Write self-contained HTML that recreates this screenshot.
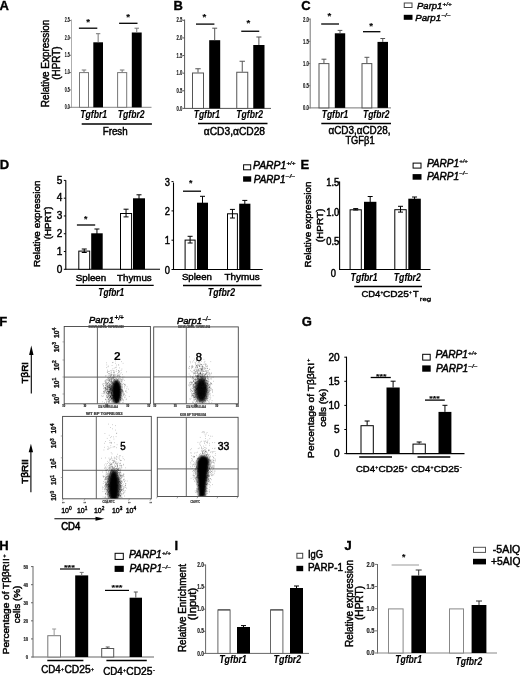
<!DOCTYPE html>
<html><head><meta charset="utf-8"><title>Figure</title>
<style>
html,body{margin:0;padding:0;background:#fff;}
body{width:520px;height:675px;overflow:hidden;}
svg{display:block;}
text{font-family:"Liberation Sans", Arial, sans-serif;}
</style></head>
<body>
<svg width="520" height="675" viewBox="0 0 520 675">
<rect width="520" height="675" fill="#fff"/>
<text x="-0.6" y="9.7" stroke="#000" stroke-width="0.35" font-weight="bold" font-size="13" >A</text>
<text transform="translate(48.6 63.4) rotate(-90)" stroke="#000" stroke-width="0.45" text-anchor="middle" font-size="10" textLength="87.5" lengthAdjust="spacingAndGlyphs" >Relative Expression</text>
<text transform="translate(60.0 63.1) rotate(-90)" stroke="#000" stroke-width="0.45" text-anchor="middle" font-size="10" textLength="33.2" lengthAdjust="spacingAndGlyphs" >(HPRT)</text>
<line x1="71.5" y1="19.5" x2="71.5" y2="107.8" stroke="#999" stroke-width="0.8"/>
<line x1="69" y1="107.3" x2="71" y2="107.3" stroke="#777" stroke-width="1"/>
<text x="69.7" y="109.0" stroke="#222" stroke-width="0.2" font-weight="bold" text-anchor="end" fill="#222" font-size="6.8" textLength="4.9" lengthAdjust="spacingAndGlyphs" >0.0</text>
<line x1="69" y1="89.94999999999999" x2="71" y2="89.94999999999999" stroke="#777" stroke-width="1"/>
<text x="69.7" y="91.64999999999999" stroke="#222" stroke-width="0.2" font-weight="bold" text-anchor="end" fill="#222" font-size="6.8" textLength="4.9" lengthAdjust="spacingAndGlyphs" >0.5</text>
<line x1="69" y1="72.6" x2="71" y2="72.6" stroke="#777" stroke-width="1"/>
<text x="69.7" y="74.3" stroke="#222" stroke-width="0.2" font-weight="bold" text-anchor="end" fill="#222" font-size="6.8" textLength="4.9" lengthAdjust="spacingAndGlyphs" >1.0</text>
<line x1="69" y1="55.24999999999999" x2="71" y2="55.24999999999999" stroke="#777" stroke-width="1"/>
<text x="69.7" y="56.949999999999996" stroke="#222" stroke-width="0.2" font-weight="bold" text-anchor="end" fill="#222" font-size="6.8" textLength="4.9" lengthAdjust="spacingAndGlyphs" >1.5</text>
<line x1="69" y1="37.89999999999999" x2="71" y2="37.89999999999999" stroke="#777" stroke-width="1"/>
<text x="69.7" y="39.599999999999994" stroke="#222" stroke-width="0.2" font-weight="bold" text-anchor="end" fill="#222" font-size="6.8" textLength="4.9" lengthAdjust="spacingAndGlyphs" >2.0</text>
<line x1="69" y1="20.549999999999997" x2="71" y2="20.549999999999997" stroke="#777" stroke-width="1"/>
<text x="69.7" y="22.249999999999996" stroke="#222" stroke-width="0.2" font-weight="bold" text-anchor="end" fill="#222" font-size="6.8" textLength="4.9" lengthAdjust="spacingAndGlyphs" >2.5</text>
<line x1="71" y1="107.3" x2="151.5" y2="107.3" stroke="#888" stroke-width="1"/>
<rect x="79.5" y="72.6" width="9" height="34.7" fill="#fff" stroke="#777" stroke-width="1"/>
<line x1="84.0" y1="70.0" x2="84.0" y2="72.1" stroke="#777" stroke-width="1"/>
<line x1="81.75" y1="70.0" x2="86.25" y2="70.0" stroke="#777" stroke-width="1"/>
<rect x="93.3" y="42.3" width="9.700000000000003" height="65.0" fill="#000"/>
<line x1="98.15" y1="33.7" x2="98.15" y2="42.3" stroke="#777" stroke-width="1"/>
<line x1="95.9675" y1="33.7" x2="100.33250000000001" y2="33.7" stroke="#777" stroke-width="1"/>
<rect x="117.6" y="72.6" width="9.100000000000009" height="34.7" fill="#fff" stroke="#777" stroke-width="1"/>
<line x1="122.15" y1="70.0" x2="122.15" y2="72.1" stroke="#777" stroke-width="1"/>
<line x1="119.8775" y1="70.0" x2="124.42250000000001" y2="70.0" stroke="#777" stroke-width="1"/>
<rect x="131.8" y="32.5" width="9.899999999999977" height="74.8" fill="#000"/>
<line x1="136.75" y1="28.2" x2="136.75" y2="32.5" stroke="#777" stroke-width="1"/>
<line x1="134.5225" y1="28.2" x2="138.9775" y2="28.2" stroke="#777" stroke-width="1"/>
<line x1="78.9" y1="28.2" x2="97.3" y2="28.2" stroke="#000" stroke-width="1.3"/>
<text x="88.2" y="24.6" stroke="#000" stroke-width="0.12" font-weight="bold" text-anchor="middle" font-size="9.600000000000001" >*</text>
<line x1="119.1" y1="23.3" x2="137.5" y2="23.3" stroke="#000" stroke-width="1.3"/>
<text x="128.1" y="19.9" stroke="#000" stroke-width="0.12" font-weight="bold" text-anchor="middle" font-size="9.600000000000001" >*</text>
<text x="80.2" y="117.7" stroke="#000" stroke-width="0.12" font-weight="bold" font-style="italic" font-size="10.2" textLength="27" lengthAdjust="spacingAndGlyphs" >Tgfbr1</text>
<text x="117.7" y="117.7" stroke="#000" stroke-width="0.12" font-weight="bold" font-style="italic" font-size="10.2" textLength="27" lengthAdjust="spacingAndGlyphs" >Tgfbr2</text>
<line x1="81.7" y1="124.0" x2="151.9" y2="124.0" stroke="#000" stroke-width="1.5"/>
<text x="102.7" y="135" stroke="#000" stroke-width="0.45" font-size="10" textLength="25" lengthAdjust="spacingAndGlyphs" >Fresh</text>
<text x="173.5" y="9.8" stroke="#000" stroke-width="0.35" font-weight="bold" font-size="13" >B</text>
<line x1="184.6" y1="19.5" x2="184.6" y2="108.9" stroke="#555" stroke-width="1"/>
<line x1="182.6" y1="108.4" x2="184.6" y2="108.4" stroke="#555" stroke-width="1"/>
<text x="182.3" y="110.5" stroke="#222" stroke-width="0.2" font-weight="bold" text-anchor="end" fill="#222" font-size="6.8" textLength="5.8" lengthAdjust="spacingAndGlyphs" >0.0</text>
<line x1="182.6" y1="90.78" x2="184.6" y2="90.78" stroke="#555" stroke-width="1"/>
<text x="182.3" y="92.88" stroke="#222" stroke-width="0.2" font-weight="bold" text-anchor="end" fill="#222" font-size="6.8" textLength="5.8" lengthAdjust="spacingAndGlyphs" >0.5</text>
<line x1="182.6" y1="73.16" x2="184.6" y2="73.16" stroke="#555" stroke-width="1"/>
<text x="182.3" y="75.25999999999999" stroke="#222" stroke-width="0.2" font-weight="bold" text-anchor="end" fill="#222" font-size="6.8" textLength="5.8" lengthAdjust="spacingAndGlyphs" >1.0</text>
<line x1="182.6" y1="55.540000000000006" x2="184.6" y2="55.540000000000006" stroke="#555" stroke-width="1"/>
<text x="182.3" y="57.64000000000001" stroke="#222" stroke-width="0.2" font-weight="bold" text-anchor="end" fill="#222" font-size="6.8" textLength="5.8" lengthAdjust="spacingAndGlyphs" >1.5</text>
<line x1="182.6" y1="37.92" x2="184.6" y2="37.92" stroke="#555" stroke-width="1"/>
<text x="182.3" y="40.02" stroke="#222" stroke-width="0.2" font-weight="bold" text-anchor="end" fill="#222" font-size="6.8" textLength="5.8" lengthAdjust="spacingAndGlyphs" >2.0</text>
<line x1="182.6" y1="20.299999999999997" x2="184.6" y2="20.299999999999997" stroke="#555" stroke-width="1"/>
<text x="182.3" y="22.4" stroke="#222" stroke-width="0.2" font-weight="bold" text-anchor="end" fill="#222" font-size="6.8" textLength="5.8" lengthAdjust="spacingAndGlyphs" >2.5</text>
<line x1="184.6" y1="108.4" x2="271" y2="108.4" stroke="#555" stroke-width="1"/>
<rect x="192.5" y="73.0" width="11" height="35.400000000000006" fill="#fff" stroke="#555" stroke-width="1"/>
<line x1="198.0" y1="68.75" x2="198.0" y2="72.5" stroke="#555" stroke-width="1"/>
<line x1="195.3" y1="68.75" x2="200.7" y2="68.75" stroke="#555" stroke-width="1"/>
<rect x="209.2" y="40.2" width="11.0" height="68.2" fill="#000"/>
<line x1="214.7" y1="28.2" x2="214.7" y2="40.2" stroke="#555" stroke-width="1"/>
<line x1="212.225" y1="28.2" x2="217.17499999999998" y2="28.2" stroke="#555" stroke-width="1"/>
<rect x="236.75" y="72.25" width="11.0" height="36.150000000000006" fill="#fff" stroke="#555" stroke-width="1"/>
<line x1="242.25" y1="61.25" x2="242.25" y2="71.75" stroke="#555" stroke-width="1"/>
<line x1="239.55" y1="61.25" x2="244.95" y2="61.25" stroke="#555" stroke-width="1"/>
<rect x="253.25" y="45" width="11.25" height="63.400000000000006" fill="#000"/>
<line x1="258.875" y1="37" x2="258.875" y2="45" stroke="#555" stroke-width="1"/>
<line x1="256.34375" y1="37" x2="261.40625" y2="37" stroke="#555" stroke-width="1"/>
<line x1="196" y1="24.1" x2="214.4" y2="24.1" stroke="#000" stroke-width="1.3"/>
<text x="204.4" y="19.8" stroke="#000" stroke-width="0.12" font-weight="bold" text-anchor="middle" font-size="9.600000000000001" >*</text>
<line x1="241.25" y1="31.25" x2="259.25" y2="31.25" stroke="#000" stroke-width="1.3"/>
<text x="248.25" y="26.3" stroke="#000" stroke-width="0.12" font-weight="bold" text-anchor="middle" font-size="9.600000000000001" >*</text>
<text x="193.75" y="117.5" stroke="#000" stroke-width="0.12" font-weight="bold" font-style="italic" font-size="10.2" textLength="26.3" lengthAdjust="spacingAndGlyphs" >Tgfbr1</text>
<text x="236.25" y="117.5" stroke="#000" stroke-width="0.12" font-weight="bold" font-style="italic" font-size="10.2" textLength="26.8" lengthAdjust="spacingAndGlyphs" >Tgfbr2</text>
<line x1="198" y1="123.5" x2="267.5" y2="123.5" stroke="#000" stroke-width="1.5"/>
<text x="203.75" y="134.5" stroke="#000" stroke-width="0.45" font-size="10" textLength="61.3" lengthAdjust="spacingAndGlyphs" >αCD3,αCD28</text>
<text x="301.3" y="9.7" stroke="#000" stroke-width="0.35" font-weight="bold" font-size="13" >C</text>
<line x1="310.2" y1="18.5" x2="310.2" y2="108.4" stroke="#777" stroke-width="1"/>
<line x1="308.2" y1="107.9" x2="310.2" y2="107.9" stroke="#777" stroke-width="1"/>
<text x="308.9" y="110.30000000000001" stroke="#222" stroke-width="0.2" font-weight="bold" text-anchor="end" fill="#222" font-size="6.6" textLength="5.8" lengthAdjust="spacingAndGlyphs" >0.0</text>
<line x1="308.2" y1="85.72500000000001" x2="310.2" y2="85.72500000000001" stroke="#777" stroke-width="1"/>
<text x="308.9" y="88.12500000000001" stroke="#222" stroke-width="0.2" font-weight="bold" text-anchor="end" fill="#222" font-size="6.6" textLength="5.8" lengthAdjust="spacingAndGlyphs" >0.5</text>
<line x1="308.2" y1="63.550000000000004" x2="310.2" y2="63.550000000000004" stroke="#777" stroke-width="1"/>
<text x="308.9" y="65.95" stroke="#222" stroke-width="0.2" font-weight="bold" text-anchor="end" fill="#222" font-size="6.6" textLength="5.8" lengthAdjust="spacingAndGlyphs" >1.0</text>
<line x1="308.2" y1="41.375" x2="310.2" y2="41.375" stroke="#777" stroke-width="1"/>
<text x="308.9" y="43.775" stroke="#222" stroke-width="0.2" font-weight="bold" text-anchor="end" fill="#222" font-size="6.6" textLength="5.8" lengthAdjust="spacingAndGlyphs" >1.5</text>
<line x1="308.2" y1="19.200000000000003" x2="310.2" y2="19.200000000000003" stroke="#777" stroke-width="1"/>
<text x="308.9" y="21.6" stroke="#222" stroke-width="0.2" font-weight="bold" text-anchor="end" fill="#222" font-size="6.6" textLength="5.8" lengthAdjust="spacingAndGlyphs" >2.0</text>
<line x1="310.2" y1="107.9" x2="391" y2="107.9" stroke="#777" stroke-width="1"/>
<rect x="319.0" y="63.6" width="9.899999999999977" height="44.300000000000004" fill="#fff" stroke="#555" stroke-width="1"/>
<line x1="323.95" y1="59.2" x2="323.95" y2="63.1" stroke="#555" stroke-width="1"/>
<line x1="321.4975" y1="59.2" x2="326.4025" y2="59.2" stroke="#555" stroke-width="1"/>
<rect x="334.8" y="33.3" width="10.399999999999977" height="74.60000000000001" fill="#000"/>
<line x1="340.0" y1="30.4" x2="340.0" y2="33.3" stroke="#555" stroke-width="1"/>
<line x1="337.66" y1="30.4" x2="342.34" y2="30.4" stroke="#555" stroke-width="1"/>
<rect x="362.0" y="63.6" width="9.800000000000011" height="44.300000000000004" fill="#fff" stroke="#555" stroke-width="1"/>
<line x1="366.9" y1="57.3" x2="366.9" y2="63.1" stroke="#555" stroke-width="1"/>
<line x1="364.46999999999997" y1="57.3" x2="369.33" y2="57.3" stroke="#555" stroke-width="1"/>
<rect x="377.5" y="41.9" width="10.5" height="66.0" fill="#000"/>
<line x1="382.75" y1="38.5" x2="382.75" y2="41.9" stroke="#555" stroke-width="1"/>
<line x1="380.3875" y1="38.5" x2="385.1125" y2="38.5" stroke="#555" stroke-width="1"/>
<line x1="321.2" y1="24" x2="339" y2="24" stroke="#000" stroke-width="1.3"/>
<text x="329.4" y="18.8" stroke="#000" stroke-width="0.12" font-weight="bold" text-anchor="middle" font-size="9.600000000000001" >*</text>
<line x1="363" y1="31.7" x2="380.4" y2="31.7" stroke="#000" stroke-width="1.3"/>
<text x="371.2" y="29.0" stroke="#000" stroke-width="0.12" font-weight="bold" text-anchor="middle" font-size="9.600000000000001" >*</text>
<text x="321.7" y="117.7" stroke="#000" stroke-width="0.12" font-weight="bold" font-style="italic" font-size="10.0" textLength="26.5" lengthAdjust="spacingAndGlyphs" >Tgfbr1</text>
<text x="363" y="117.7" stroke="#000" stroke-width="0.12" font-weight="bold" font-style="italic" font-size="10.0" textLength="26.4" lengthAdjust="spacingAndGlyphs" >Tgfbr2</text>
<line x1="321.3" y1="123.6" x2="391" y2="123.6" stroke="#000" stroke-width="1.5"/>
<text x="328.5" y="134" stroke="#000" stroke-width="0.45" font-size="10" textLength="62" lengthAdjust="spacingAndGlyphs" >αCD3,αCD28,</text>
<text x="345.4" y="143.9" stroke="#000" stroke-width="0.45" font-size="10" textLength="29.2" lengthAdjust="spacingAndGlyphs" >TGFβ1</text>
<rect x="404.25" y="3.0" width="7.75" height="4.5" fill="#fff" stroke="#444" stroke-width="1"/>
<rect x="403.75" y="14.8" width="8.75" height="5.0" fill="#000"/>
<text x="417" y="8.9" stroke="#000" stroke-width="0.45" font-style="italic" font-size="9.8" textLength="25.4" lengthAdjust="spacingAndGlyphs" >Parp1</text>
<text x="442.6" y="5.6" stroke="#000" stroke-width="0.2" font-weight="bold" font-style="italic" font-size="6.2" textLength="9" lengthAdjust="spacingAndGlyphs" >+/+</text>
<text x="415.3" y="20.6" stroke="#000" stroke-width="0.45" font-style="italic" font-size="9.8" textLength="25.8" lengthAdjust="spacingAndGlyphs" >Parp1</text>
<text x="441.5" y="17.3" stroke="#000" stroke-width="0.2" font-weight="bold" font-style="italic" font-size="6.2" textLength="9" lengthAdjust="spacingAndGlyphs" >–/–</text>
<text x="-0.2" y="168.8" stroke="#000" stroke-width="0.35" font-weight="bold" font-size="13" >D</text>
<text transform="translate(40.4 223.7) rotate(-90)" stroke="#000" stroke-width="0.45" text-anchor="middle" font-size="9.5" textLength="86.4" lengthAdjust="spacingAndGlyphs" >Relative expression</text>
<text transform="translate(50.6 222.9) rotate(-90)" stroke="#000" stroke-width="0.45" text-anchor="middle" font-size="9.5" textLength="32.6" lengthAdjust="spacingAndGlyphs" >(HPRT)</text>
<line x1="65.8" y1="180.3" x2="65.8" y2="269.8" stroke="#000" stroke-width="1.1"/>
<line x1="63.8" y1="269.3" x2="65.8" y2="269.3" stroke="#000" stroke-width="1"/>
<text x="62.3" y="272.6" stroke="#000" stroke-width="0.45" text-anchor="end" font-size="10.5" textLength="5.6" lengthAdjust="spacingAndGlyphs" >0</text>
<line x1="63.8" y1="251.52" x2="65.8" y2="251.52" stroke="#000" stroke-width="1"/>
<text x="62.3" y="254.82000000000002" stroke="#000" stroke-width="0.45" text-anchor="end" font-size="10.5" textLength="5.6" lengthAdjust="spacingAndGlyphs" >1</text>
<line x1="63.8" y1="233.74" x2="65.8" y2="233.74" stroke="#000" stroke-width="1"/>
<text x="62.3" y="237.04000000000002" stroke="#000" stroke-width="0.45" text-anchor="end" font-size="10.5" textLength="5.6" lengthAdjust="spacingAndGlyphs" >2</text>
<line x1="63.8" y1="215.96" x2="65.8" y2="215.96" stroke="#000" stroke-width="1"/>
<text x="62.3" y="219.26000000000002" stroke="#000" stroke-width="0.45" text-anchor="end" font-size="10.5" textLength="5.6" lengthAdjust="spacingAndGlyphs" >3</text>
<line x1="63.8" y1="198.18" x2="65.8" y2="198.18" stroke="#000" stroke-width="1"/>
<text x="62.3" y="201.48000000000002" stroke="#000" stroke-width="0.45" text-anchor="end" font-size="10.5" textLength="5.6" lengthAdjust="spacingAndGlyphs" >4</text>
<line x1="63.8" y1="180.4" x2="65.8" y2="180.4" stroke="#000" stroke-width="1"/>
<text x="62.3" y="183.70000000000002" stroke="#000" stroke-width="0.45" text-anchor="end" font-size="10.5" textLength="5.6" lengthAdjust="spacingAndGlyphs" >5</text>
<line x1="65.8" y1="269.3" x2="160" y2="269.3" stroke="#000" stroke-width="1.1"/>
<rect x="78.8" y="251.1" width="10.900000000000006" height="18.200000000000017" fill="#fff" stroke="#000" stroke-width="1"/>
<line x1="84.25" y1="249.0" x2="84.25" y2="252.5" stroke="#000" stroke-width="1"/>
<line x1="81.75" y1="249.0" x2="86.75" y2="249.0" stroke="#000" stroke-width="1"/>
<line x1="81.75" y1="252.5" x2="86.75" y2="252.5" stroke="#000" stroke-width="1"/>
<rect x="91.2" y="233.3" width="11.5" height="36.0" fill="#000"/>
<line x1="96.95" y1="229" x2="96.95" y2="237" stroke="#000" stroke-width="1"/>
<line x1="94.45" y1="229" x2="99.45" y2="229" stroke="#000" stroke-width="1"/>
<line x1="94.45" y1="237" x2="99.45" y2="237" stroke="#000" stroke-width="1"/>
<rect x="120.5" y="213.5" width="11.099999999999994" height="55.80000000000001" fill="#fff" stroke="#000" stroke-width="1"/>
<line x1="126.05" y1="209.2" x2="126.05" y2="216.9" stroke="#000" stroke-width="1"/>
<line x1="123.55" y1="209.2" x2="128.55" y2="209.2" stroke="#000" stroke-width="1"/>
<line x1="123.55" y1="216.9" x2="128.55" y2="216.9" stroke="#000" stroke-width="1"/>
<rect x="133" y="198.3" width="12" height="71.0" fill="#000"/>
<line x1="139.0" y1="194.8" x2="139.0" y2="200.6" stroke="#000" stroke-width="1"/>
<line x1="136.5" y1="194.8" x2="141.5" y2="194.8" stroke="#000" stroke-width="1"/>
<line x1="136.5" y1="200.6" x2="141.5" y2="200.6" stroke="#000" stroke-width="1"/>
<line x1="76.9" y1="225" x2="95.2" y2="225" stroke="#000" stroke-width="1.3"/>
<text x="85.6" y="221.5" stroke="#000" stroke-width="0.12" font-weight="bold" text-anchor="middle" font-size="8.8" >*</text>
<text x="75.8" y="280.5" stroke="#000" stroke-width="0.45" font-size="9.5" textLength="30.4" lengthAdjust="spacingAndGlyphs" >Spleen</text>
<text x="117.1" y="280.5" stroke="#000" stroke-width="0.45" font-size="9.5" textLength="34.6" lengthAdjust="spacingAndGlyphs" >Thymus</text>
<line x1="75.8" y1="285.4" x2="153.7" y2="285.4" stroke="#000" stroke-width="1.4"/>
<text x="98.3" y="296" stroke="#000" stroke-width="0.12" font-weight="bold" font-style="italic" font-size="10" textLength="25.9" lengthAdjust="spacingAndGlyphs" >Tgfbr1</text>
<line x1="173.5" y1="182.5" x2="173.5" y2="270.0" stroke="#000" stroke-width="1.1"/>
<line x1="171.5" y1="269.5" x2="173.5" y2="269.5" stroke="#000" stroke-width="1"/>
<text x="170" y="274.3" stroke="#000" stroke-width="0.45" text-anchor="end" font-size="10.5" textLength="5.2" lengthAdjust="spacingAndGlyphs" >0</text>
<line x1="171.5" y1="240.2" x2="173.5" y2="240.2" stroke="#000" stroke-width="1"/>
<text x="170" y="244.1" stroke="#000" stroke-width="0.45" text-anchor="end" font-size="10.5" textLength="5.2" lengthAdjust="spacingAndGlyphs" >1</text>
<line x1="171.5" y1="210.9" x2="173.5" y2="210.9" stroke="#000" stroke-width="1"/>
<text x="170" y="214.8" stroke="#000" stroke-width="0.45" text-anchor="end" font-size="10.5" textLength="5.2" lengthAdjust="spacingAndGlyphs" >2</text>
<line x1="171.5" y1="181.6" x2="173.5" y2="181.6" stroke="#000" stroke-width="1"/>
<text x="170" y="185.5" stroke="#000" stroke-width="0.45" text-anchor="end" font-size="10.5" textLength="5.2" lengthAdjust="spacingAndGlyphs" >3</text>
<line x1="173.5" y1="269.5" x2="262.7" y2="269.5" stroke="#000" stroke-width="1.1"/>
<rect x="185.1" y="240.1" width="10.0" height="29.400000000000006" fill="#fff" stroke="#000" stroke-width="1"/>
<line x1="190.1" y1="236.3" x2="190.1" y2="243" stroke="#000" stroke-width="1"/>
<line x1="187.6" y1="236.3" x2="192.6" y2="236.3" stroke="#000" stroke-width="1"/>
<line x1="187.6" y1="243" x2="192.6" y2="243" stroke="#000" stroke-width="1"/>
<rect x="197" y="202.7" width="11" height="66.80000000000001" fill="#000"/>
<line x1="202.5" y1="196.3" x2="202.5" y2="208" stroke="#000" stroke-width="1"/>
<line x1="200.0" y1="196.3" x2="205.0" y2="196.3" stroke="#000" stroke-width="1"/>
<line x1="200.0" y1="208" x2="205.0" y2="208" stroke="#000" stroke-width="1"/>
<rect x="227.5" y="213.8" width="9.900000000000006" height="55.69999999999999" fill="#fff" stroke="#000" stroke-width="1"/>
<line x1="232.45" y1="209.4" x2="232.45" y2="218" stroke="#000" stroke-width="1"/>
<line x1="229.95" y1="209.4" x2="234.95" y2="209.4" stroke="#000" stroke-width="1"/>
<line x1="229.95" y1="218" x2="234.95" y2="218" stroke="#000" stroke-width="1"/>
<rect x="239.2" y="203.7" width="11.200000000000017" height="65.80000000000001" fill="#000"/>
<line x1="244.8" y1="200.4" x2="244.8" y2="206" stroke="#000" stroke-width="1"/>
<line x1="242.3" y1="200.4" x2="247.3" y2="200.4" stroke="#000" stroke-width="1"/>
<line x1="242.3" y1="206" x2="247.3" y2="206" stroke="#000" stroke-width="1"/>
<line x1="183" y1="191.2" x2="201" y2="191.2" stroke="#000" stroke-width="1.3"/>
<text x="190.8" y="186.2" stroke="#000" stroke-width="0.12" font-weight="bold" text-anchor="middle" font-size="8.8" >*</text>
<text x="181.9" y="280.4" stroke="#000" stroke-width="0.45" font-size="9.5" textLength="30" lengthAdjust="spacingAndGlyphs" >Spleen</text>
<text x="224.6" y="280.4" stroke="#000" stroke-width="0.45" font-size="9.5" textLength="35.1" lengthAdjust="spacingAndGlyphs" >Thymus</text>
<line x1="183" y1="285.5" x2="261.5" y2="285.5" stroke="#000" stroke-width="1.4"/>
<text x="207.8" y="295.6" stroke="#000" stroke-width="0.12" font-weight="bold" font-style="italic" font-size="10" textLength="27.2" lengthAdjust="spacingAndGlyphs" >Tgfbr2</text>
<rect x="243.6" y="164.8" width="7.099999999999994" height="5.0" fill="#fff" stroke="#000" stroke-width="1"/>
<rect x="243.1" y="176.3" width="8.099999999999994" height="5.399999999999977" fill="#000"/>
<text x="253" y="169.2" stroke="#000" stroke-width="0.45" font-style="italic" font-size="10" textLength="33.2" lengthAdjust="spacingAndGlyphs" >PARP1</text>
<text x="286.4" y="165.0" stroke="#000" stroke-width="0.2" font-weight="bold" font-style="italic" font-size="6" textLength="9" lengthAdjust="spacingAndGlyphs" >+/+</text>
<text x="253.8" y="182.7" stroke="#000" stroke-width="0.45" font-style="italic" font-size="10" textLength="31.6" lengthAdjust="spacingAndGlyphs" >PARP1</text>
<text x="285.6" y="177.8" stroke="#000" stroke-width="0.2" font-weight="bold" font-style="italic" font-size="6" textLength="9.5" lengthAdjust="spacingAndGlyphs" >–/–</text>
<text x="300.6" y="168.8" stroke="#000" stroke-width="0.35" font-weight="bold" font-size="13" >E</text>
<text transform="translate(311.0 224.5) rotate(-90)" stroke="#000" stroke-width="0.45" text-anchor="middle" font-size="9.5" textLength="85.8" lengthAdjust="spacingAndGlyphs" >Relative expression</text>
<text transform="translate(322.8 225.4) rotate(-90)" stroke="#000" stroke-width="0.45" text-anchor="middle" font-size="9.5" textLength="33.5" lengthAdjust="spacingAndGlyphs" >(HPRT)</text>
<line x1="339.6" y1="181.5" x2="339.6" y2="270.0" stroke="#000" stroke-width="1.1"/>
<line x1="337.6" y1="182.2" x2="339.6" y2="182.2" stroke="#000" stroke-width="1"/>
<text x="339.2" y="185.79999999999998" stroke="#000" stroke-width="0.45" text-anchor="end" font-size="10" textLength="13" lengthAdjust="spacingAndGlyphs" >1.5</text>
<line x1="337.6" y1="212" x2="339.6" y2="212" stroke="#000" stroke-width="1"/>
<text x="339.2" y="215.6" stroke="#000" stroke-width="0.45" text-anchor="end" font-size="10" textLength="13" lengthAdjust="spacingAndGlyphs" >1.0</text>
<line x1="337.6" y1="241.7" x2="339.6" y2="241.7" stroke="#000" stroke-width="1"/>
<text x="339.2" y="245.29999999999998" stroke="#000" stroke-width="0.45" text-anchor="end" font-size="10" textLength="13" lengthAdjust="spacingAndGlyphs" >0.5</text>
<text x="336" y="276.6" stroke="#000" stroke-width="0.45" text-anchor="end" font-size="10" textLength="5.2" lengthAdjust="spacingAndGlyphs" >0</text>
<line x1="339.6" y1="269.5" x2="430.4" y2="269.5" stroke="#000" stroke-width="1.1"/>
<rect x="350.1" y="209.8" width="11.199999999999989" height="59.69999999999999" fill="#fff" stroke="#000" stroke-width="1"/>
<line x1="355.70000000000005" y1="208.6" x2="355.70000000000005" y2="210" stroke="#000" stroke-width="1"/>
<line x1="353.20000000000005" y1="208.6" x2="358.20000000000005" y2="208.6" stroke="#000" stroke-width="1"/>
<line x1="353.20000000000005" y1="210" x2="358.20000000000005" y2="210" stroke="#000" stroke-width="1"/>
<rect x="364" y="201.8" width="12.399999999999977" height="67.69999999999999" fill="#000"/>
<line x1="370.2" y1="196.5" x2="370.2" y2="205" stroke="#000" stroke-width="1"/>
<line x1="367.7" y1="196.5" x2="372.7" y2="196.5" stroke="#000" stroke-width="1"/>
<line x1="367.7" y1="205" x2="372.7" y2="205" stroke="#000" stroke-width="1"/>
<rect x="394.8" y="209.7" width="11.399999999999977" height="59.80000000000001" fill="#fff" stroke="#000" stroke-width="1"/>
<line x1="400.5" y1="206.3" x2="400.5" y2="212.1" stroke="#000" stroke-width="1"/>
<line x1="398.0" y1="206.3" x2="403.0" y2="206.3" stroke="#000" stroke-width="1"/>
<line x1="398.0" y1="212.1" x2="403.0" y2="212.1" stroke="#000" stroke-width="1"/>
<rect x="408.3" y="198.7" width="12.5" height="70.80000000000001" fill="#000"/>
<line x1="414.55" y1="197" x2="414.55" y2="200" stroke="#000" stroke-width="1"/>
<line x1="412.05" y1="197" x2="417.05" y2="197" stroke="#000" stroke-width="1"/>
<line x1="412.05" y1="200" x2="417.05" y2="200" stroke="#000" stroke-width="1"/>
<text x="350.6" y="280.6" stroke="#000" stroke-width="0.12" font-weight="bold" font-style="italic" font-size="10" textLength="26.9" lengthAdjust="spacingAndGlyphs" >Tgfbr1</text>
<text x="393.8" y="280.6" stroke="#000" stroke-width="0.12" font-weight="bold" font-style="italic" font-size="10" textLength="27" lengthAdjust="spacingAndGlyphs" >Tgfbr2</text>
<line x1="354.2" y1="286.5" x2="422" y2="286.5" stroke="#000" stroke-width="1.4"/>
<text x="361.4" y="297.3" stroke="#000" stroke-width="0.45" font-size="9.5" textLength="18.9" lengthAdjust="spacingAndGlyphs" >CD4</text>
<text x="380.6" y="294.3" stroke="#000" stroke-width="0.3" font-size="5.5" textLength="2.8" lengthAdjust="spacingAndGlyphs" >+</text>
<text x="383.0" y="297.3" stroke="#000" stroke-width="0.45" font-size="9.5" textLength="25.8" lengthAdjust="spacingAndGlyphs" >CD25</text>
<text x="408.9" y="294.3" stroke="#000" stroke-width="0.3" font-size="5.5" textLength="2.8" lengthAdjust="spacingAndGlyphs" >+</text>
<text x="413.0" y="297.3" stroke="#000" stroke-width="0.45" font-size="9.5" textLength="5.6" lengthAdjust="spacingAndGlyphs" >T</text>
<text x="419.8" y="300.6" stroke="#000" stroke-width="0.3" font-size="6.2" textLength="11.5" lengthAdjust="spacingAndGlyphs" >reg</text>
<rect x="413.1" y="163.1" width="7.899999999999977" height="5.0" fill="#fff" stroke="#000" stroke-width="1"/>
<rect x="412.6" y="174.1" width="8.899999999999977" height="5.599999999999994" fill="#000"/>
<text x="426.9" y="167" stroke="#000" stroke-width="0.45" font-style="italic" font-size="10" textLength="32.3" lengthAdjust="spacingAndGlyphs" >PARP1</text>
<text x="459.3" y="163.0" stroke="#000" stroke-width="0.2" font-weight="bold" font-style="italic" font-size="6" textLength="8.5" lengthAdjust="spacingAndGlyphs" >+/+</text>
<text x="426.9" y="179.6" stroke="#000" stroke-width="0.45" font-style="italic" font-size="10" textLength="32.3" lengthAdjust="spacingAndGlyphs" >PARP1</text>
<text x="459.3" y="175.4" stroke="#000" stroke-width="0.2" font-weight="bold" font-style="italic" font-size="6" textLength="8.5" lengthAdjust="spacingAndGlyphs" >–/–</text>
<text x="-0.8" y="325.8" stroke="#000" stroke-width="0.35" font-weight="bold" font-size="13" >F</text>
<rect x="64.2" y="326.5" width="86.2" height="77.30000000000001" fill="none" stroke="#444" stroke-width="0.9"/>
<line x1="97.4" y1="326.5" x2="97.4" y2="403.8" stroke="#555" stroke-width="0.9"/>
<line x1="64.2" y1="377.1" x2="150.4" y2="377.1" stroke="#555" stroke-width="0.9"/>
<rect x="153.7" y="326.9" width="84.60000000000002" height="76.90000000000003" fill="none" stroke="#444" stroke-width="0.9"/>
<line x1="186.3" y1="326.9" x2="186.3" y2="403.8" stroke="#555" stroke-width="0.9"/>
<line x1="153.7" y1="376.9" x2="238.3" y2="376.9" stroke="#555" stroke-width="0.9"/>
<rect x="62.6" y="416.4" width="88.70000000000002" height="82.40000000000003" fill="none" stroke="#444" stroke-width="0.9"/>
<line x1="96.3" y1="416.4" x2="96.3" y2="498.8" stroke="#555" stroke-width="0.9"/>
<line x1="62.6" y1="470.3" x2="151.3" y2="470.3" stroke="#555" stroke-width="0.9"/>
<rect x="157.3" y="417.3" width="80.79999999999998" height="79.19999999999999" fill="none" stroke="#444" stroke-width="0.9"/>
<line x1="186.3" y1="417.3" x2="186.3" y2="496.5" stroke="#555" stroke-width="0.9"/>
<line x1="157.3" y1="468.9" x2="238.1" y2="468.9" stroke="#555" stroke-width="0.9"/>
<defs><filter id="bl" x="-50%" y="-50%" width="200%" height="200%"><feGaussianBlur stdDeviation="1.1"/></filter><filter id="bl2" x="-50%" y="-50%" width="200%" height="200%"><feGaussianBlur stdDeviation="1.6"/></filter><clipPath id="c1"><rect x="64.6" y="326.9" width="85.4" height="76.5"/></clipPath><clipPath id="c2"><rect x="154.1" y="327.3" width="83.8" height="76.1"/></clipPath><clipPath id="c3"><rect x="63" y="416.8" width="87.9" height="81.6"/></clipPath><clipPath id="c4"><rect x="157.7" y="417.7" width="80" height="78.4"/></clipPath></defs>
<g clip-path="url(#c1)">
<path d="M116.6 390.0h.5M121.4 390.5h.5M110.9 390.9h.5M109.3 373.8h.5M114.3 391.3h.5M113.0 377.0h.5M119.3 389.7h.5M115.6 379.6h.5M124.4 384.5h.5M118.3 388.4h.5M113.1 391.7h.5M120.5 397.6h.5M114.8 386.1h.5M122.2 387.9h.5M110.1 388.3h.5M118.3 389.8h.5M116.8 379.0h.5M125.5 391.4h.5M114.3 388.5h.5M110.3 390.3h.5M112.5 390.8h.5M119.1 371.9h.5M108.1 391.1h.5M110.7 388.6h.5M109.3 384.7h.5M113.7 384.1h.5M111.5 378.3h.5M112.3 388.2h.5M117.3 383.6h.5M112.9 401.4h.5M113.8 395.4h.5M112.6 393.3h.5M118.8 394.6h.5M119.2 379.4h.5M110.5 396.9h.5M115.4 392.2h.5M110.7 388.6h.5M112.2 381.6h.5M116.8 393.0h.5M118.6 386.1h.5M105.1 389.8h.5M115.4 401.3h.5M115.0 390.4h.5M117.6 381.1h.5M109.1 389.9h.5M114.9 392.1h.5M116.7 400.1h.5M122.4 374.6h.5M114.0 391.8h.5M112.5 389.5h.5M110.1 387.1h.5M115.7 388.1h.5M117.9 383.4h.5M110.6 390.0h.5M116.7 381.1h.5M122.2 399.2h.5M122.0 390.4h.5M114.3 392.5h.5M114.8 391.8h.5M117.0 375.7h.5M107.3 388.7h.5M111.6 391.8h.5M109.9 391.0h.5M114.6 394.4h.5M114.3 396.8h.5M117.0 391.5h.5M118.9 382.1h.5M113.4 401.4h.5M119.7 386.7h.5M113.1 385.7h.5M109.3 381.3h.5M110.7 384.5h.5M114.2 393.3h.5M110.2 389.6h.5M107.3 389.7h.5M108.2 399.4h.5M111.9 383.1h.5M106.8 379.7h.5M110.5 376.8h.5M113.6 378.2h.5M110.2 398.8h.5M113.4 397.0h.5M114.8 389.3h.5M114.9 383.5h.5M114.7 395.2h.5M112.7 388.0h.5M112.4 378.6h.5M113.2 388.7h.5M109.7 390.8h.5M107.5 394.7h.5M114.0 384.4h.5M120.6 394.6h.5M103.6 388.7h.5M113.5 400.8h.5M117.2 384.1h.5M118.6 389.5h.5M110.6 393.1h.5M113.5 375.6h.5M117.0 397.6h.5M117.7 388.9h.5M118.8 392.6h.5M115.0 388.6h.5M114.3 381.8h.5M116.7 382.2h.5M113.0 394.2h.5M116.1 382.7h.5M113.6 390.6h.5M116.2 390.5h.5M111.4 393.8h.5M116.2 388.8h.5M110.5 386.9h.5M118.4 388.1h.5M114.7 398.1h.5M117.5 400.3h.5M118.1 372.8h.5M116.9 375.6h.5M120.8 370.4h.5M112.9 379.7h.5M114.7 392.5h.5M115.1 375.7h.5M114.9 389.5h.5M113.5 380.8h.5M119.4 388.2h.5M112.8 390.7h.5M118.0 395.6h.5M117.7 384.3h.5M116.9 384.5h.5M111.0 383.6h.5M114.7 395.9h.5M117.2 400.5h.5M116.2 387.8h.5M113.9 375.5h.5M111.9 394.7h.5M109.9 396.7h.5M105.5 386.0h.5M113.1 374.9h.5M112.5 395.4h.5M113.0 399.9h.5M112.9 396.5h.5M113.9 375.2h.5M110.1 396.9h.5M123.4 391.3h.5M116.6 386.3h.5M119.2 389.8h.5M110.3 391.6h.5M122.3 390.9h.5M112.1 391.6h.5M105.4 385.6h.5M113.1 398.8h.5M112.3 400.1h.5M119.5 387.0h.5M116.8 384.5h.5M112.6 390.3h.5M117.9 400.2h.5M118.8 395.6h.5M119.9 389.3h.5M111.1 388.1h.5M117.5 389.8h.5M117.8 389.2h.5M111.1 390.7h.5M117.0 393.0h.5M112.2 398.2h.5M106.9 387.6h.5M114.2 383.9h.5M110.8 372.6h.5M117.8 389.5h.5M115.0 397.1h.5M108.9 387.7h.5M113.3 382.6h.5M113.5 397.3h.5M112.3 396.4h.5M120.5 397.4h.5M104.1 402.5h.5M114.2 392.3h.5M116.2 391.1h.5M124.6 384.2h.5M112.7 388.2h.5M109.7 386.3h.5M117.5 393.1h.5M110.2 396.5h.5M115.9 384.2h.5M106.0 383.8h.5M123.4 383.5h.5M115.8 401.0h.5M110.8 390.4h.5M120.0 393.7h.5M115.4 394.6h.5M114.0 385.0h.5M111.5 386.8h.5M111.3 388.7h.5M119.5 385.8h.5M119.0 388.5h.5M111.1 375.2h.5M111.4 388.4h.5M108.3 389.7h.5M108.2 391.9h.5M116.5 387.1h.5M118.2 401.6h.5M113.5 397.7h.5M120.1 397.9h.5M116.1 381.6h.5M109.5 386.2h.5M111.0 385.9h.5M128.2 389.2h.5M119.3 396.1h.5M117.9 394.3h.5M108.4 391.4h.5M114.3 389.1h.5M111.0 392.2h.5M120.3 376.5h.5M116.2 383.6h.5M123.5 402.2h.5M117.7 400.7h.5M119.3 392.4h.5M111.9 390.5h.5M107.7 378.5h.5M113.7 388.2h.5M110.7 378.3h.5M107.0 394.9h.5M118.7 387.6h.5M118.1 380.1h.5M115.1 403.2h.5M110.6 390.8h.5M113.7 383.4h.5M122.7 391.0h.5M121.9 379.5h.5M116.5 392.5h.5M108.7 386.2h.5M111.5 377.9h.5M122.1 377.1h.5M115.7 388.2h.5M115.6 400.2h.5M117.6 382.0h.5M118.7 385.9h.5M119.9 389.1h.5M113.4 381.5h.5M122.8 379.6h.5M118.5 387.9h.5M112.1 400.9h.5M115.9 388.8h.5M117.8 389.2h.5M119.9 373.9h.5M122.1 391.4h.5M109.3 397.6h.5M113.1 380.7h.5M111.0 392.8h.5M114.7 390.4h.5M118.6 385.8h.5M109.0 375.4h.5M115.3 395.7h.5M114.4 390.6h.5M113.5 375.6h.5M114.1 379.4h.5M113.8 386.6h.5M110.1 381.2h.5M117.1 391.1h.5M116.5 382.0h.5M116.1 385.7h.5M112.8 386.5h.5M116.5 402.3h.5M105.3 387.9h.5M117.1 388.1h.5M112.6 386.8h.5M119.1 402.9h.5M113.3 379.0h.5M108.7 394.2h.5M115.1 381.4h.5M117.3 382.2h.5M120.0 392.9h.5M114.7 400.6h.5M118.8 387.5h.5M114.7 371.2h.5M112.2 395.7h.5M110.9 396.9h.5M110.5 387.6h.5M120.3 400.0h.5M108.7 378.2h.5M116.9 379.7h.5M110.1 391.2h.5M118.5 399.8h.5M112.7 398.8h.5M111.9 398.7h.5M116.9 386.9h.5M114.9 395.8h.5M121.7 391.7h.5M113.5 383.5h.5M109.8 396.2h.5M115.3 391.5h.5M113.9 386.6h.5M108.9 384.5h.5M120.0 399.0h.5M120.4 392.6h.5M117.0 394.3h.5M114.8 398.4h.5M113.7 383.9h.5M116.6 395.1h.5M117.7 395.1h.5M121.7 398.6h.5M115.2 389.3h.5M111.1 392.9h.5M115.5 386.7h.5M109.2 393.3h.5M106.5 395.9h.5M105.3 388.6h.5M107.3 388.3h.5M111.0 388.1h.5M109.0 391.7h.5M109.0 393.0h.5M113.8 401.8h.5M109.6 379.9h.5M111.4 390.5h.5M111.4 403.2h.5M109.2 387.2h.5M103.2 391.7h.5M110.5 388.4h.5M105.4 387.5h.5M108.4 396.0h.5M104.2 392.6h.5M107.7 399.7h.5M113.5 397.6h.5M111.9 374.4h.5M107.2 383.7h.5M111.9 397.0h.5M105.4 389.2h.5M108.4 391.0h.5M109.6 391.8h.5M114.2 381.6h.5M106.7 403.1h.5M111.1 387.0h.5M109.1 390.1h.5M111.1 398.3h.5M105.3 399.5h.5M110.9 389.4h.5M104.8 392.6h.5M101.1 395.8h.5M109.7 387.4h.5M114.2 384.1h.5M107.4 384.4h.5M111.3 394.3h.5M111.2 397.0h.5M108.4 377.9h.5M108.8 392.9h.5M109.0 391.0h.5M104.6 388.8h.5M107.6 391.4h.5M112.1 385.4h.5M117.2 394.3h.5M108.8 389.1h.5M107.8 393.3h.5M103.4 395.9h.5M109.1 381.1h.5M103.8 390.1h.5M107.1 383.6h.5M112.7 388.0h.5M111.7 395.5h.5M109.8 385.6h.5M115.4 401.2h.5M106.3 393.0h.5M108.7 393.7h.5M107.5 389.8h.5M108.3 379.1h.5M110.0 396.5h.5M107.3 396.8h.5M110.1 385.6h.5M112.9 392.7h.5M107.7 387.2h.5M109.7 389.2h.5M107.2 386.3h.5M111.1 398.6h.5M105.3 389.8h.5M105.2 382.8h.5M106.9 386.9h.5M111.3 395.3h.5M105.3 387.8h.5M108.8 392.2h.5M110.2 397.0h.5M110.4 389.1h.5M110.8 395.8h.5M111.7 382.7h.5M109.4 385.7h.5M110.5 392.2h.5M110.5 388.9h.5M108.7 400.7h.5M105.4 390.6h.5M114.5 398.1h.5M110.1 393.1h.5M109.5 391.5h.5M115.1 402.7h.5M107.3 397.5h.5M106.4 380.8h.5M107.8 385.5h.5M109.5 391.1h.5M109.6 392.1h.5M109.9 397.1h.5M106.0 391.8h.5M115.3 388.2h.5M103.1 388.1h.5M116.5 387.0h.5M111.6 386.9h.5M105.4 380.1h.5M116.5 367.2h.5M116.3 376.4h.5M113.4 374.2h.5M112.5 377.0h.5M121.7 369.0h.5M118.4 372.3h.5M111.9 377.8h.5M110.3 375.6h.5M113.1 372.2h.5M122.8 363.3h.5M112.4 362.6h.5M119.5 376.0h.5M107.8 375.0h.5M111.9 370.2h.5M119.4 371.7h.5M118.0 364.8h.5M108.9 377.3h.5" stroke="#000" stroke-width="0.8" stroke-opacity="0.45" fill="none"/>
<path d="M111.1 387.7h.5M112.3 385.8h.5M118.4 389.8h.5M114.1 374.3h.5M112.7 368.6h.5M111.5 381.7h.5M114.7 385.0h.5M108.1 401.5h.5M109.7 396.5h.5M118.3 389.4h.5M109.7 391.1h.5M111.5 378.8h.5M118.4 400.7h.5M113.8 386.4h.5M113.2 389.9h.5M120.0 387.1h.5M105.8 375.7h.5M112.3 382.9h.5M117.6 396.0h.5M111.3 392.2h.5M106.0 389.0h.5M118.7 375.2h.5M121.8 400.6h.5M112.7 399.3h.5M114.5 400.7h.5M115.2 385.2h.5M116.8 381.0h.5M118.6 375.0h.5M114.5 385.4h.5M115.0 392.5h.5M115.3 388.7h.5M119.6 378.3h.5M119.4 397.1h.5M119.2 394.2h.5M119.1 389.9h.5M115.4 387.9h.5M117.5 376.0h.5M111.1 381.5h.5M114.8 397.5h.5M115.6 389.3h.5M106.1 384.1h.5M110.9 380.0h.5M118.9 390.3h.5M120.2 384.2h.5M118.7 386.1h.5M110.2 390.7h.5M122.2 390.0h.5M119.4 398.2h.5M115.4 388.3h.5M122.6 384.6h.5M119.2 389.4h.5M114.1 376.5h.5M113.8 403.0h.5M124.5 393.9h.5M110.1 379.4h.5M117.7 392.2h.5M110.9 398.2h.5M116.6 391.8h.5M123.8 394.3h.5M108.7 373.5h.5M112.1 386.8h.5M114.9 380.1h.5M120.1 399.5h.5M113.6 386.7h.5M119.8 391.8h.5M119.9 386.8h.5M106.5 393.9h.5M110.0 387.5h.5M120.1 379.4h.5M112.7 389.6h.5M119.3 389.6h.5M112.8 397.3h.5M117.9 383.6h.5M115.4 389.1h.5M110.2 395.5h.5M111.8 380.8h.5M111.7 395.0h.5M115.1 392.1h.5M118.6 378.7h.5M102.2 401.8h.5M108.3 387.6h.5M106.5 382.6h.5M114.9 380.5h.5M111.8 384.8h.5M114.4 392.1h.5M115.2 392.0h.5M105.7 387.5h.5M110.7 386.8h.5M115.9 392.0h.5M116.3 393.9h.5M117.2 395.4h.5M116.3 398.6h.5M108.3 393.2h.5M123.2 392.3h.5M115.7 393.4h.5M120.1 395.0h.5M117.9 376.1h.5M111.2 384.9h.5M115.1 384.9h.5M123.0 395.8h.5M115.0 385.4h.5M121.4 391.7h.5M118.8 388.3h.5M108.2 384.4h.5M114.1 398.7h.5M118.3 384.0h.5M112.3 397.8h.5M114.6 403.0h.5M108.6 376.0h.5M113.7 395.3h.5M115.1 399.6h.5M110.4 376.4h.5M124.7 396.1h.5M112.9 395.7h.5M117.2 388.4h.5M113.7 383.7h.5M120.3 392.2h.5M106.0 390.7h.5M114.9 387.3h.5M118.4 401.2h.5M115.6 387.5h.5M117.6 388.0h.5M115.8 392.3h.5M106.2 402.7h.5M108.0 401.9h.5M105.6 382.2h.5M122.5 392.7h.5M117.2 379.6h.5M115.7 393.0h.5M117.1 393.3h.5M122.7 378.5h.5M111.9 389.2h.5M119.7 389.7h.5M115.1 385.9h.5M113.3 377.7h.5M117.8 396.8h.5M111.5 380.1h.5M112.4 398.0h.5M116.7 389.3h.5M115.7 390.1h.5M124.8 397.4h.5M114.7 382.1h.5M115.8 387.6h.5M114.1 381.8h.5M125.8 399.6h.5M120.1 378.8h.5M118.6 392.4h.5M118.4 397.7h.5M114.3 384.0h.5M121.0 380.6h.5M113.2 400.1h.5M112.7 389.7h.5M120.3 386.4h.5M113.7 396.9h.5M114.9 396.3h.5M118.1 370.8h.5M111.0 393.2h.5M114.5 398.7h.5M113.6 399.0h.5M113.4 398.7h.5M124.5 386.4h.5M117.2 386.8h.5M105.0 388.1h.5M108.6 392.3h.5M108.9 395.5h.5M110.7 391.1h.5M119.3 387.5h.5M126.4 391.0h.5M111.4 398.5h.5M108.1 380.5h.5M123.8 394.1h.5M110.8 383.7h.5M114.0 380.6h.5M105.4 399.7h.5M112.3 382.2h.5M126.7 392.6h.5M112.7 388.2h.5M111.1 389.6h.5M115.5 393.0h.5M115.4 401.4h.5M120.5 383.9h.5M120.1 389.7h.5M115.2 392.7h.5M118.0 393.0h.5M115.6 389.5h.5M111.4 385.8h.5M113.5 381.4h.5M109.9 374.5h.5M115.2 389.5h.5M116.2 385.3h.5M120.4 400.0h.5M116.2 378.4h.5M119.3 389.8h.5M114.1 393.4h.5M108.5 382.7h.5M121.0 395.6h.5M120.6 395.4h.5M114.6 377.0h.5M121.8 382.1h.5M103.9 392.9h.5M113.0 400.1h.5M117.2 392.0h.5M118.7 391.5h.5M121.6 384.0h.5M116.7 400.8h.5M117.1 401.9h.5M108.6 380.0h.5M116.0 390.7h.5M119.1 391.6h.5M118.1 384.9h.5M116.5 403.2h.5M114.2 390.2h.5M121.3 381.6h.5M117.0 393.5h.5M109.4 378.9h.5M117.1 391.5h.5M109.1 380.2h.5M117.9 394.5h.5M117.1 387.3h.5M120.9 398.1h.5M103.6 383.9h.5M114.4 379.8h.5M114.7 388.6h.5M109.5 397.7h.5M116.2 383.6h.5M118.4 383.9h.5M112.5 395.2h.5M110.8 388.8h.5M118.6 382.0h.5M102.4 384.4h.5M112.1 377.4h.5M106.4 392.2h.5M110.4 389.5h.5M112.5 395.5h.5M114.4 389.7h.5M118.6 386.4h.5M123.4 394.3h.5M123.0 400.0h.5M111.1 393.5h.5M108.5 393.9h.5M107.3 393.6h.5M114.7 393.2h.5M113.2 388.3h.5M114.7 395.8h.5M122.0 380.7h.5M121.0 389.4h.5M124.3 384.9h.5M114.6 395.6h.5M112.9 397.0h.5M118.7 386.9h.5M114.4 372.8h.5M115.7 389.7h.5M111.9 401.4h.5M120.2 391.9h.5M111.2 382.5h.5M115.8 383.6h.5M111.3 397.5h.5M111.4 381.1h.5M114.4 385.2h.5M108.6 395.1h.5M113.4 397.5h.5M110.9 379.2h.5M114.9 382.9h.5M118.8 386.1h.5M112.8 387.2h.5M113.3 384.4h.5M117.8 395.0h.5M120.9 372.7h.5M120.0 392.9h.5M116.0 402.2h.5M118.2 378.8h.5M111.7 395.5h.5M106.7 397.4h.5M125.5 384.7h.5M123.1 400.1h.5M120.5 397.0h.5M112.1 398.3h.5M112.9 401.7h.5M111.7 386.8h.5M117.1 376.7h.5M119.5 381.9h.5M108.8 387.4h.5M118.7 370.5h.5M123.7 376.9h.5M119.8 386.1h.5M125.5 390.9h.5M120.7 399.6h.5M117.8 381.7h.5M109.6 392.6h.5M116.9 379.9h.5M113.8 403.3h.5M120.7 390.1h.5M116.2 392.0h.5M124.5 387.9h.5M110.6 397.9h.5M115.1 381.3h.5M109.0 386.3h.5M118.9 385.6h.5M115.8 399.5h.5M115.0 385.7h.5M110.8 400.3h.5M110.4 393.1h.5M112.3 390.6h.5M109.2 392.0h.5M114.0 394.7h.5M109.1 384.3h.5M108.8 393.6h.5M113.2 397.9h.5M106.0 385.8h.5M105.9 382.0h.5M108.5 396.7h.5M109.5 383.3h.5M110.2 382.0h.5M109.8 386.3h.5M106.8 389.8h.5M111.5 385.5h.5M106.1 392.7h.5M112.4 383.7h.5M109.5 389.7h.5M105.4 383.0h.5M108.1 392.1h.5M107.8 393.7h.5M111.0 394.7h.5M111.1 388.6h.5M105.9 385.8h.5M106.5 386.4h.5M108.4 395.2h.5M112.7 388.9h.5M115.8 382.2h.5M111.3 390.9h.5M109.7 388.9h.5M112.4 399.2h.5M110.4 396.2h.5M110.0 396.3h.5M105.1 391.3h.5M110.6 389.2h.5M110.3 384.5h.5M109.3 387.8h.5M110.9 394.9h.5M108.7 400.0h.5M111.0 386.2h.5M107.1 386.0h.5M108.7 381.1h.5M104.4 381.1h.5M113.7 391.6h.5M106.1 383.8h.5M112.4 384.0h.5M115.3 386.2h.5M112.1 392.0h.5M116.3 401.3h.5M107.7 385.3h.5M109.8 389.9h.5M115.8 399.4h.5M113.9 384.6h.5M106.3 401.9h.5M106.5 389.5h.5M113.1 395.6h.5M109.8 384.1h.5M109.5 398.1h.5M111.7 388.2h.5M110.0 388.1h.5M113.5 382.8h.5M108.8 398.9h.5M109.6 392.2h.5M108.3 392.9h.5M113.1 384.5h.5M110.9 389.8h.5M108.7 402.6h.5M116.6 388.2h.5M110.7 381.7h.5M105.1 388.7h.5M107.7 366.8h.5M111.5 392.5h.5M113.4 402.3h.5M108.9 391.6h.5M109.2 388.9h.5M105.0 388.3h.5M106.7 379.4h.5M110.7 389.3h.5M109.6 395.1h.5M107.2 389.2h.5M101.8 393.6h.5M108.8 385.6h.5M111.8 389.4h.5M109.1 398.6h.5M103.2 385.5h.5M111.6 379.3h.5M112.6 382.6h.5M107.0 386.9h.5M109.3 395.0h.5M107.7 391.2h.5M108.1 396.0h.5M112.5 394.6h.5M109.4 399.8h.5M106.8 389.6h.5M102.8 383.6h.5M114.5 394.0h.5M108.9 394.1h.5M104.1 387.4h.5M107.9 387.5h.5M108.6 373.6h.5M107.3 370.1h.5M118.6 365.1h.5M114.6 368.1h.5M112.7 379.0h.5M126.1 371.8h.5M118.1 376.0h.5M119.3 367.9h.5M116.2 365.1h.5M115.1 360.9h.5M118.0 370.8h.5M111.0 372.2h.5M113.2 370.7h.5M106.9 372.4h.5M106.5 362.8h.5M106.6 364.9h.5M121.1 361.6h.5" stroke="#000" stroke-width="0.8" stroke-opacity="0.45" fill="none"/>
<path d="M110.6 386.1h.5M116.8 394.2h.5M113.1 378.6h.5M116.4 379.2h.5M115.7 389.6h.5M111.5 399.0h.5M115.5 390.9h.5M115.7 397.3h.5M117.9 390.6h.5M112.1 402.2h.5M114.3 385.1h.5M106.0 395.5h.5M113.5 387.2h.5M114.6 393.0h.5M118.2 399.9h.5M117.9 390.0h.5M111.1 387.4h.5M117.5 391.7h.5M114.8 381.2h.5M116.1 398.3h.5M116.9 380.4h.5M118.8 382.8h.5M113.9 389.4h.5M111.6 389.6h.5M115.3 398.2h.5M113.8 386.8h.5M108.5 402.0h.5M115.5 389.8h.5M109.6 380.6h.5M112.9 386.3h.5M118.3 400.0h.5M114.6 398.2h.5M122.2 386.1h.5M107.4 380.3h.5M105.5 376.0h.5M108.2 382.7h.5M117.1 389.5h.5M111.6 391.7h.5M108.5 389.9h.5M120.5 387.5h.5M112.8 362.4h.5M115.9 399.6h.5M116.2 394.7h.5M114.6 379.2h.5M103.2 393.2h.5M114.4 387.7h.5M113.4 385.3h.5M115.7 395.7h.5M117.8 402.9h.5M115.5 394.3h.5M114.2 386.7h.5M119.3 382.7h.5M116.1 384.9h.5M114.3 387.8h.5M111.0 400.9h.5M109.0 385.0h.5M112.9 382.7h.5M115.0 387.5h.5M115.5 395.0h.5M118.4 397.3h.5M125.6 395.4h.5M109.9 388.5h.5M113.0 399.2h.5M108.6 379.0h.5M111.6 375.3h.5M109.6 391.8h.5M118.0 401.5h.5M107.5 391.4h.5M110.4 392.9h.5M113.8 383.0h.5M115.2 377.0h.5M111.6 402.7h.5M118.0 388.7h.5M111.0 398.1h.5M114.9 374.6h.5M116.9 380.4h.5M110.7 393.7h.5M115.4 391.4h.5M110.8 397.0h.5M110.3 394.5h.5M121.6 381.7h.5M115.1 386.7h.5M121.1 389.7h.5M110.4 389.5h.5M110.8 383.8h.5M115.5 378.4h.5M115.9 390.8h.5M112.7 387.7h.5M113.2 388.8h.5M117.0 392.4h.5M108.2 391.8h.5M119.5 376.8h.5M112.3 379.0h.5M109.4 387.9h.5M111.6 398.5h.5M113.8 393.4h.5M116.6 389.5h.5M113.7 370.8h.5M102.5 396.4h.5M116.6 399.6h.5M124.2 397.7h.5M122.0 389.7h.5M108.3 398.9h.5M117.5 398.8h.5M111.0 399.3h.5M111.0 392.2h.5M120.8 386.3h.5M115.7 381.7h.5M111.7 395.7h.5M111.1 394.2h.5M113.6 383.7h.5M126.8 386.8h.5M113.5 388.0h.5M118.3 394.8h.5M113.6 395.8h.5M113.6 384.9h.5M111.1 374.7h.5M108.3 392.9h.5M112.4 385.4h.5M121.8 384.2h.5M114.8 386.3h.5M110.1 396.0h.5M112.1 403.2h.5M112.8 384.3h.5M113.9 396.4h.5M108.3 386.9h.5M108.1 388.3h.5M106.1 384.5h.5M115.4 395.4h.5M114.4 377.6h.5M109.6 390.9h.5M112.3 390.8h.5M111.3 386.1h.5M110.8 381.7h.5M114.3 391.3h.5M111.1 389.3h.5M116.2 402.3h.5M126.6 388.7h.5M112.9 400.3h.5M116.7 401.2h.5M116.4 396.6h.5M118.6 393.9h.5M109.9 388.9h.5M110.3 395.7h.5M115.8 396.3h.5M121.7 389.6h.5M117.4 390.3h.5M115.5 391.3h.5M108.8 400.1h.5M109.2 389.2h.5M118.5 393.5h.5M115.5 385.8h.5M119.3 391.8h.5M110.7 373.4h.5M118.2 393.9h.5M119.6 381.2h.5M108.0 382.2h.5M115.3 398.9h.5M114.5 387.9h.5M111.4 393.9h.5M123.4 393.2h.5M115.4 390.5h.5M111.9 393.2h.5M110.3 375.1h.5M113.7 392.5h.5M114.1 395.0h.5M111.6 387.0h.5M110.1 399.7h.5M119.3 384.1h.5M104.9 384.1h.5M109.9 400.0h.5M107.8 389.1h.5M116.0 388.1h.5M111.9 390.0h.5M116.8 396.7h.5M116.2 396.7h.5M113.4 396.3h.5M120.0 388.5h.5M113.8 388.9h.5M112.9 383.6h.5M104.7 383.4h.5M109.0 395.5h.5M126.5 399.0h.5M110.3 384.8h.5M114.4 389.0h.5M110.9 376.1h.5M117.5 390.3h.5M116.2 387.1h.5M106.6 389.3h.5M119.3 395.4h.5M114.5 401.8h.5M113.5 385.5h.5M114.8 398.4h.5M123.3 395.2h.5M121.2 379.8h.5M112.1 386.9h.5M120.7 400.3h.5M113.4 392.7h.5M116.2 395.7h.5M113.1 384.3h.5M124.5 380.4h.5M118.8 384.0h.5M116.7 384.6h.5M114.6 389.6h.5M112.7 384.9h.5M122.2 399.0h.5M117.9 400.5h.5M115.0 385.5h.5M118.8 389.5h.5M103.3 391.6h.5M108.7 392.2h.5M119.3 376.2h.5M114.2 379.5h.5M109.3 383.5h.5M106.7 385.8h.5M119.4 384.2h.5M116.6 392.9h.5M118.1 384.5h.5M105.4 385.1h.5M115.9 398.4h.5M122.5 402.5h.5M107.4 371.3h.5M120.8 389.6h.5M109.1 387.6h.5M109.9 382.4h.5M118.9 387.2h.5M107.3 386.6h.5M117.3 390.9h.5M121.9 387.0h.5M116.0 381.2h.5M116.2 394.0h.5M121.3 379.3h.5M112.8 387.0h.5M116.5 382.3h.5M111.0 382.7h.5M114.3 386.6h.5M122.1 396.8h.5M118.7 393.6h.5M112.3 384.1h.5M113.5 396.3h.5M128.9 396.5h.5M109.6 402.0h.5M113.1 391.0h.5M115.2 367.4h.5M122.5 391.0h.5M115.2 398.2h.5M109.9 390.1h.5M115.3 384.2h.5M121.0 393.3h.5M111.2 393.6h.5M113.1 387.5h.5M118.2 380.1h.5M120.3 385.5h.5M111.3 370.8h.5M111.0 392.6h.5M114.9 384.4h.5M120.4 388.2h.5M125.2 385.6h.5M116.1 395.6h.5M114.9 388.9h.5M114.0 386.3h.5M115.9 392.5h.5M110.3 400.0h.5M107.2 377.5h.5M105.4 390.8h.5M108.9 380.2h.5M111.6 381.5h.5M111.6 385.9h.5M120.9 391.1h.5M111.0 390.7h.5M116.5 393.0h.5M104.3 390.8h.5M114.1 395.9h.5M112.0 382.9h.5M107.3 384.0h.5M114.4 382.6h.5M118.9 384.6h.5M119.9 383.4h.5M115.7 392.5h.5M117.3 397.6h.5M105.3 380.9h.5M109.9 378.7h.5M110.3 380.0h.5M116.3 382.7h.5M120.4 383.7h.5M111.4 393.1h.5M112.3 385.1h.5M113.2 372.6h.5M114.4 395.0h.5M115.5 381.8h.5M119.9 380.8h.5M118.5 397.2h.5M112.8 398.4h.5M109.3 387.4h.5M118.3 393.0h.5M104.5 387.8h.5M116.4 402.6h.5M114.9 388.0h.5M113.9 388.7h.5M114.7 385.2h.5M116.1 390.6h.5M109.4 400.9h.5M106.2 399.8h.5M107.4 388.6h.5M109.2 377.5h.5M111.6 383.7h.5M111.3 380.1h.5M107.2 383.4h.5M108.0 386.5h.5M107.5 397.4h.5M107.0 391.3h.5M110.9 396.0h.5M117.6 392.1h.5M106.9 382.2h.5M107.9 396.5h.5M109.3 379.7h.5M112.8 400.2h.5M110.4 403.0h.5M104.9 394.0h.5M107.5 393.5h.5M109.8 385.7h.5M114.5 387.8h.5M109.4 401.2h.5M107.5 401.2h.5M104.3 391.4h.5M115.1 381.3h.5M112.6 382.9h.5M115.5 393.4h.5M102.9 385.9h.5M109.3 402.1h.5M106.8 391.2h.5M107.2 390.3h.5M107.8 397.9h.5M113.0 388.1h.5M117.0 398.5h.5M113.4 395.5h.5M111.6 399.1h.5M105.6 399.0h.5M111.0 401.6h.5M106.6 389.0h.5M113.8 380.7h.5M107.9 383.1h.5M110.0 384.7h.5M107.2 396.1h.5M108.5 386.2h.5M105.3 381.3h.5M106.2 392.8h.5M110.6 377.7h.5M110.8 392.1h.5M112.5 397.9h.5M107.1 397.8h.5M107.3 386.1h.5M107.3 393.3h.5M109.7 400.9h.5M108.4 399.3h.5M106.7 379.8h.5M109.3 387.4h.5M106.3 388.8h.5M109.9 388.9h.5M113.4 395.5h.5M108.0 387.8h.5M107.8 398.0h.5M108.4 385.4h.5M103.8 391.6h.5M109.1 389.7h.5M112.4 390.9h.5M110.2 396.8h.5M113.9 389.0h.5M111.1 393.8h.5M108.8 393.7h.5M113.0 397.3h.5M112.4 389.8h.5M106.3 401.1h.5M105.9 396.3h.5M108.3 394.6h.5M111.9 387.9h.5M106.3 397.3h.5M107.0 387.4h.5M110.4 388.0h.5M106.2 387.8h.5M116.9 394.8h.5M107.4 391.9h.5M107.8 392.2h.5M113.1 392.9h.5M110.0 392.8h.5M103.4 386.3h.5M109.8 397.1h.5M110.8 394.1h.5M109.2 385.7h.5M103.8 393.7h.5M109.3 397.5h.5M110.9 398.9h.5M110.6 397.6h.5M113.5 376.5h.5M111.1 380.0h.5M108.5 391.5h.5M113.0 377.6h.5M111.1 398.7h.5M110.5 386.7h.5M112.9 391.5h.5M109.3 371.4h.5M110.2 370.7h.5M111.0 374.3h.5M111.8 365.5h.5M113.8 379.7h.5M108.0 371.5h.5M118.9 374.8h.5M107.3 372.3h.5M106.1 367.6h.5M117.2 373.7h.5M108.2 366.1h.5M114.5 372.4h.5M115.1 363.3h.5M116.2 369.7h.5M116.3 371.4h.5M116.8 374.3h.5" stroke="#000" stroke-width="0.8" stroke-opacity="0.45" fill="none"/>
<ellipse cx="116.6" cy="392" rx="4.8" ry="12" fill="#000" filter="url(#bl)"/>
</g>
<g clip-path="url(#c2)">
<path d="M201.3 390.4h.5M205.5 391.9h.5M204.8 386.6h.5M196.5 375.6h.5M197.4 378.6h.5M195.7 385.8h.5M205.5 398.8h.5M199.5 400.6h.5M200.9 395.9h.5M196.4 382.8h.5M201.3 373.9h.5M202.3 389.4h.5M194.0 370.2h.5M207.0 381.9h.5M198.2 375.7h.5M195.7 390.3h.5M194.5 385.1h.5M199.4 393.2h.5M199.4 385.3h.5M195.5 380.4h.5M202.8 399.4h.5M198.2 399.8h.5M200.2 379.7h.5M193.5 360.7h.5M201.2 380.6h.5M196.5 396.6h.5M204.7 380.2h.5M199.5 387.3h.5M190.9 388.0h.5M198.5 396.0h.5M198.9 385.5h.5M200.6 390.7h.5M206.4 364.3h.5M201.8 386.0h.5M203.9 381.7h.5M202.4 390.0h.5M208.0 381.5h.5M199.4 397.6h.5M205.3 385.1h.5M202.1 400.2h.5M197.1 388.8h.5M197.9 397.0h.5M199.5 390.6h.5M197.2 379.2h.5M199.2 383.9h.5M196.9 382.0h.5M193.4 387.1h.5M203.4 393.5h.5M205.6 374.3h.5M209.3 375.7h.5M189.5 368.6h.5M203.4 391.0h.5M199.9 382.3h.5M192.4 376.9h.5M196.7 398.5h.5M200.4 394.6h.5M204.2 371.5h.5M207.2 383.2h.5M199.6 388.9h.5M197.3 388.5h.5M205.8 373.5h.5M197.7 389.8h.5M195.4 392.6h.5M200.9 393.6h.5M201.3 389.5h.5M197.5 391.5h.5M200.5 398.4h.5M209.6 373.5h.5M203.8 384.4h.5M205.3 394.3h.5M203.9 402.2h.5M197.1 384.5h.5M199.5 396.0h.5M212.4 391.9h.5M195.9 373.4h.5M202.0 398.4h.5M202.7 388.6h.5M208.1 392.7h.5M199.6 381.6h.5M210.0 383.0h.5M200.6 392.4h.5M205.1 379.1h.5M201.5 390.4h.5M197.2 385.3h.5M205.6 378.7h.5M206.5 391.6h.5M200.1 393.4h.5M190.7 390.7h.5M197.2 401.3h.5M201.5 400.3h.5M201.0 369.4h.5M197.4 372.7h.5M207.8 384.6h.5M193.5 378.2h.5M198.5 403.1h.5M197.6 369.7h.5M200.1 401.9h.5M195.6 381.6h.5M197.2 386.8h.5M196.8 366.9h.5M208.0 383.9h.5M203.1 383.5h.5M205.3 384.4h.5M205.3 386.2h.5M195.5 379.3h.5M192.0 393.5h.5M204.6 387.0h.5M200.3 378.6h.5M202.6 389.1h.5M199.9 376.5h.5M202.4 383.9h.5M201.1 385.7h.5M205.8 389.4h.5M201.4 385.6h.5M206.3 372.3h.5M201.0 374.5h.5M205.0 386.1h.5M197.5 390.0h.5M198.5 387.0h.5M208.3 392.5h.5M189.9 384.5h.5M198.3 384.1h.5M200.0 386.9h.5M199.1 379.5h.5M202.4 393.6h.5M203.0 397.3h.5M204.4 396.1h.5M196.6 392.4h.5M200.8 392.6h.5M203.4 383.9h.5M204.8 384.8h.5M201.9 365.3h.5M193.2 396.0h.5M194.9 386.5h.5M205.6 401.1h.5M203.9 394.4h.5M201.2 379.0h.5M201.3 385.3h.5M201.1 387.5h.5M198.9 374.8h.5M193.8 384.7h.5M200.5 395.4h.5M201.2 393.2h.5M199.5 365.9h.5M201.0 394.4h.5M204.2 392.3h.5M193.4 385.0h.5M201.1 388.5h.5M198.9 361.5h.5M196.4 389.5h.5M199.3 386.0h.5M197.3 393.0h.5M203.0 397.6h.5M197.9 373.4h.5M196.3 403.2h.5M210.6 397.7h.5M188.3 385.1h.5M197.6 375.1h.5M205.1 387.4h.5M204.9 389.0h.5M201.7 399.3h.5M197.2 378.4h.5M201.5 391.3h.5M195.4 398.4h.5M192.9 396.9h.5M189.4 383.0h.5M195.7 379.6h.5M192.2 367.2h.5M195.4 384.1h.5M194.8 396.9h.5M201.6 392.6h.5M205.1 387.4h.5M197.6 383.3h.5M197.1 394.5h.5M199.7 382.0h.5M190.7 384.7h.5M205.7 371.3h.5M203.1 389.7h.5M204.4 390.3h.5M199.8 382.6h.5M206.2 387.7h.5M196.7 394.4h.5M193.9 370.5h.5M198.1 401.2h.5M196.7 373.0h.5M207.3 398.2h.5M199.1 391.3h.5M209.3 393.1h.5M199.8 380.8h.5M202.2 370.7h.5M198.2 376.0h.5M198.1 380.8h.5M198.4 376.0h.5M199.5 383.1h.5M194.1 397.6h.5M190.4 399.2h.5M196.6 395.1h.5M202.0 384.3h.5M203.9 362.3h.5M195.4 397.7h.5M197.9 386.9h.5M204.8 380.4h.5M198.9 379.0h.5M203.1 374.1h.5M201.3 377.2h.5M206.6 377.6h.5M201.9 388.0h.5M200.7 372.9h.5M193.0 370.7h.5M202.9 401.7h.5M201.6 390.8h.5M202.0 391.1h.5M198.5 385.7h.5M203.3 394.6h.5M204.8 389.1h.5M196.4 384.7h.5M207.0 398.1h.5M199.4 381.5h.5M203.1 394.3h.5M212.8 395.7h.5M203.8 381.1h.5M195.4 396.5h.5M196.5 400.7h.5M202.4 397.7h.5M207.1 386.2h.5M199.3 397.1h.5M200.7 368.5h.5M203.7 383.8h.5M204.6 391.2h.5M198.2 373.4h.5M194.4 383.0h.5M202.8 403.3h.5M204.2 378.6h.5M202.4 372.8h.5M200.7 382.0h.5M202.8 371.3h.5M199.7 398.9h.5M201.3 398.3h.5M205.5 378.8h.5M202.4 384.8h.5M199.8 383.8h.5M191.1 382.0h.5M202.7 396.9h.5M195.2 372.9h.5M198.9 390.1h.5M196.0 388.4h.5M197.3 402.1h.5M200.6 386.3h.5M203.9 388.9h.5M197.5 387.5h.5M203.7 376.5h.5M198.0 369.9h.5M201.2 396.4h.5M198.3 391.0h.5M200.0 374.1h.5M198.0 395.2h.5M195.6 390.3h.5M199.4 387.4h.5M192.7 377.3h.5M196.6 390.3h.5M206.2 373.4h.5M203.4 387.2h.5M200.0 390.9h.5M210.6 378.4h.5M192.9 379.2h.5M205.9 395.9h.5M207.6 381.0h.5M199.8 373.1h.5M196.3 392.9h.5M191.0 390.2h.5M202.7 373.9h.5M201.1 381.3h.5M196.1 370.4h.5M199.8 368.7h.5M195.5 386.4h.5M202.7 383.7h.5M198.9 399.2h.5M195.1 387.8h.5M195.5 383.5h.5M194.5 387.1h.5M192.9 381.3h.5M201.5 380.0h.5M191.4 396.4h.5M203.0 383.3h.5M207.2 396.5h.5M196.7 397.4h.5M209.0 386.2h.5M211.4 383.5h.5M199.4 383.6h.5M202.1 388.4h.5M196.4 360.8h.5M198.9 366.2h.5M192.8 395.2h.5M198.8 381.3h.5M203.1 400.8h.5M197.0 381.4h.5M198.1 376.3h.5M209.4 384.4h.5M198.7 380.8h.5M206.7 368.3h.5M201.3 383.1h.5M199.3 400.5h.5M197.8 387.9h.5M199.1 371.3h.5M195.3 395.6h.5M195.4 383.7h.5M193.9 373.5h.5M194.7 397.4h.5M201.9 384.6h.5M205.4 376.8h.5M197.6 381.5h.5M201.6 391.2h.5M206.6 403.0h.5M198.2 371.7h.5M211.7 384.4h.5M195.1 394.7h.5M197.0 373.5h.5M204.2 375.7h.5M199.2 397.8h.5M193.6 380.1h.5M197.6 376.1h.5M202.3 374.3h.5M197.7 383.4h.5M199.7 381.5h.5M205.1 370.8h.5M198.4 400.3h.5M200.4 380.1h.5M196.9 392.2h.5M206.6 371.6h.5M205.5 393.6h.5M205.4 385.5h.5M204.1 400.1h.5M201.0 395.4h.5M196.4 388.4h.5M196.3 361.3h.5M210.8 383.0h.5M203.1 394.6h.5M199.2 384.2h.5M200.7 400.4h.5M201.7 385.5h.5M206.6 399.8h.5M198.7 386.2h.5M203.3 400.8h.5M206.0 381.8h.5M204.2 396.8h.5M199.4 379.9h.5M208.9 388.2h.5M200.0 383.9h.5M201.0 392.6h.5M195.9 388.3h.5M200.6 386.6h.5M205.5 380.7h.5M202.3 381.0h.5M203.1 381.2h.5M196.9 381.2h.5M189.2 385.9h.5M206.1 385.2h.5M205.1 400.9h.5M199.4 397.4h.5M198.5 379.7h.5M201.1 371.1h.5M199.3 392.5h.5M199.1 392.5h.5M199.6 379.7h.5M192.7 391.1h.5M200.3 386.1h.5M205.2 395.4h.5M201.5 385.7h.5M196.1 383.1h.5M205.5 385.1h.5M202.2 396.4h.5M200.9 390.8h.5M208.8 381.3h.5M195.9 379.1h.5M194.0 383.3h.5M196.5 401.4h.5M207.2 390.5h.5M202.9 390.9h.5M200.9 378.8h.5M195.2 402.5h.5M202.0 378.6h.5M203.8 377.5h.5M195.0 376.2h.5M203.2 389.2h.5M204.5 380.8h.5M206.3 386.9h.5M193.0 385.7h.5M206.6 398.6h.5M194.9 382.5h.5M198.3 384.1h.5M190.6 391.6h.5M204.0 393.2h.5M208.3 401.2h.5M202.1 402.6h.5M201.0 387.5h.5M196.1 385.2h.5M201.3 369.1h.5M200.1 390.0h.5M191.9 383.9h.5M203.1 377.0h.5M202.8 396.9h.5M202.7 381.5h.5M203.2 383.1h.5M204.8 390.3h.5M199.4 401.5h.5M204.1 376.1h.5M204.5 376.7h.5M205.5 383.1h.5M195.1 375.6h.5M194.7 393.4h.5M202.3 373.8h.5M189.9 361.4h.5M203.9 393.2h.5M203.1 389.6h.5M199.3 384.8h.5M197.7 393.9h.5M195.0 380.5h.5M201.1 388.1h.5M201.7 369.5h.5M197.4 376.9h.5M195.2 385.5h.5M191.5 393.9h.5M204.8 381.1h.5M202.7 399.2h.5M206.4 380.5h.5M198.5 393.8h.5M191.5 371.7h.5M193.5 397.3h.5M203.2 381.3h.5M202.0 381.8h.5M200.5 373.5h.5M207.4 383.5h.5M194.7 395.7h.5M198.7 386.9h.5M206.0 399.1h.5M208.3 394.0h.5M209.5 387.6h.5M199.0 392.1h.5M200.1 384.7h.5M198.3 393.0h.5M204.8 387.4h.5M200.4 393.4h.5M204.4 387.4h.5M200.0 390.6h.5M202.9 393.9h.5M207.0 375.8h.5M205.3 364.2h.5M195.9 376.3h.5M204.3 388.0h.5M203.8 396.6h.5M195.7 382.5h.5M203.3 384.7h.5M194.6 386.7h.5M203.5 383.6h.5M198.3 394.9h.5M202.7 398.9h.5M212.0 389.5h.5M195.1 390.6h.5M206.0 389.5h.5M200.9 366.3h.5M198.3 380.3h.5M196.8 403.0h.5M201.4 388.2h.5M200.8 383.8h.5M206.2 388.2h.5M189.7 382.7h.5M210.8 379.6h.5M205.0 366.1h.5M199.8 372.9h.5M202.3 368.2h.5M207.1 372.3h.5M207.7 376.7h.5M200.6 373.7h.5M201.4 364.5h.5M200.7 365.0h.5M205.7 373.7h.5M196.5 365.7h.5M200.7 368.5h.5M189.3 356.9h.5M207.1 365.7h.5M201.6 364.4h.5M198.9 365.3h.5M192.0 362.0h.5M201.5 377.2h.5M207.2 366.6h.5M197.1 365.7h.5M197.4 367.4h.5M198.6 362.1h.5M196.2 365.9h.5M209.6 369.5h.5M200.7 370.7h.5M197.1 367.5h.5M196.6 367.0h.5M199.1 366.6h.5" stroke="#000" stroke-width="0.8" stroke-opacity="0.45" fill="none"/>
<path d="M207.9 380.8h.5M204.1 393.3h.5M203.5 398.1h.5M199.1 393.8h.5M197.9 376.8h.5M194.0 373.1h.5M203.7 384.4h.5M202.3 375.8h.5M205.1 382.8h.5M195.7 392.9h.5M194.4 395.1h.5M191.9 394.2h.5M198.9 393.7h.5M200.7 392.8h.5M202.2 385.7h.5M198.0 365.4h.5M200.0 376.3h.5M200.7 377.3h.5M200.7 394.3h.5M203.9 396.3h.5M199.2 390.3h.5M204.7 380.4h.5M197.4 398.8h.5M199.8 377.4h.5M200.3 377.9h.5M198.4 377.5h.5M196.7 383.5h.5M197.5 399.9h.5M204.1 374.5h.5M197.3 384.1h.5M202.1 393.8h.5M203.1 387.1h.5M203.8 368.1h.5M209.0 394.4h.5M198.3 389.6h.5M196.9 382.7h.5M192.6 395.2h.5M196.2 391.8h.5M198.8 376.3h.5M200.3 372.1h.5M197.1 398.1h.5M195.0 382.7h.5M200.4 392.1h.5M202.0 402.4h.5M191.1 383.2h.5M200.2 395.6h.5M202.3 391.2h.5M199.6 389.5h.5M205.1 393.4h.5M193.7 390.7h.5M201.8 371.2h.5M199.1 365.9h.5M193.5 385.2h.5M203.4 390.9h.5M197.6 376.1h.5M200.9 397.8h.5M199.1 373.4h.5M204.7 361.4h.5M201.3 393.9h.5M199.8 381.0h.5M202.9 380.1h.5M210.3 388.4h.5M210.9 373.6h.5M203.5 393.0h.5M204.4 402.2h.5M195.9 384.0h.5M198.1 393.2h.5M204.0 385.4h.5M195.0 389.0h.5M200.4 399.6h.5M198.4 389.1h.5M194.3 381.6h.5M199.0 388.5h.5M199.8 380.1h.5M202.1 389.1h.5M199.3 388.3h.5M193.7 384.6h.5M204.7 388.6h.5M195.8 389.4h.5M199.5 384.9h.5M199.4 393.6h.5M208.5 387.7h.5M204.9 394.9h.5M206.2 372.8h.5M202.4 394.6h.5M202.7 397.4h.5M198.9 379.0h.5M203.6 388.2h.5M195.3 375.1h.5M197.4 375.5h.5M199.8 394.8h.5M205.4 400.2h.5M198.3 393.1h.5M200.2 390.7h.5M206.5 380.4h.5M200.6 394.4h.5M197.4 398.8h.5M206.9 400.6h.5M202.0 403.3h.5M202.3 376.3h.5M196.1 377.9h.5M200.7 387.8h.5M199.9 383.1h.5M201.3 387.9h.5M197.1 390.0h.5M205.6 386.9h.5M200.0 376.8h.5M200.9 394.9h.5M205.4 399.9h.5M198.6 390.3h.5M206.6 385.5h.5M203.7 377.5h.5M205.4 387.8h.5M205.0 388.8h.5M195.7 367.3h.5M191.9 382.4h.5M200.5 384.2h.5M207.5 380.1h.5M203.9 391.8h.5M192.9 378.3h.5M199.5 403.2h.5M196.0 365.6h.5M199.0 383.0h.5M206.8 386.5h.5M202.9 399.4h.5M193.4 387.0h.5M205.5 374.5h.5M190.5 381.8h.5M202.2 397.6h.5M195.8 391.3h.5M189.7 384.3h.5M197.0 394.2h.5M209.9 384.7h.5M202.5 387.7h.5M195.8 371.4h.5M194.9 378.8h.5M201.6 394.8h.5M198.4 385.3h.5M197.5 377.8h.5M201.4 400.6h.5M207.4 381.9h.5M201.1 385.8h.5M199.2 379.9h.5M200.4 376.1h.5M197.9 388.7h.5M193.6 389.5h.5M197.0 382.0h.5M197.5 376.2h.5M198.4 370.6h.5M194.1 399.8h.5M194.5 391.5h.5M197.1 393.4h.5M199.2 396.8h.5M207.3 394.9h.5M205.2 378.7h.5M198.0 385.5h.5M200.4 389.9h.5M207.4 368.4h.5M202.3 393.2h.5M195.1 379.3h.5M208.9 397.3h.5M207.9 394.8h.5M200.6 398.6h.5M193.7 393.4h.5M206.2 383.4h.5M202.6 391.2h.5M197.2 388.1h.5M198.2 393.9h.5M202.0 378.2h.5M197.9 383.7h.5M198.1 391.8h.5M199.3 384.8h.5M203.2 380.2h.5M202.3 391.7h.5M208.6 374.5h.5M200.8 389.4h.5M198.3 382.4h.5M194.5 387.2h.5M197.0 398.8h.5M198.4 397.3h.5M200.8 395.2h.5M195.8 397.8h.5M199.5 399.9h.5M202.3 401.9h.5M203.4 386.9h.5M206.6 396.1h.5M208.4 382.7h.5M206.4 388.8h.5M204.5 385.5h.5M212.8 377.3h.5M205.2 374.4h.5M195.8 401.5h.5M196.6 397.6h.5M201.5 379.3h.5M191.9 379.0h.5M211.1 388.3h.5M205.1 388.2h.5M207.5 388.6h.5M196.1 395.9h.5M201.6 383.2h.5M193.8 387.0h.5M201.9 391.8h.5M205.6 383.0h.5M207.2 398.7h.5M201.3 380.9h.5M195.6 383.0h.5M203.1 385.9h.5M198.3 379.1h.5M202.8 384.8h.5M195.5 387.8h.5M199.8 388.0h.5M195.6 382.3h.5M201.8 385.7h.5M205.1 389.2h.5M203.7 391.5h.5M195.8 390.9h.5M201.9 366.7h.5M193.2 398.9h.5M194.9 387.9h.5M202.5 395.6h.5M208.9 384.7h.5M203.9 391.7h.5M196.5 389.3h.5M199.8 398.2h.5M203.7 392.5h.5M200.5 386.6h.5M206.1 380.5h.5M198.6 398.7h.5M205.9 382.2h.5M200.1 388.2h.5M210.6 374.9h.5M200.5 379.3h.5M205.8 390.7h.5M212.0 390.4h.5M207.8 388.9h.5M202.5 383.2h.5M203.0 394.6h.5M190.8 398.3h.5M200.3 393.9h.5M190.0 389.5h.5M198.2 381.6h.5M204.3 368.9h.5M204.0 379.8h.5M194.1 397.2h.5M197.1 397.1h.5M209.2 390.9h.5M195.2 379.0h.5M204.6 401.2h.5M197.3 385.4h.5M195.4 392.6h.5M202.5 382.8h.5M203.1 382.3h.5M204.0 393.2h.5M205.6 391.6h.5M205.6 386.2h.5M208.5 385.8h.5M200.6 393.4h.5M207.1 390.8h.5M202.9 379.2h.5M193.5 372.6h.5M199.4 401.4h.5M205.0 387.6h.5M194.9 391.1h.5M196.1 377.3h.5M199.6 377.3h.5M198.0 393.6h.5M201.3 395.7h.5M200.8 375.1h.5M194.4 387.2h.5M202.7 383.9h.5M201.2 380.6h.5M193.5 375.1h.5M207.7 387.6h.5M202.1 392.4h.5M209.4 399.9h.5M209.6 390.7h.5M211.0 383.6h.5M205.3 365.2h.5M201.0 376.1h.5M199.1 395.5h.5M193.6 393.5h.5M201.4 398.0h.5M195.7 391.2h.5M189.1 398.9h.5M193.3 388.4h.5M201.5 384.6h.5M196.3 381.9h.5M201.1 390.9h.5M204.7 364.2h.5M200.7 397.5h.5M201.5 398.0h.5M203.6 392.9h.5M203.2 366.8h.5M208.5 396.0h.5M201.1 394.6h.5M201.9 387.1h.5M194.2 390.0h.5M201.6 388.3h.5M203.9 382.7h.5M197.8 381.5h.5M205.9 366.1h.5M203.7 385.7h.5M204.8 395.0h.5M207.0 370.7h.5M199.5 373.4h.5M200.2 388.1h.5M207.7 384.9h.5M198.4 398.2h.5M199.9 376.3h.5M196.4 370.1h.5M193.5 373.6h.5M202.0 381.6h.5M198.7 382.6h.5M206.1 390.0h.5M199.6 392.1h.5M193.8 389.8h.5M202.8 377.2h.5M191.0 366.2h.5M197.8 374.2h.5M204.3 375.3h.5M194.7 393.3h.5M194.7 397.0h.5M201.2 393.0h.5M193.8 386.9h.5M199.6 390.6h.5M199.1 385.1h.5M211.3 389.8h.5M197.9 386.0h.5M207.5 383.7h.5M196.3 388.2h.5M199.2 374.4h.5M201.5 391.7h.5M198.7 362.4h.5M199.0 395.2h.5M198.7 392.3h.5M199.6 385.4h.5M197.0 387.8h.5M201.1 378.9h.5M204.2 398.0h.5M200.5 373.2h.5M207.3 383.6h.5M197.9 389.2h.5M199.7 379.7h.5M200.4 395.9h.5M202.6 384.8h.5M204.9 389.9h.5M202.0 381.6h.5M202.8 399.0h.5M201.7 391.2h.5M206.7 374.8h.5M200.8 388.2h.5M195.4 367.9h.5M200.9 377.0h.5M196.4 397.2h.5M207.0 376.5h.5M198.7 396.9h.5M196.9 387.9h.5M203.4 388.7h.5M195.9 394.5h.5M204.0 382.4h.5M199.2 399.0h.5M199.3 382.7h.5M202.4 388.8h.5M199.3 385.2h.5M195.2 388.3h.5M206.0 396.9h.5M204.5 379.1h.5M206.0 397.8h.5M207.5 389.2h.5M200.1 382.6h.5M195.9 394.2h.5M209.2 389.6h.5M207.2 384.9h.5M204.7 384.0h.5M203.3 381.3h.5M195.3 390.4h.5M207.1 393.2h.5M207.0 373.0h.5M199.0 391.4h.5M196.0 365.3h.5M211.2 378.1h.5M203.4 378.1h.5M197.1 372.4h.5M197.9 374.4h.5M203.8 397.0h.5M202.5 379.7h.5M191.0 382.4h.5M204.9 398.8h.5M202.6 376.1h.5M205.2 387.3h.5M206.1 389.5h.5M196.5 389.5h.5M196.9 392.4h.5M196.8 387.4h.5M204.7 388.5h.5M200.6 393.4h.5M201.0 378.8h.5M203.6 368.1h.5M198.7 378.2h.5M194.0 382.9h.5M200.6 384.5h.5M195.9 395.6h.5M205.9 398.8h.5M203.6 389.6h.5M200.2 390.1h.5M195.9 401.4h.5M199.8 391.0h.5M193.9 400.9h.5M199.5 388.9h.5M208.1 378.3h.5M199.3 375.5h.5M205.4 375.1h.5M198.9 385.4h.5M198.7 387.5h.5M202.8 397.8h.5M196.4 379.5h.5M198.3 388.1h.5M210.5 395.9h.5M199.2 397.0h.5M192.2 371.9h.5M202.4 398.4h.5M201.2 395.8h.5M197.0 375.3h.5M198.5 390.3h.5M196.3 382.8h.5M203.1 364.4h.5M202.5 391.2h.5M196.7 383.1h.5M192.3 395.3h.5M204.0 367.7h.5M203.2 382.4h.5M195.6 363.8h.5M196.1 389.0h.5M205.0 377.8h.5M201.7 388.0h.5M200.7 369.5h.5M203.1 401.8h.5M195.8 385.7h.5M201.6 396.1h.5M204.2 400.1h.5M193.5 380.9h.5M198.0 391.4h.5M196.7 369.4h.5M202.2 374.7h.5M195.1 392.6h.5M197.4 400.1h.5M200.4 387.3h.5M194.6 383.3h.5M199.0 396.6h.5M190.6 382.6h.5M199.4 384.5h.5M200.6 382.8h.5M202.5 369.8h.5M193.3 384.4h.5M204.6 383.9h.5M204.7 396.1h.5M199.4 388.1h.5M201.9 367.2h.5M194.9 382.2h.5M203.6 387.9h.5M201.1 369.4h.5M201.0 396.4h.5M200.4 392.7h.5M193.3 381.0h.5M201.1 370.3h.5M201.2 368.5h.5M196.4 386.3h.5M202.2 368.8h.5M195.2 363.0h.5M191.4 368.6h.5M202.9 369.8h.5M208.2 371.9h.5M199.8 370.1h.5M195.4 371.6h.5M208.5 373.1h.5M202.5 366.1h.5M192.8 366.7h.5M196.0 371.6h.5M189.9 375.7h.5M203.7 377.2h.5M192.5 365.8h.5M199.7 364.7h.5M200.5 364.3h.5M192.5 367.6h.5M204.7 369.7h.5M209.0 374.1h.5M199.6 361.9h.5M203.7 359.4h.5M190.3 362.8h.5M201.9 367.6h.5M200.6 366.9h.5M189.3 366.7h.5M196.9 359.8h.5" stroke="#000" stroke-width="0.8" stroke-opacity="0.45" fill="none"/>
<path d="M202.9 394.9h.5M202.9 375.7h.5M202.9 371.0h.5M204.0 396.2h.5M197.3 376.5h.5M200.8 392.8h.5M211.5 372.9h.5M196.8 368.4h.5M201.9 377.1h.5M194.7 394.4h.5M196.7 400.4h.5M195.6 383.5h.5M198.0 376.1h.5M193.0 381.6h.5M201.6 393.8h.5M197.4 378.0h.5M197.4 389.2h.5M207.1 400.2h.5M206.7 386.1h.5M195.4 399.5h.5M197.1 371.3h.5M205.2 398.4h.5M204.5 380.1h.5M199.8 394.5h.5M213.4 381.3h.5M197.0 370.7h.5M194.9 373.9h.5M201.7 399.1h.5M201.5 402.7h.5M202.1 398.2h.5M208.7 379.3h.5M197.4 376.8h.5M195.8 379.3h.5M204.7 391.8h.5M200.2 387.0h.5M192.4 395.8h.5M208.0 403.1h.5M195.1 396.5h.5M194.1 389.7h.5M197.3 379.9h.5M200.3 398.3h.5M205.0 394.1h.5M205.0 403.4h.5M206.2 385.6h.5M194.7 397.1h.5M192.4 388.2h.5M210.3 387.8h.5M205.8 398.1h.5M194.5 392.9h.5M198.8 391.7h.5M199.3 387.5h.5M194.6 379.3h.5M210.2 382.9h.5M195.1 392.9h.5M203.9 386.9h.5M193.8 397.4h.5M198.2 387.0h.5M204.0 387.8h.5M198.5 394.9h.5M194.9 386.5h.5M201.7 387.8h.5M200.8 364.5h.5M210.5 384.1h.5M202.6 400.4h.5M197.4 377.5h.5M202.5 385.3h.5M209.7 389.9h.5M201.2 361.3h.5M203.8 397.9h.5M193.9 373.7h.5M200.6 388.3h.5M204.0 380.4h.5M206.7 376.4h.5M199.3 397.3h.5M205.3 387.0h.5M204.9 393.8h.5M204.2 377.5h.5M205.3 401.9h.5M205.4 393.0h.5M197.1 385.5h.5M200.1 373.2h.5M204.5 395.7h.5M202.9 380.5h.5M201.9 388.6h.5M200.4 393.0h.5M208.9 391.5h.5M201.0 377.0h.5M195.9 389.8h.5M205.2 387.9h.5M199.7 378.6h.5M196.0 392.8h.5M206.3 383.2h.5M196.8 396.4h.5M198.5 387.2h.5M202.1 402.9h.5M197.5 395.1h.5M195.2 373.2h.5M195.5 390.9h.5M198.6 393.1h.5M196.7 389.0h.5M197.1 385.6h.5M199.6 387.1h.5M201.0 388.0h.5M195.7 387.5h.5M201.6 376.9h.5M197.6 388.7h.5M212.0 392.1h.5M202.5 375.4h.5M202.0 392.3h.5M196.5 389.0h.5M200.9 392.6h.5M203.1 380.5h.5M203.4 378.3h.5M202.1 366.8h.5M208.4 370.4h.5M203.7 384.5h.5M202.1 384.0h.5M196.1 376.3h.5M197.4 376.2h.5M207.8 398.2h.5M200.3 399.8h.5M200.5 373.7h.5M202.1 383.2h.5M200.0 391.9h.5M198.5 387.6h.5M202.2 368.8h.5M202.4 382.4h.5M191.8 378.4h.5M202.2 381.3h.5M200.8 388.0h.5M198.4 386.6h.5M195.9 384.1h.5M202.7 388.5h.5M202.1 377.3h.5M205.6 371.1h.5M201.0 388.8h.5M190.4 377.1h.5M203.9 380.7h.5M195.7 389.7h.5M199.9 403.3h.5M204.0 391.4h.5M202.7 395.0h.5M205.3 378.1h.5M199.7 401.5h.5M202.3 382.9h.5M199.0 393.6h.5M193.5 387.6h.5M204.9 379.0h.5M197.5 396.9h.5M205.7 376.4h.5M200.6 396.1h.5M205.9 398.0h.5M199.1 389.0h.5M196.2 381.5h.5M202.9 371.4h.5M196.5 384.9h.5M203.2 383.0h.5M194.9 394.2h.5M197.4 379.0h.5M196.0 400.0h.5M204.2 395.2h.5M211.6 402.6h.5M195.5 387.3h.5M195.6 399.5h.5M200.8 379.5h.5M203.3 376.4h.5M205.2 395.8h.5M206.0 392.0h.5M193.9 390.4h.5M195.1 383.6h.5M201.4 401.6h.5M203.7 381.0h.5M192.5 382.4h.5M205.5 400.6h.5M207.2 392.6h.5M203.1 394.8h.5M191.6 384.4h.5M194.5 379.7h.5M203.2 390.5h.5M192.3 388.4h.5M199.7 381.7h.5M195.6 369.3h.5M206.1 390.3h.5M202.6 388.0h.5M199.9 384.1h.5M199.0 383.8h.5M195.9 385.9h.5M198.1 383.4h.5M201.9 394.6h.5M201.4 385.8h.5M203.2 385.2h.5M202.4 369.1h.5M197.2 397.2h.5M193.6 400.1h.5M197.3 390.6h.5M200.6 384.0h.5M202.3 390.0h.5M199.3 395.6h.5M195.0 367.0h.5M200.4 400.9h.5M203.3 379.7h.5M202.9 394.9h.5M196.6 386.3h.5M205.5 388.6h.5M205.6 395.9h.5M193.5 386.2h.5M200.5 384.7h.5M201.4 387.0h.5M204.8 391.8h.5M198.3 378.1h.5M201.5 394.6h.5M202.5 393.2h.5M201.1 375.9h.5M198.5 386.4h.5M206.2 366.7h.5M198.0 395.6h.5M193.7 380.7h.5M210.2 399.0h.5M202.3 393.6h.5M198.7 376.0h.5M203.5 383.9h.5M208.0 390.3h.5M196.3 394.1h.5M209.0 372.7h.5M193.4 402.7h.5M208.5 391.6h.5M202.7 383.6h.5M193.7 388.5h.5M191.6 366.2h.5M204.0 387.3h.5M199.7 363.3h.5M206.3 397.1h.5M198.9 402.6h.5M204.8 377.1h.5M197.9 378.2h.5M198.8 376.7h.5M193.0 384.3h.5M190.2 370.6h.5M204.2 389.4h.5M207.0 384.0h.5M199.2 399.8h.5M191.3 395.4h.5M194.7 370.9h.5M195.9 375.9h.5M198.1 374.5h.5M200.7 381.8h.5M202.9 392.0h.5M200.4 373.1h.5M191.8 382.9h.5M195.7 383.1h.5M200.8 375.9h.5M199.5 389.5h.5M198.9 386.9h.5M198.5 396.5h.5M199.3 383.5h.5M203.3 403.1h.5M197.8 389.8h.5M192.3 391.3h.5M197.4 391.7h.5M207.1 378.5h.5M197.3 387.0h.5M201.9 399.9h.5M201.2 391.7h.5M191.0 390.4h.5M205.5 390.8h.5M197.9 399.1h.5M204.5 395.3h.5M206.7 380.4h.5M202.9 387.8h.5M205.8 390.6h.5M203.5 391.7h.5M200.0 393.2h.5M204.1 398.4h.5M199.1 391.8h.5M201.6 377.5h.5M200.2 393.6h.5M197.9 378.8h.5M197.6 379.1h.5M193.0 395.2h.5M199.8 387.8h.5M198.8 375.0h.5M200.3 389.5h.5M200.2 374.4h.5M209.6 386.6h.5M203.6 375.6h.5M198.5 369.0h.5M204.8 363.9h.5M207.4 368.4h.5M197.3 397.8h.5M198.0 381.0h.5M201.9 378.8h.5M204.6 379.3h.5M201.2 387.9h.5M192.3 385.2h.5M191.4 392.9h.5M208.6 379.6h.5M203.3 393.5h.5M192.2 377.4h.5M194.8 362.4h.5M204.6 375.9h.5M202.9 391.6h.5M199.1 392.0h.5M209.3 387.5h.5M194.5 393.2h.5M195.0 382.4h.5M198.1 395.3h.5M197.2 396.4h.5M203.3 395.6h.5M200.7 394.9h.5M194.5 391.3h.5M203.3 392.2h.5M200.3 372.0h.5M208.9 402.0h.5M203.4 378.7h.5M205.4 384.0h.5M194.0 379.6h.5M199.1 395.9h.5M203.4 395.2h.5M196.6 393.5h.5M194.7 392.3h.5M189.9 385.8h.5M204.1 379.4h.5M204.1 399.3h.5M205.0 377.3h.5M202.6 393.2h.5M198.7 377.8h.5M205.3 368.3h.5M205.2 388.1h.5M206.3 391.9h.5M203.7 394.7h.5M207.2 378.4h.5M197.9 378.5h.5M202.2 390.6h.5M207.2 375.1h.5M199.9 395.6h.5M196.8 376.4h.5M192.2 395.0h.5M196.6 380.8h.5M211.8 400.6h.5M197.7 394.6h.5M207.5 377.6h.5M204.2 399.2h.5M198.5 397.2h.5M202.5 385.6h.5M204.2 396.9h.5M199.9 394.5h.5M202.3 366.5h.5M204.8 385.2h.5M198.3 384.4h.5M200.4 385.5h.5M205.0 379.5h.5M199.8 398.4h.5M198.3 364.7h.5M189.1 366.4h.5M209.1 387.1h.5M208.0 385.5h.5M197.6 393.3h.5M199.2 393.9h.5M202.5 389.1h.5M202.6 380.5h.5M203.5 399.7h.5M203.1 388.8h.5M196.9 371.1h.5M203.8 379.0h.5M201.0 384.0h.5M208.7 377.9h.5M198.0 392.5h.5M206.4 394.3h.5M195.6 395.1h.5M191.9 391.4h.5M197.7 380.1h.5M197.1 401.9h.5M201.0 385.4h.5M199.6 383.5h.5M203.5 373.6h.5M201.0 393.5h.5M194.8 394.9h.5M202.4 388.9h.5M190.4 389.0h.5M203.2 379.4h.5M210.0 393.9h.5M192.9 395.3h.5M193.6 378.1h.5M199.5 388.2h.5M210.1 385.9h.5M197.2 388.6h.5M202.0 401.0h.5M202.6 378.5h.5M194.0 399.1h.5M195.2 384.0h.5M204.3 391.2h.5M200.1 385.6h.5M199.6 380.3h.5M201.9 397.3h.5M196.5 386.7h.5M204.5 394.0h.5M192.3 402.3h.5M198.1 388.4h.5M200.1 384.0h.5M198.7 379.4h.5M210.3 390.3h.5M201.3 390.0h.5M201.4 386.0h.5M204.1 389.8h.5M200.4 383.8h.5M209.4 387.4h.5M202.5 378.8h.5M199.0 382.7h.5M197.9 370.7h.5M192.7 401.8h.5M203.2 383.3h.5M192.3 386.4h.5M206.3 392.6h.5M201.7 378.4h.5M192.9 397.1h.5M204.5 400.7h.5M199.3 368.8h.5M197.9 384.4h.5M200.6 400.4h.5M204.7 390.8h.5M203.8 381.8h.5M198.5 383.9h.5M209.4 369.1h.5M203.5 383.8h.5M199.8 401.6h.5M205.7 373.9h.5M194.7 389.1h.5M204.6 384.0h.5M198.7 375.8h.5M199.7 395.8h.5M204.0 387.1h.5M193.2 393.2h.5M201.3 383.4h.5M206.4 396.6h.5M201.9 382.4h.5M194.2 397.0h.5M199.9 360.6h.5M199.0 390.6h.5M199.9 375.4h.5M202.0 377.6h.5M201.7 393.8h.5M204.5 393.0h.5M209.0 403.2h.5M193.4 396.2h.5M193.3 393.7h.5M206.2 391.3h.5M202.1 376.7h.5M199.0 380.1h.5M200.7 384.0h.5M202.1 390.8h.5M193.5 381.4h.5M199.5 366.3h.5M202.8 379.5h.5M198.9 387.1h.5M204.1 400.2h.5M200.8 392.2h.5M200.3 384.2h.5M201.7 371.1h.5M200.7 379.7h.5M201.0 384.5h.5M195.8 391.8h.5M205.4 377.9h.5M202.7 384.0h.5M198.1 380.9h.5M195.5 364.8h.5M200.0 388.8h.5M202.1 376.4h.5M193.9 369.2h.5M197.2 372.8h.5M203.7 371.2h.5M197.5 375.9h.5M194.6 372.3h.5M201.8 374.8h.5M197.1 365.8h.5M204.1 374.0h.5M198.4 369.6h.5M198.9 370.6h.5M191.0 367.5h.5M206.4 370.4h.5M202.1 379.9h.5M210.6 361.6h.5M197.0 366.8h.5M204.3 378.4h.5M188.4 368.1h.5M192.2 366.2h.5M197.3 364.4h.5M201.1 369.9h.5M197.8 363.0h.5M200.4 376.8h.5M205.1 368.3h.5M188.8 374.0h.5M194.9 371.8h.5M194.5 359.0h.5" stroke="#000" stroke-width="0.8" stroke-opacity="0.45" fill="none"/>
<ellipse cx="201.6" cy="390" rx="6.2" ry="12" fill="#000" fill-opacity=".95" filter="url(#bl2)"/>
</g>
<g clip-path="url(#c3)">
<path d="M113.3 485.0h.5M109.5 477.7h.5M119.8 489.6h.5M110.9 490.9h.5M108.5 492.3h.5M114.9 483.7h.5M115.6 484.3h.5M112.7 485.3h.5M115.0 491.7h.5M118.4 470.3h.5M115.0 496.3h.5M106.0 487.1h.5M113.9 483.4h.5M108.1 481.5h.5M105.8 489.2h.5M115.8 478.6h.5M118.8 495.2h.5M115.0 477.8h.5M110.8 469.1h.5M114.8 474.3h.5M114.2 490.8h.5M109.0 491.3h.5M114.0 496.4h.5M111.2 486.7h.5M121.7 467.7h.5M112.3 481.7h.5M113.1 488.8h.5M120.9 493.7h.5M112.1 479.6h.5M114.6 484.4h.5M114.8 486.0h.5M118.7 488.7h.5M109.8 492.0h.5M109.3 495.0h.5M104.4 497.8h.5M117.9 483.0h.5M122.9 476.3h.5M115.3 463.0h.5M112.2 488.7h.5M119.2 484.7h.5M118.2 488.0h.5M116.5 479.5h.5M108.4 481.8h.5M112.7 487.0h.5M113.8 486.0h.5M110.4 471.7h.5M114.1 477.3h.5M107.7 491.3h.5M116.0 489.4h.5M114.5 482.9h.5M108.9 485.8h.5M111.0 479.6h.5M114.2 488.7h.5M117.7 485.9h.5M109.3 459.6h.5M105.0 475.1h.5M106.9 466.9h.5M118.9 489.9h.5M112.0 493.1h.5M105.6 477.5h.5M119.9 477.1h.5M114.1 474.7h.5M117.6 478.6h.5M105.5 489.0h.5M111.8 490.0h.5M102.2 487.0h.5M123.2 464.3h.5M115.2 484.5h.5M112.1 491.5h.5M106.6 474.3h.5M114.2 464.2h.5M109.0 477.7h.5M120.0 491.6h.5M119.9 476.4h.5M104.9 468.3h.5M103.6 477.1h.5M109.3 486.1h.5M103.3 476.2h.5M110.0 488.6h.5M115.9 480.6h.5M109.8 494.0h.5M110.2 484.4h.5M119.3 478.1h.5M111.6 486.3h.5M122.5 491.2h.5M113.9 491.2h.5M120.2 491.2h.5M114.9 496.4h.5M111.4 480.3h.5M109.3 475.0h.5M108.8 486.0h.5M119.3 474.3h.5M112.9 490.2h.5M114.8 480.5h.5M122.9 487.3h.5M115.0 495.4h.5M115.9 475.2h.5M120.7 472.6h.5M105.1 479.5h.5M111.0 487.6h.5M115.8 476.0h.5M111.0 464.3h.5M115.9 463.4h.5M115.5 477.3h.5M116.5 478.4h.5M112.4 493.7h.5M109.4 490.8h.5M106.8 481.2h.5M110.7 474.0h.5M108.8 483.5h.5M115.1 494.0h.5M116.3 483.9h.5M116.8 481.5h.5M108.0 462.4h.5M103.9 489.0h.5M113.9 458.9h.5M111.0 490.8h.5M118.5 477.0h.5M114.2 477.9h.5M119.7 485.0h.5M106.9 482.9h.5M116.0 468.3h.5M111.4 482.2h.5M113.6 484.8h.5M116.2 479.1h.5M116.5 487.5h.5M114.3 491.4h.5M115.1 466.5h.5M110.2 474.5h.5M108.1 498.3h.5M118.0 493.1h.5M116.9 485.4h.5M122.6 475.0h.5M124.3 459.8h.5M107.3 489.2h.5M124.8 480.5h.5M116.9 494.6h.5M115.0 486.1h.5M113.4 469.1h.5M123.6 493.0h.5M110.6 483.1h.5M111.5 476.3h.5M109.7 479.4h.5M115.3 496.7h.5M107.9 478.2h.5M109.2 491.3h.5M106.7 469.4h.5M109.4 495.5h.5M112.1 480.6h.5M110.7 492.8h.5M110.6 472.4h.5M109.6 473.8h.5M121.2 486.1h.5M113.9 477.6h.5M118.4 481.2h.5M118.4 479.7h.5M107.5 476.0h.5M120.9 475.7h.5M112.1 480.1h.5M117.2 489.7h.5M109.7 474.4h.5M110.3 497.4h.5M112.0 470.2h.5M105.5 470.0h.5M109.4 467.6h.5M118.1 472.7h.5M111.3 476.4h.5M113.2 490.8h.5M114.0 483.5h.5M111.1 496.1h.5M112.1 481.7h.5M108.8 477.7h.5M108.2 486.6h.5M114.4 488.4h.5M116.8 474.1h.5M113.5 496.6h.5M113.9 478.5h.5M107.7 469.6h.5M111.8 492.3h.5M108.5 493.9h.5M120.5 472.4h.5M112.1 471.6h.5M113.7 483.6h.5M111.2 493.5h.5M118.6 490.7h.5M107.0 487.5h.5M106.1 491.8h.5M113.3 462.9h.5M106.8 492.5h.5M117.5 476.3h.5M115.1 486.7h.5M118.9 481.7h.5M118.0 484.6h.5M112.4 481.8h.5M123.3 488.5h.5M110.0 486.1h.5M107.0 490.5h.5M120.4 474.6h.5M116.6 470.2h.5M109.9 478.4h.5M110.7 494.0h.5M107.9 480.0h.5M114.0 476.4h.5M110.1 479.5h.5M109.8 494.1h.5M116.8 467.1h.5M113.3 476.7h.5M104.4 489.0h.5M107.2 494.3h.5M114.5 486.5h.5M109.9 488.8h.5M113.7 481.9h.5M118.2 486.2h.5M111.1 487.4h.5M107.9 494.0h.5M121.2 465.4h.5M114.4 498.2h.5M116.4 478.4h.5M112.1 490.1h.5M110.1 476.9h.5M119.0 481.8h.5M119.4 470.0h.5M108.9 487.4h.5M110.2 489.8h.5M112.3 484.5h.5M119.0 465.7h.5M120.1 482.2h.5M107.8 487.4h.5M113.0 474.2h.5M116.3 486.2h.5M116.1 494.2h.5M114.9 483.1h.5M113.9 457.2h.5M107.6 475.9h.5M116.3 490.2h.5M121.5 487.7h.5M113.2 492.0h.5M111.7 491.5h.5M120.2 478.9h.5M115.3 486.6h.5M116.5 470.5h.5M120.5 475.4h.5M118.1 479.4h.5M117.3 473.4h.5M116.6 486.0h.5M109.8 482.9h.5M120.4 486.7h.5M115.0 462.2h.5M111.8 488.8h.5M104.2 486.0h.5M109.7 490.6h.5M113.7 468.8h.5M114.8 489.5h.5M121.8 475.9h.5M116.0 480.0h.5M114.7 473.8h.5M115.4 493.0h.5M109.4 495.9h.5M105.2 493.6h.5M114.5 482.2h.5M108.3 489.2h.5M112.0 470.7h.5M106.0 487.9h.5M117.4 492.3h.5M111.0 487.5h.5M111.2 457.9h.5M123.5 465.0h.5M113.9 489.8h.5M108.8 484.6h.5M120.7 481.2h.5M114.0 474.7h.5M113.3 492.7h.5M109.5 485.3h.5M112.4 491.0h.5M112.8 474.5h.5M114.3 484.9h.5M113.3 479.5h.5M106.8 486.1h.5M122.8 489.3h.5M112.4 477.3h.5M105.8 489.9h.5M104.7 479.1h.5M121.2 490.0h.5M124.9 485.6h.5M117.5 467.1h.5M122.4 489.5h.5M111.7 483.1h.5M111.3 490.7h.5M117.1 477.5h.5M109.5 495.7h.5M107.3 493.5h.5M120.6 483.0h.5M114.3 472.7h.5M114.0 494.3h.5M119.2 495.0h.5M111.7 489.6h.5M110.0 486.0h.5M107.6 482.6h.5M119.1 486.2h.5M111.4 495.1h.5M118.3 470.3h.5M116.4 493.6h.5M112.5 489.4h.5M111.6 486.8h.5M116.1 471.7h.5M121.3 497.4h.5M116.7 497.5h.5M112.9 494.9h.5M116.0 472.9h.5M109.0 495.8h.5M113.4 477.8h.5M113.2 472.0h.5M103.0 481.6h.5M109.1 495.0h.5M120.0 498.2h.5M120.4 495.9h.5M119.6 487.1h.5M108.0 484.7h.5M118.6 478.7h.5M117.7 485.7h.5M115.1 495.1h.5M118.0 483.4h.5M104.8 479.1h.5M111.1 487.1h.5M113.6 471.8h.5M107.0 461.4h.5M114.6 474.0h.5M111.9 477.4h.5M120.2 485.8h.5M113.7 483.2h.5M118.7 493.1h.5M116.6 459.3h.5M112.0 488.5h.5M110.3 490.6h.5M110.2 476.6h.5M110.9 474.5h.5M121.2 475.0h.5M114.4 481.6h.5M119.4 488.9h.5M121.0 485.5h.5M116.7 480.2h.5M118.7 478.9h.5M114.9 470.7h.5M118.8 482.1h.5M114.7 481.2h.5M114.8 491.4h.5M111.9 468.7h.5M120.7 478.9h.5M117.9 472.5h.5M111.8 466.6h.5M111.7 477.8h.5M104.9 496.8h.5M113.4 492.2h.5M116.3 493.8h.5M116.0 456.3h.5M118.8 483.8h.5M119.3 485.0h.5M110.5 483.2h.5M121.0 490.3h.5M116.4 489.0h.5M113.4 496.9h.5M111.7 476.5h.5M116.3 474.9h.5M115.8 473.8h.5M118.6 491.0h.5M118.9 479.7h.5M119.1 492.9h.5M112.2 472.5h.5M110.6 480.3h.5M115.8 472.2h.5M110.7 472.7h.5M115.4 477.3h.5M112.8 478.0h.5M115.7 491.8h.5M113.4 483.8h.5M117.0 483.2h.5M114.7 485.1h.5M115.6 475.6h.5M113.2 484.0h.5M118.7 479.3h.5M120.3 472.5h.5M112.5 478.2h.5M106.5 484.9h.5M113.0 482.6h.5M120.4 486.5h.5M119.6 467.4h.5M109.1 493.1h.5M105.1 497.8h.5M104.7 491.3h.5M109.6 474.2h.5M110.3 487.1h.5M116.2 487.8h.5M117.3 473.0h.5M110.3 468.3h.5M104.1 482.2h.5M112.3 491.5h.5M116.3 482.2h.5M110.9 480.0h.5M121.6 485.7h.5M112.5 482.8h.5M109.2 496.4h.5M113.2 481.4h.5M115.5 486.0h.5M111.6 478.6h.5M104.8 467.2h.5M114.8 466.5h.5M108.0 483.1h.5M114.7 473.0h.5M112.8 467.1h.5M114.3 477.9h.5M108.7 491.6h.5M113.2 479.6h.5M114.5 479.9h.5M117.0 468.7h.5M114.2 496.5h.5M112.1 484.5h.5M112.3 485.4h.5M122.8 480.5h.5M111.6 478.5h.5M120.0 485.2h.5M115.1 471.0h.5M116.7 478.8h.5M116.8 487.7h.5M109.2 492.1h.5M113.8 487.1h.5M116.2 474.1h.5M122.0 477.1h.5M102.9 487.5h.5M112.8 460.7h.5M107.4 480.8h.5M105.1 494.7h.5M120.4 496.0h.5M119.4 479.3h.5M111.5 475.7h.5M120.2 482.4h.5M111.2 473.6h.5M117.3 475.5h.5M112.5 493.5h.5M112.4 471.1h.5M110.7 495.0h.5M113.2 467.9h.5M115.4 471.7h.5M116.2 490.7h.5M110.1 478.8h.5M113.5 479.1h.5M108.5 486.0h.5M110.6 495.4h.5M120.8 487.3h.5M114.2 490.7h.5M107.3 495.7h.5M105.9 484.8h.5M108.6 486.2h.5M114.9 483.5h.5M104.5 465.0h.5M112.3 490.5h.5M113.5 490.9h.5M115.8 492.0h.5M120.7 489.7h.5M110.9 469.7h.5M117.3 465.4h.5M108.5 477.9h.5M112.7 487.2h.5M114.0 487.6h.5M105.0 482.4h.5M115.8 484.9h.5M107.3 482.3h.5M119.3 485.9h.5M112.2 428.8h.5M109.6 464.2h.5M109.6 448.3h.5M110.6 445.7h.5M110.9 452.7h.5M103.7 450.0h.5M111.7 458.5h.5M120.2 455.7h.5M108.1 424.1h.5M114.3 442.7h.5M107.9 449.3h.5M111.8 453.9h.5M114.6 446.7h.5M104.7 433.5h.5M107.7 446.6h.5M116.2 447.7h.5M109.6 440.5h.5" stroke="#000" stroke-width="0.8" stroke-opacity="0.45" fill="none"/>
<path d="M110.8 470.9h.5M112.7 480.7h.5M124.2 496.0h.5M110.8 464.7h.5M106.5 483.5h.5M119.2 463.7h.5M111.4 484.9h.5M117.9 485.3h.5M116.5 484.2h.5M119.8 484.7h.5M114.5 485.8h.5M114.6 480.1h.5M106.3 486.3h.5M121.4 486.9h.5M111.8 460.2h.5M111.0 482.2h.5M112.5 473.6h.5M110.2 480.8h.5M108.5 483.4h.5M113.1 497.7h.5M112.1 483.4h.5M115.1 492.0h.5M116.0 495.5h.5M106.5 489.7h.5M115.5 481.8h.5M119.6 483.4h.5M117.5 466.4h.5M119.7 485.9h.5M109.7 490.7h.5M118.3 495.6h.5M115.8 482.9h.5M104.3 479.9h.5M111.6 476.0h.5M126.2 488.2h.5M109.1 469.1h.5M115.4 486.1h.5M110.0 481.1h.5M109.9 470.0h.5M108.4 471.9h.5M114.8 486.6h.5M111.3 493.4h.5M108.3 478.5h.5M107.3 485.5h.5M112.5 495.2h.5M111.1 476.0h.5M113.8 476.9h.5M105.4 483.9h.5M111.4 487.4h.5M123.5 492.8h.5M109.3 480.4h.5M111.5 482.1h.5M108.3 491.6h.5M108.7 486.7h.5M111.2 495.8h.5M105.7 476.6h.5M117.2 480.4h.5M109.7 482.3h.5M125.1 487.5h.5M111.2 480.4h.5M105.4 487.8h.5M116.5 485.5h.5M110.2 464.5h.5M120.0 482.7h.5M118.1 469.2h.5M109.0 488.7h.5M113.8 490.6h.5M121.7 476.5h.5M119.0 489.3h.5M108.6 473.1h.5M105.5 497.0h.5M121.0 481.3h.5M112.0 483.1h.5M106.4 479.3h.5M117.5 471.7h.5M113.3 492.7h.5M110.2 492.2h.5M112.1 490.2h.5M117.2 471.4h.5M105.2 484.3h.5M116.0 495.5h.5M116.2 468.8h.5M108.2 478.6h.5M113.3 470.0h.5M113.9 492.4h.5M117.6 496.1h.5M113.5 490.9h.5M115.9 480.4h.5M105.0 478.5h.5M107.2 490.6h.5M113.1 486.3h.5M115.9 476.3h.5M113.5 491.9h.5M119.5 481.4h.5M118.1 468.2h.5M111.8 484.0h.5M114.5 488.8h.5M122.0 485.0h.5M117.6 470.3h.5M113.7 485.6h.5M106.1 478.1h.5M117.8 477.7h.5M112.4 496.8h.5M110.7 487.2h.5M110.6 482.2h.5M114.4 495.6h.5M113.2 475.0h.5M112.4 480.8h.5M118.6 478.5h.5M122.8 488.8h.5M111.0 482.3h.5M114.3 483.9h.5M117.8 469.6h.5M120.1 488.0h.5M117.2 485.8h.5M112.5 462.7h.5M117.1 469.4h.5M120.1 492.9h.5M108.7 486.8h.5M112.1 495.4h.5M116.2 492.7h.5M118.6 470.4h.5M114.6 471.1h.5M121.5 489.5h.5M104.4 476.5h.5M116.3 486.1h.5M112.1 473.9h.5M106.4 485.7h.5M109.5 476.6h.5M113.6 460.7h.5M106.6 483.1h.5M116.3 477.2h.5M113.0 477.0h.5M117.6 478.7h.5M107.3 481.4h.5M120.5 478.6h.5M120.4 480.5h.5M116.9 464.8h.5M110.6 478.3h.5M114.0 467.3h.5M106.6 498.1h.5M120.8 483.6h.5M123.3 490.0h.5M116.5 488.0h.5M111.0 489.3h.5M118.3 483.6h.5M113.4 483.7h.5M114.2 494.8h.5M120.5 491.5h.5M108.2 484.1h.5M125.5 467.8h.5M108.7 486.3h.5M112.3 486.6h.5M108.4 481.5h.5M115.7 479.8h.5M118.3 495.5h.5M113.3 470.9h.5M109.9 489.9h.5M114.6 478.3h.5M114.4 477.3h.5M112.9 476.0h.5M115.2 489.2h.5M106.2 486.2h.5M116.0 470.0h.5M115.6 480.3h.5M117.9 482.2h.5M121.9 481.8h.5M110.9 474.2h.5M121.2 483.7h.5M109.6 489.9h.5M111.4 466.5h.5M118.3 495.2h.5M105.7 463.7h.5M112.3 480.2h.5M113.1 473.6h.5M117.6 463.5h.5M111.3 475.6h.5M115.3 493.1h.5M108.6 489.6h.5M118.3 479.8h.5M110.4 486.0h.5M119.6 471.1h.5M110.0 483.4h.5M115.2 463.4h.5M120.4 495.5h.5M112.4 486.3h.5M117.3 484.7h.5M116.1 480.4h.5M119.9 491.4h.5M118.4 496.5h.5M112.4 468.3h.5M113.7 478.9h.5M119.8 465.2h.5M112.8 484.5h.5M112.6 475.1h.5M107.6 474.1h.5M114.9 480.0h.5M106.7 494.3h.5M110.3 477.6h.5M111.7 466.3h.5M110.6 473.6h.5M117.1 475.6h.5M115.3 472.7h.5M119.1 468.5h.5M119.4 472.7h.5M113.6 490.2h.5M115.5 473.7h.5M107.4 479.2h.5M116.0 482.4h.5M121.6 490.1h.5M111.8 474.8h.5M110.9 473.0h.5M120.6 489.6h.5M119.8 490.0h.5M116.5 495.9h.5M117.0 472.0h.5M113.2 489.3h.5M112.0 467.1h.5M116.4 484.2h.5M123.2 486.7h.5M105.9 482.1h.5M114.0 484.2h.5M114.3 472.5h.5M115.0 473.0h.5M107.7 473.4h.5M113.9 461.9h.5M113.1 482.6h.5M107.0 478.5h.5M112.1 481.5h.5M114.1 476.7h.5M110.9 487.8h.5M115.3 487.5h.5M110.1 472.9h.5M122.9 458.6h.5M113.4 480.7h.5M102.5 472.0h.5M121.5 494.7h.5M109.6 477.8h.5M119.4 498.5h.5M113.2 488.5h.5M115.3 481.6h.5M116.9 488.1h.5M118.4 478.3h.5M109.2 480.3h.5M117.3 463.8h.5M112.7 477.3h.5M110.6 473.6h.5M111.7 480.4h.5M113.9 488.2h.5M114.6 484.1h.5M119.0 495.0h.5M108.4 492.1h.5M107.3 489.3h.5M111.2 479.2h.5M107.1 494.4h.5M111.0 492.1h.5M110.5 483.1h.5M117.4 475.1h.5M110.9 482.5h.5M111.1 488.4h.5M113.9 487.9h.5M113.2 484.0h.5M116.4 475.2h.5M110.2 488.6h.5M111.4 479.1h.5M115.0 486.8h.5M114.8 494.8h.5M108.0 486.0h.5M117.0 471.9h.5M121.6 465.4h.5M104.9 485.5h.5M115.0 488.1h.5M114.0 492.1h.5M118.7 480.7h.5M122.3 497.9h.5M111.8 481.8h.5M111.0 498.5h.5M113.8 491.9h.5M110.4 482.8h.5M106.7 476.9h.5M121.1 466.9h.5M118.4 493.5h.5M114.1 498.4h.5M111.0 470.8h.5M111.7 482.7h.5M111.3 486.6h.5M112.6 477.5h.5M106.0 476.3h.5M117.0 475.1h.5M109.7 487.8h.5M115.9 493.2h.5M112.2 474.4h.5M120.7 488.3h.5M107.7 485.0h.5M115.3 483.9h.5M112.4 488.9h.5M109.4 460.9h.5M126.9 481.0h.5M114.7 465.5h.5M104.3 468.3h.5M110.4 493.7h.5M111.4 491.4h.5M106.1 465.1h.5M111.0 488.3h.5M117.5 494.4h.5M120.4 495.9h.5M110.3 459.6h.5M108.7 468.0h.5M105.6 494.0h.5M109.4 476.0h.5M118.2 494.5h.5M117.7 478.2h.5M113.2 480.0h.5M110.6 496.2h.5M119.9 489.5h.5M118.0 493.2h.5M118.6 472.6h.5M118.5 495.3h.5M106.8 491.9h.5M117.3 489.1h.5M119.6 484.3h.5M111.2 490.0h.5M108.3 489.0h.5M110.7 486.6h.5M113.7 474.6h.5M106.9 476.9h.5M114.9 498.5h.5M120.1 485.9h.5M105.2 477.6h.5M113.1 478.7h.5M105.7 479.1h.5M112.4 483.3h.5M109.1 485.1h.5M111.2 482.7h.5M114.4 483.0h.5M108.7 484.8h.5M113.2 479.2h.5M114.5 494.0h.5M112.0 495.5h.5M117.2 497.8h.5M113.9 479.1h.5M110.9 483.0h.5M114.7 491.5h.5M111.0 484.8h.5M119.3 488.8h.5M108.0 494.8h.5M109.6 478.7h.5M112.9 490.8h.5M107.2 481.5h.5M124.6 492.4h.5M116.0 485.4h.5M116.7 487.5h.5M113.1 478.8h.5M120.2 485.6h.5M111.2 492.2h.5M114.3 494.5h.5M116.4 494.2h.5M112.6 467.3h.5M118.2 488.9h.5M115.8 461.7h.5M115.9 493.6h.5M107.9 484.6h.5M112.7 475.2h.5M106.9 469.4h.5M102.7 476.0h.5M112.8 486.2h.5M124.1 491.1h.5M105.9 472.0h.5M108.0 476.1h.5M122.6 456.8h.5M114.4 468.3h.5M124.3 481.7h.5M114.6 491.0h.5M112.1 466.7h.5M119.3 489.0h.5M116.6 470.4h.5M122.9 493.8h.5M111.4 486.4h.5M112.6 478.0h.5M114.9 488.9h.5M109.8 485.0h.5M109.4 493.7h.5M114.5 474.8h.5M120.8 475.5h.5M105.5 484.2h.5M121.3 460.5h.5M116.7 486.7h.5M105.5 493.5h.5M117.1 472.0h.5M112.2 474.7h.5M115.9 495.2h.5M105.2 481.2h.5M124.0 487.8h.5M117.6 495.2h.5M111.9 464.9h.5M117.6 491.7h.5M114.7 493.0h.5M115.0 492.2h.5M114.6 486.1h.5M110.9 496.6h.5M106.9 477.2h.5M111.8 489.2h.5M114.8 458.6h.5M108.3 479.4h.5M116.5 487.2h.5M114.8 474.9h.5M113.7 490.1h.5M107.1 484.7h.5M102.8 497.0h.5M113.3 468.4h.5M115.8 487.7h.5M118.7 491.6h.5M104.9 487.6h.5M113.1 475.4h.5M117.2 469.7h.5M116.2 463.1h.5M109.4 477.0h.5M111.7 470.5h.5M116.3 485.2h.5M103.0 476.8h.5M106.8 484.4h.5M111.8 469.7h.5M112.7 498.4h.5M121.2 490.4h.5M113.1 477.0h.5M105.2 479.0h.5M114.0 488.0h.5M111.9 474.3h.5M110.5 484.1h.5M110.2 495.9h.5M106.8 476.2h.5M106.0 484.2h.5M114.2 482.7h.5M119.6 487.3h.5M112.1 469.5h.5M121.3 480.8h.5M104.0 486.2h.5M113.4 489.8h.5M116.5 490.1h.5M107.3 484.8h.5M109.8 476.0h.5M111.8 479.2h.5M106.2 484.1h.5M109.7 478.1h.5M113.3 481.4h.5M117.9 494.9h.5M110.0 464.3h.5M117.6 474.7h.5M113.3 487.1h.5M107.1 478.4h.5M108.5 496.7h.5M116.4 479.9h.5M107.5 491.1h.5M119.3 473.1h.5M117.4 481.0h.5M117.8 479.9h.5M112.9 480.7h.5M112.6 493.0h.5M109.3 468.6h.5M117.4 497.9h.5M108.0 488.3h.5M108.7 476.2h.5M124.3 479.2h.5M112.5 478.1h.5M119.4 492.9h.5M118.2 491.9h.5M106.9 489.7h.5M121.0 477.6h.5M119.4 455.6h.5M113.1 462.2h.5M111.2 436.6h.5M110.7 442.3h.5M110.6 442.9h.5M117.4 454.3h.5M104.2 443.3h.5M113.7 439.1h.5M110.3 427.5h.5M116.3 433.5h.5M115.1 425.6h.5M116.8 444.7h.5M112.8 447.1h.5M108.7 458.1h.5M116.6 433.1h.5M115.3 430.1h.5" stroke="#000" stroke-width="0.8" stroke-opacity="0.45" fill="none"/>
<path d="M113.0 477.1h.5M121.2 482.0h.5M105.1 484.7h.5M120.2 496.0h.5M114.5 494.2h.5M112.0 494.5h.5M110.9 467.9h.5M115.5 489.3h.5M120.6 465.5h.5M109.1 484.9h.5M118.3 495.6h.5M120.3 483.6h.5M116.3 495.1h.5M108.6 477.5h.5M112.7 477.0h.5M117.4 479.6h.5M105.7 486.9h.5M111.8 490.2h.5M108.5 498.5h.5M114.7 471.6h.5M119.5 481.2h.5M116.0 497.9h.5M116.6 497.9h.5M117.9 469.7h.5M116.4 485.6h.5M120.8 497.3h.5M112.1 494.1h.5M105.2 488.2h.5M109.2 480.0h.5M115.5 486.7h.5M108.5 497.3h.5M108.0 480.9h.5M116.2 472.8h.5M120.6 469.4h.5M112.0 495.5h.5M120.0 481.3h.5M116.5 491.9h.5M109.7 493.5h.5M114.8 474.8h.5M113.5 488.3h.5M109.9 465.3h.5M121.0 481.8h.5M119.7 484.6h.5M114.2 487.0h.5M113.5 489.4h.5M114.5 486.5h.5M107.7 474.0h.5M105.8 470.8h.5M115.4 487.3h.5M116.2 487.0h.5M113.6 472.3h.5M110.6 488.9h.5M109.3 475.5h.5M105.4 484.9h.5M116.5 464.4h.5M121.9 475.5h.5M114.9 475.7h.5M114.6 478.5h.5M107.8 476.6h.5M112.5 495.7h.5M119.1 475.6h.5M111.2 489.0h.5M116.5 457.0h.5M110.2 471.7h.5M119.1 486.7h.5M120.7 473.5h.5M106.6 482.9h.5M116.1 473.6h.5M117.7 491.6h.5M109.3 485.1h.5M118.9 494.6h.5M110.4 481.9h.5M105.8 483.9h.5M109.9 458.8h.5M115.6 476.9h.5M106.6 472.4h.5M111.5 495.2h.5M115.3 472.0h.5M118.2 480.1h.5M115.4 475.2h.5M118.5 487.4h.5M110.6 473.1h.5M121.2 477.0h.5M121.5 478.2h.5M107.9 484.9h.5M108.4 476.0h.5M107.8 479.8h.5M118.7 481.6h.5M116.7 484.1h.5M114.7 481.0h.5M120.6 495.8h.5M117.9 488.9h.5M108.4 492.6h.5M114.5 482.8h.5M106.5 477.9h.5M109.6 482.2h.5M111.1 475.4h.5M102.7 491.6h.5M118.5 475.3h.5M124.6 481.7h.5M112.5 488.5h.5M111.2 490.6h.5M115.2 479.7h.5M115.7 474.6h.5M109.9 466.9h.5M115.0 489.2h.5M102.9 483.5h.5M116.8 481.6h.5M125.3 483.5h.5M118.7 483.1h.5M116.7 485.2h.5M120.7 468.5h.5M114.4 490.6h.5M110.6 472.7h.5M111.3 486.6h.5M115.1 482.8h.5M120.6 488.2h.5M111.0 483.0h.5M106.2 485.2h.5M108.7 478.1h.5M123.0 473.9h.5M114.0 472.5h.5M118.3 477.4h.5M112.6 480.5h.5M109.6 467.5h.5M113.0 482.5h.5M115.4 472.4h.5M110.2 490.9h.5M118.6 481.2h.5M111.1 471.8h.5M114.3 479.7h.5M114.1 486.1h.5M120.0 485.9h.5M125.3 485.1h.5M112.7 468.3h.5M109.5 476.3h.5M110.5 490.7h.5M112.2 476.3h.5M108.3 482.7h.5M114.8 497.5h.5M111.5 489.6h.5M113.6 472.1h.5M108.3 468.2h.5M116.0 479.5h.5M119.1 472.4h.5M117.1 490.5h.5M115.3 488.2h.5M115.7 468.6h.5M117.0 473.1h.5M115.5 495.6h.5M108.3 487.9h.5M115.2 480.5h.5M121.1 483.5h.5M109.5 486.4h.5M111.9 493.0h.5M111.7 463.5h.5M112.3 479.7h.5M111.2 469.5h.5M111.6 482.1h.5M114.2 485.9h.5M114.1 460.9h.5M108.0 492.6h.5M122.1 486.1h.5M119.2 487.5h.5M111.5 488.8h.5M110.9 470.6h.5M111.4 483.1h.5M114.4 487.1h.5M121.7 496.0h.5M117.9 485.3h.5M115.1 469.3h.5M111.7 488.1h.5M105.2 467.0h.5M123.0 490.8h.5M119.8 495.0h.5M115.7 483.3h.5M110.8 471.3h.5M112.3 472.4h.5M116.0 488.8h.5M117.8 494.8h.5M109.2 485.9h.5M106.5 489.8h.5M112.5 477.0h.5M110.8 487.5h.5M117.1 466.7h.5M117.7 482.5h.5M120.9 493.6h.5M108.2 479.6h.5M102.5 489.0h.5M118.2 482.5h.5M117.4 482.2h.5M119.4 481.8h.5M105.3 485.9h.5M120.8 466.9h.5M105.1 486.7h.5M123.2 484.1h.5M107.2 484.6h.5M112.0 477.5h.5M113.6 495.9h.5M120.0 485.0h.5M111.3 463.8h.5M108.8 465.5h.5M112.2 480.1h.5M112.9 485.6h.5M117.4 473.6h.5M116.4 498.2h.5M113.6 471.2h.5M108.3 484.3h.5M114.7 461.0h.5M114.0 467.9h.5M113.6 482.9h.5M109.9 467.7h.5M115.4 482.4h.5M111.3 493.5h.5M114.2 478.1h.5M115.0 487.4h.5M116.2 496.7h.5M108.7 465.8h.5M114.5 479.6h.5M120.2 460.3h.5M116.9 490.1h.5M113.5 489.5h.5M109.0 466.1h.5M111.4 484.5h.5M114.1 482.9h.5M115.7 465.9h.5M108.7 484.3h.5M110.7 482.6h.5M120.3 482.3h.5M117.4 468.7h.5M114.7 482.6h.5M111.6 489.0h.5M116.7 490.6h.5M114.1 474.8h.5M110.0 483.0h.5M114.7 483.5h.5M110.3 483.1h.5M118.7 470.0h.5M110.6 490.2h.5M116.2 472.7h.5M114.2 480.9h.5M115.0 473.4h.5M107.6 488.1h.5M109.0 479.2h.5M117.3 491.8h.5M116.4 490.6h.5M123.0 479.6h.5M109.2 491.7h.5M116.8 478.7h.5M111.4 481.8h.5M113.8 474.3h.5M111.0 493.4h.5M110.3 466.2h.5M114.8 492.2h.5M114.6 481.1h.5M115.3 475.3h.5M116.7 485.7h.5M123.5 475.0h.5M114.2 495.8h.5M113.1 481.7h.5M117.4 479.0h.5M114.0 479.2h.5M113.2 481.4h.5M121.6 490.7h.5M110.2 484.3h.5M113.8 461.3h.5M110.0 492.2h.5M120.3 470.2h.5M113.4 481.7h.5M112.1 472.8h.5M109.9 477.9h.5M120.4 476.2h.5M120.5 471.4h.5M114.6 490.2h.5M118.2 468.6h.5M115.1 483.4h.5M110.1 497.7h.5M117.4 498.1h.5M112.1 483.7h.5M110.5 472.2h.5M108.5 480.8h.5M109.3 476.4h.5M117.1 465.7h.5M118.0 476.6h.5M119.0 474.6h.5M113.1 471.3h.5M109.0 470.0h.5M110.1 489.9h.5M113.7 486.5h.5M119.0 473.4h.5M116.7 492.1h.5M111.5 456.9h.5M112.5 471.8h.5M113.5 473.2h.5M120.4 475.3h.5M120.1 463.4h.5M107.0 497.0h.5M111.9 484.5h.5M121.7 489.4h.5M116.5 468.5h.5M119.0 457.0h.5M117.9 495.0h.5M109.3 480.6h.5M123.3 475.1h.5M119.0 459.8h.5M111.5 482.9h.5M114.3 478.8h.5M111.9 489.0h.5M120.1 490.7h.5M119.0 489.4h.5M115.8 476.8h.5M112.8 485.5h.5M109.5 481.3h.5M107.6 490.8h.5M111.1 484.9h.5M118.4 486.8h.5M118.1 469.0h.5M122.6 494.0h.5M117.0 469.4h.5M117.4 487.2h.5M120.3 492.7h.5M120.7 488.2h.5M110.7 484.3h.5M120.7 475.6h.5M125.5 485.4h.5M113.8 478.5h.5M111.1 487.6h.5M110.3 462.9h.5M117.8 491.5h.5M112.6 489.1h.5M112.2 480.1h.5M125.7 483.7h.5M117.7 481.8h.5M113.8 480.0h.5M113.0 488.8h.5M112.9 485.6h.5M115.6 494.5h.5M125.4 490.7h.5M110.8 489.6h.5M114.1 476.0h.5M113.3 481.2h.5M116.5 471.6h.5M110.4 475.5h.5M108.5 471.3h.5M113.8 487.3h.5M118.8 458.4h.5M114.1 491.7h.5M116.6 480.8h.5M117.2 477.5h.5M113.5 483.7h.5M118.9 491.0h.5M119.2 477.5h.5M112.4 480.6h.5M113.9 474.4h.5M119.4 482.0h.5M115.3 486.9h.5M109.7 491.2h.5M115.2 476.7h.5M117.5 465.1h.5M115.7 477.5h.5M111.4 496.5h.5M117.9 497.7h.5M112.3 489.2h.5M114.6 484.0h.5M105.7 477.3h.5M105.1 482.7h.5M117.4 485.8h.5M114.6 470.4h.5M113.2 474.3h.5M118.4 482.2h.5M115.3 468.7h.5M115.3 486.9h.5M112.6 476.0h.5M116.0 459.1h.5M118.9 496.1h.5M114.5 497.0h.5M110.4 492.2h.5M117.8 462.3h.5M123.8 476.7h.5M112.2 495.1h.5M114.8 496.4h.5M117.5 484.5h.5M113.0 496.1h.5M110.5 493.4h.5M110.2 489.0h.5M109.8 481.2h.5M106.6 474.3h.5M124.7 486.4h.5M107.0 482.1h.5M112.4 480.5h.5M118.6 491.0h.5M107.2 486.1h.5M114.7 492.8h.5M114.3 469.6h.5M114.5 469.3h.5M114.7 495.3h.5M109.8 479.2h.5M113.7 483.0h.5M112.1 488.3h.5M114.7 457.8h.5M109.7 486.8h.5M113.5 490.7h.5M111.5 479.0h.5M108.6 476.4h.5M111.9 489.5h.5M116.6 478.4h.5M116.0 494.0h.5M122.0 482.2h.5M105.4 457.9h.5M117.2 496.0h.5M123.6 479.3h.5M113.2 476.6h.5M111.7 470.8h.5M112.1 479.2h.5M106.5 479.3h.5M112.9 498.0h.5M105.8 473.2h.5M115.3 498.5h.5M113.2 492.5h.5M113.4 462.2h.5M111.8 467.6h.5M123.8 474.2h.5M117.2 494.8h.5M113.8 484.7h.5M116.7 492.9h.5M107.4 463.5h.5M111.1 471.5h.5M118.7 494.4h.5M118.6 480.3h.5M104.7 489.8h.5M119.0 480.2h.5M116.9 486.3h.5M117.2 489.0h.5M118.0 481.8h.5M117.7 457.0h.5M110.3 485.9h.5M115.0 475.7h.5M107.8 486.6h.5M116.5 471.9h.5M118.9 482.9h.5M111.6 470.2h.5M111.1 464.8h.5M107.2 479.9h.5M114.6 482.2h.5M120.5 487.0h.5M115.7 482.9h.5M111.1 496.5h.5M120.5 460.6h.5M113.0 482.5h.5M120.0 487.4h.5M106.1 468.1h.5M109.5 463.3h.5M115.9 485.5h.5M115.9 480.6h.5M108.0 474.9h.5M111.7 489.1h.5M110.5 484.9h.5M108.4 479.3h.5M113.8 484.0h.5M112.6 485.9h.5M115.5 488.7h.5M119.9 463.2h.5M106.4 470.6h.5M114.8 486.7h.5M105.2 493.2h.5M113.8 482.5h.5M105.0 441.5h.5M109.5 442.7h.5M110.7 447.6h.5M113.4 436.9h.5M110.4 437.6h.5M113.8 446.7h.5M112.6 460.3h.5M108.9 435.3h.5M108.0 448.0h.5M111.0 443.0h.5M112.2 424.7h.5M115.8 436.6h.5M107.2 449.2h.5M111.3 442.9h.5M104.4 447.3h.5M101.4 458.3h.5M106.9 438.4h.5" stroke="#000" stroke-width="0.8" stroke-opacity="0.45" fill="none"/>
<ellipse cx="113.8" cy="487" rx="5.8" ry="17" fill="#000" filter="url(#bl2)"/>
</g>
<g clip-path="url(#c4)">
<path d="M199.1 468.2h.5M202.8 477.8h.5M200.1 465.5h.5M204.9 457.7h.5M203.0 476.9h.5M201.4 480.7h.5M199.5 483.4h.5M194.4 462.8h.5M201.7 473.3h.5M202.7 463.0h.5M205.0 478.2h.5M199.7 467.2h.5M200.2 476.9h.5M195.7 462.1h.5M202.4 479.6h.5M203.7 459.7h.5M207.5 469.7h.5M203.4 470.7h.5M201.4 475.7h.5M198.2 485.2h.5M208.4 479.3h.5M205.8 460.5h.5M207.2 478.0h.5M205.6 483.0h.5M205.4 476.1h.5M205.4 491.2h.5M208.1 455.4h.5M199.8 459.3h.5M194.6 469.8h.5M205.5 480.3h.5M207.1 470.2h.5M199.1 467.3h.5M202.8 480.9h.5M200.3 475.3h.5M196.6 484.2h.5M197.1 494.2h.5M201.3 448.3h.5M199.9 479.7h.5M209.3 475.4h.5M199.5 478.2h.5M201.6 458.2h.5M199.6 484.5h.5M200.6 475.6h.5M211.8 459.5h.5M203.5 485.5h.5M209.3 476.5h.5M208.2 459.4h.5M204.4 460.7h.5M205.6 451.3h.5M212.9 460.6h.5M203.8 489.4h.5M205.4 486.7h.5M201.7 480.0h.5M202.4 480.5h.5M201.8 494.1h.5M200.1 474.9h.5M201.1 489.5h.5M204.2 486.9h.5M201.2 480.4h.5M200.8 483.4h.5M204.2 493.5h.5M204.5 460.6h.5M200.5 495.6h.5M201.9 491.1h.5M194.8 491.0h.5M208.4 459.6h.5M209.7 481.5h.5M203.4 472.0h.5M205.7 474.9h.5M206.7 482.2h.5M201.5 477.4h.5M205.2 489.4h.5M211.4 471.4h.5M200.0 476.4h.5M206.9 457.1h.5M199.7 495.6h.5M201.4 484.8h.5M208.2 476.0h.5M208.2 481.5h.5M210.1 472.6h.5M205.3 472.6h.5M209.2 492.0h.5M203.8 466.8h.5M206.6 488.4h.5M203.0 487.3h.5M198.1 475.1h.5M210.5 459.9h.5M202.4 460.1h.5M205.3 487.9h.5M199.3 488.0h.5M203.8 477.6h.5M198.9 480.7h.5M204.2 490.1h.5M206.8 472.2h.5M205.5 468.2h.5M202.4 452.3h.5M205.8 459.6h.5M209.0 482.1h.5M202.2 465.4h.5M199.8 462.0h.5M194.2 481.1h.5M209.5 467.6h.5M206.7 472.8h.5M205.6 470.6h.5M207.6 467.6h.5M197.6 475.8h.5M209.9 485.7h.5M201.9 477.7h.5M207.4 476.3h.5M209.2 472.2h.5M204.8 486.1h.5M200.6 482.1h.5M205.9 458.3h.5M203.3 478.9h.5M193.2 476.0h.5M203.5 482.2h.5M208.9 491.3h.5M209.2 460.0h.5M200.4 480.5h.5M209.6 487.2h.5M206.5 466.0h.5M206.4 469.7h.5M206.2 490.6h.5M202.7 469.8h.5M193.7 464.0h.5M201.6 455.6h.5M206.1 476.8h.5M212.0 484.6h.5M197.4 459.6h.5M200.0 478.8h.5M198.2 475.4h.5M202.9 492.9h.5M201.5 479.6h.5M208.5 467.4h.5M203.6 480.1h.5M212.1 462.4h.5M203.8 467.8h.5M198.2 470.4h.5M208.3 461.2h.5M207.3 466.2h.5M193.7 473.6h.5M198.0 471.5h.5M202.0 457.5h.5M196.2 488.9h.5M208.6 462.4h.5M207.1 473.4h.5M209.5 468.5h.5M202.8 483.2h.5M205.1 466.0h.5M207.6 475.6h.5M206.2 466.8h.5M200.1 489.0h.5M205.6 480.2h.5M213.9 467.8h.5M192.5 464.9h.5M205.5 476.9h.5M196.9 477.5h.5M210.0 466.4h.5M204.8 484.5h.5M199.8 475.8h.5M207.3 452.9h.5M208.5 476.4h.5M204.1 469.6h.5M208.7 469.2h.5M208.5 450.8h.5M200.5 465.8h.5M198.8 458.8h.5M204.9 471.8h.5M201.2 481.1h.5M209.7 460.2h.5M199.1 484.8h.5M200.0 489.3h.5M202.8 471.6h.5M197.6 458.6h.5M206.1 460.0h.5M190.1 449.7h.5M203.8 474.9h.5M204.1 479.1h.5M200.7 471.1h.5M207.2 466.7h.5M194.7 481.3h.5M201.0 469.4h.5M212.2 456.4h.5M206.1 472.2h.5M199.7 494.6h.5M211.1 471.5h.5M198.3 480.3h.5M203.4 476.2h.5M213.5 462.6h.5M202.3 468.5h.5M200.9 457.5h.5M201.6 480.5h.5M201.6 495.3h.5M199.3 473.4h.5M200.6 469.0h.5M201.2 475.5h.5M212.6 461.7h.5M206.3 467.6h.5M201.9 486.3h.5M200.4 474.5h.5M213.9 471.1h.5M208.4 474.2h.5M197.3 486.2h.5M202.2 470.5h.5M202.7 469.9h.5M206.2 463.5h.5M202.3 465.3h.5M205.8 480.4h.5M199.9 469.8h.5M196.9 492.1h.5M207.1 454.2h.5M207.5 477.5h.5M204.1 453.9h.5M198.7 489.9h.5M196.9 471.6h.5M202.8 488.3h.5M201.7 491.6h.5M204.1 475.1h.5M205.4 475.3h.5M205.7 484.4h.5M207.4 462.8h.5M200.2 486.9h.5M202.9 482.7h.5M201.7 457.3h.5M198.2 461.6h.5M191.4 460.9h.5M202.6 485.9h.5M206.3 493.8h.5M207.8 470.4h.5M195.9 467.2h.5M193.8 470.5h.5M204.6 494.7h.5M203.7 476.1h.5M199.6 485.8h.5M204.2 466.2h.5M199.7 489.4h.5M201.4 466.8h.5M203.6 493.0h.5M213.6 460.0h.5M202.3 462.0h.5M202.0 492.0h.5M197.7 467.3h.5M204.9 459.5h.5M208.8 458.8h.5M214.7 451.5h.5M191.2 458.6h.5M198.3 469.0h.5M198.0 458.4h.5M203.0 469.4h.5M200.7 484.2h.5M205.0 462.0h.5M206.1 478.2h.5M202.4 488.1h.5M200.5 493.0h.5M204.7 478.2h.5M204.6 476.0h.5M201.3 477.2h.5M198.1 484.9h.5M196.2 484.8h.5M209.5 480.6h.5M204.7 489.9h.5M194.8 470.0h.5M203.9 474.9h.5M202.7 482.9h.5M199.9 492.2h.5M206.2 479.9h.5M194.9 464.4h.5M201.7 471.6h.5M207.3 468.1h.5M199.5 460.0h.5M204.1 475.3h.5M206.2 454.6h.5M206.5 477.0h.5M209.5 459.1h.5M197.2 488.5h.5M201.9 468.2h.5M195.3 474.7h.5M203.6 479.3h.5M200.1 468.4h.5M203.7 471.8h.5M199.3 490.8h.5M193.4 470.8h.5M211.2 475.2h.5M204.6 458.5h.5M206.8 485.1h.5M197.9 461.9h.5M201.7 465.0h.5M202.0 472.4h.5M207.6 461.9h.5M203.0 453.8h.5M203.0 464.3h.5M200.6 473.0h.5M202.2 479.8h.5M199.6 478.8h.5M201.7 479.0h.5M202.3 490.5h.5M200.9 478.5h.5M201.2 481.1h.5M203.2 491.7h.5M197.3 490.0h.5M210.3 470.4h.5M201.4 480.2h.5M207.4 470.4h.5M204.8 449.6h.5M199.8 464.4h.5M196.4 461.2h.5M201.6 483.2h.5M203.3 463.4h.5M200.5 484.6h.5M203.7 453.5h.5M190.3 466.8h.5M205.0 477.7h.5M202.8 488.0h.5M204.9 451.3h.5M206.2 465.8h.5M208.1 480.8h.5M199.9 478.5h.5M194.1 478.1h.5M203.2 468.4h.5M207.2 457.8h.5M197.9 469.3h.5M197.9 448.6h.5M204.7 449.6h.5M195.5 478.8h.5M203.5 468.3h.5M201.5 474.7h.5M202.5 470.3h.5M202.3 467.9h.5M197.2 470.6h.5M205.6 479.1h.5M205.4 480.0h.5M200.6 472.0h.5M201.3 465.6h.5M204.5 491.6h.5M203.5 469.1h.5M202.8 487.0h.5M203.2 469.3h.5M213.2 467.5h.5M205.4 463.8h.5M207.2 480.6h.5M201.4 488.6h.5M201.5 476.8h.5M208.1 472.7h.5M209.6 457.2h.5M204.5 465.3h.5M199.5 495.6h.5M201.1 455.1h.5M211.4 479.7h.5M207.9 454.7h.5M203.6 460.2h.5M201.5 473.4h.5M207.7 471.3h.5M201.6 469.1h.5M204.8 459.4h.5M203.8 485.6h.5M196.1 466.8h.5M202.3 453.8h.5M209.9 460.5h.5M199.2 463.5h.5M207.3 484.1h.5M200.3 477.7h.5M204.9 460.6h.5M208.0 470.7h.5M207.5 471.6h.5M204.9 488.7h.5M202.0 491.2h.5M198.0 476.4h.5M195.5 468.9h.5M201.6 468.9h.5M202.3 476.9h.5M200.0 461.8h.5M200.1 486.1h.5M203.0 470.9h.5M200.2 495.5h.5M205.2 453.8h.5M197.5 472.2h.5M203.1 469.0h.5M207.0 469.8h.5M199.3 468.7h.5M202.1 476.7h.5M203.2 472.8h.5M192.4 460.7h.5M201.1 484.6h.5M202.8 481.2h.5M209.3 475.2h.5M206.8 479.0h.5M206.2 475.7h.5M197.7 458.7h.5M199.9 486.1h.5M196.1 476.8h.5M205.9 470.3h.5M201.8 477.9h.5M204.7 471.0h.5M203.7 467.1h.5M200.3 478.7h.5M198.1 495.5h.5M204.3 455.3h.5M202.0 482.8h.5M203.8 472.4h.5M206.6 464.8h.5M201.8 432.5h.5M210.8 451.7h.5M200.2 442.0h.5M205.7 445.1h.5M197.7 442.4h.5M204.8 434.8h.5M204.2 443.5h.5M201.0 446.9h.5M207.7 440.1h.5M203.9 455.6h.5M206.8 432.5h.5M205.5 436.2h.5M203.9 450.5h.5M204.2 447.5h.5M210.0 452.4h.5M214.6 442.6h.5M204.5 452.2h.5M208.8 449.7h.5M205.9 454.9h.5M201.3 441.3h.5" stroke="#000" stroke-width="0.8" stroke-opacity="0.45" fill="none"/>
<path d="M201.8 483.8h.5M201.6 475.6h.5M205.6 469.6h.5M201.3 471.6h.5M202.8 456.6h.5M198.0 464.0h.5M201.6 485.5h.5M196.0 489.0h.5M191.8 468.4h.5M199.5 485.5h.5M208.1 478.8h.5M202.8 486.7h.5M193.6 470.5h.5M210.7 463.5h.5M205.7 476.5h.5M203.4 469.6h.5M196.6 467.3h.5M202.1 464.0h.5M205.6 454.8h.5M204.8 488.1h.5M206.4 466.2h.5M205.3 475.5h.5M201.6 469.9h.5M201.2 467.6h.5M206.4 475.5h.5M212.4 465.9h.5M198.5 471.4h.5M208.7 484.2h.5M195.5 472.4h.5M203.8 481.4h.5M201.0 465.9h.5M203.5 481.3h.5M206.0 484.0h.5M203.7 477.5h.5M202.4 484.2h.5M206.8 464.4h.5M205.6 477.0h.5M213.6 465.7h.5M205.9 467.0h.5M201.1 473.6h.5M198.8 473.4h.5M208.0 469.9h.5M198.1 475.6h.5M192.4 466.3h.5M201.4 494.8h.5M203.2 480.5h.5M205.2 465.8h.5M206.7 464.3h.5M200.8 475.4h.5M194.7 471.7h.5M208.5 464.0h.5M194.0 456.9h.5M202.4 473.8h.5M200.8 477.7h.5M199.5 477.9h.5M203.9 460.8h.5M203.3 450.9h.5M200.0 467.0h.5M199.9 486.6h.5M202.7 464.8h.5M201.7 450.9h.5M210.7 471.2h.5M198.5 474.7h.5M199.4 466.2h.5M214.0 448.7h.5M203.0 484.1h.5M200.0 487.9h.5M206.7 467.5h.5M212.9 460.5h.5M203.4 483.7h.5M214.8 471.1h.5M198.1 489.8h.5M203.7 477.7h.5M200.8 474.5h.5M198.8 477.7h.5M201.7 480.1h.5M202.5 491.9h.5M203.8 463.5h.5M198.8 471.5h.5M195.4 477.9h.5M196.9 478.0h.5M198.3 461.7h.5M198.0 488.2h.5M194.1 456.7h.5M203.8 483.3h.5M195.7 469.5h.5M199.0 461.2h.5M206.0 473.0h.5M212.5 467.3h.5M212.7 469.7h.5M202.5 465.9h.5M203.0 483.9h.5M201.9 483.6h.5M205.1 474.5h.5M207.3 474.9h.5M207.0 460.8h.5M203.2 490.0h.5M197.9 482.5h.5M199.9 468.8h.5M212.5 475.6h.5M199.3 479.7h.5M196.1 483.2h.5M201.8 468.2h.5M200.2 460.1h.5M202.5 487.4h.5M203.1 488.0h.5M197.0 482.5h.5M200.9 481.1h.5M206.8 469.1h.5M210.1 465.8h.5M196.8 462.8h.5M213.6 474.9h.5M202.5 475.7h.5M212.8 465.9h.5M198.1 457.6h.5M206.1 448.3h.5M205.6 483.6h.5M202.6 460.4h.5M198.5 477.6h.5M208.7 472.4h.5M208.8 460.1h.5M196.0 481.1h.5M200.2 467.0h.5M204.2 482.3h.5M201.2 484.8h.5M213.9 463.8h.5M202.2 465.5h.5M207.7 474.0h.5M212.5 448.4h.5M202.5 475.4h.5M198.6 458.7h.5M202.7 486.4h.5M211.8 474.6h.5M195.8 482.3h.5M199.4 461.5h.5M193.4 479.4h.5M205.4 451.9h.5M202.1 486.2h.5M214.8 448.2h.5M203.8 483.9h.5M201.8 473.9h.5M191.5 455.7h.5M209.3 480.0h.5M203.1 465.2h.5M200.3 482.3h.5M204.2 486.9h.5M199.2 480.0h.5M205.3 467.9h.5M205.0 458.9h.5M206.0 463.9h.5M192.7 475.2h.5M209.8 464.3h.5M197.5 474.4h.5M198.3 485.2h.5M205.2 484.3h.5M201.5 461.3h.5M212.8 466.6h.5M200.7 473.4h.5M213.4 457.7h.5M199.7 467.0h.5M209.5 467.7h.5M197.9 470.1h.5M209.5 469.0h.5M200.9 465.7h.5M201.4 489.7h.5M206.9 458.6h.5M193.4 456.3h.5M202.2 481.8h.5M201.3 474.7h.5M206.7 454.7h.5M197.1 468.5h.5M206.4 477.4h.5M208.0 475.9h.5M209.4 464.1h.5M203.8 489.7h.5M205.5 472.8h.5M201.8 487.1h.5M203.4 458.3h.5M208.2 481.0h.5M204.3 458.4h.5M198.9 475.4h.5M206.7 459.8h.5M210.1 461.4h.5M208.7 474.1h.5M202.1 490.0h.5M203.3 467.9h.5M207.0 491.3h.5M201.1 482.9h.5M199.5 465.3h.5M201.7 468.0h.5M199.7 483.2h.5M198.6 472.3h.5M206.7 471.2h.5M199.3 462.7h.5M210.0 482.6h.5M197.2 480.2h.5M206.5 484.5h.5M195.9 490.6h.5M202.3 458.4h.5M195.9 477.4h.5M200.2 490.0h.5M199.7 478.0h.5M207.3 454.2h.5M207.2 476.8h.5M208.2 477.7h.5M205.1 495.5h.5M201.4 477.8h.5M201.3 456.8h.5M192.2 459.2h.5M208.1 479.3h.5M201.8 492.1h.5M202.1 471.8h.5M205.8 465.6h.5M197.9 469.0h.5M200.7 473.1h.5M202.7 451.2h.5M196.4 479.5h.5M208.4 481.9h.5M211.1 461.2h.5M204.2 496.1h.5M206.4 455.1h.5M199.7 477.9h.5M205.9 471.2h.5M200.5 481.7h.5M201.7 465.1h.5M200.6 482.7h.5M200.0 486.1h.5M209.4 466.9h.5M201.5 473.0h.5M200.6 495.3h.5M203.4 488.0h.5M196.2 467.3h.5M203.1 489.1h.5M204.3 468.8h.5M202.8 477.9h.5M203.6 456.7h.5M202.0 476.5h.5M211.2 463.9h.5M193.3 475.1h.5M208.2 450.5h.5M198.1 466.3h.5M202.5 485.9h.5M202.0 452.6h.5M201.9 484.2h.5M200.8 486.7h.5M195.2 470.9h.5M201.4 489.2h.5M202.1 461.6h.5M205.4 474.3h.5M203.1 489.5h.5M208.9 489.7h.5M204.7 478.1h.5M201.3 471.7h.5M198.9 463.0h.5M202.1 479.1h.5M201.0 469.9h.5M194.9 463.9h.5M206.5 469.4h.5M198.2 469.4h.5M203.5 470.1h.5M202.4 486.8h.5M206.1 478.9h.5M210.3 478.5h.5M198.0 471.6h.5M204.7 480.2h.5M203.9 460.3h.5M206.5 480.6h.5M204.3 476.1h.5M210.4 469.3h.5M204.5 480.2h.5M211.8 467.5h.5M205.1 468.8h.5M201.3 476.4h.5M197.4 475.7h.5M204.4 465.7h.5M204.3 467.7h.5M196.7 491.8h.5M198.4 489.6h.5M199.7 489.8h.5M204.7 471.8h.5M200.5 494.1h.5M199.7 493.6h.5M203.7 494.4h.5M200.6 476.0h.5M204.5 458.8h.5M208.9 484.5h.5M202.4 477.9h.5M202.1 487.5h.5M204.4 486.5h.5M206.3 477.7h.5M208.0 475.8h.5M192.4 471.4h.5M207.7 476.0h.5M197.7 491.9h.5M202.1 448.9h.5M205.4 461.3h.5M201.2 477.2h.5M204.2 465.1h.5M215.0 460.9h.5M200.5 469.8h.5M200.9 481.8h.5M204.4 464.3h.5M199.7 468.9h.5M196.9 481.6h.5M199.2 494.5h.5M205.0 494.4h.5M203.6 483.7h.5M199.3 469.9h.5M197.7 475.4h.5M206.5 473.5h.5M210.8 460.8h.5M195.5 479.8h.5M201.0 470.4h.5M201.9 468.7h.5M210.0 456.2h.5M198.1 468.6h.5M201.3 481.6h.5M198.5 471.3h.5M193.2 464.6h.5M200.6 479.5h.5M208.0 479.6h.5M213.0 462.0h.5M202.2 480.8h.5M207.1 471.5h.5M199.6 483.1h.5M194.2 456.5h.5M197.5 481.3h.5M204.1 485.8h.5M201.0 467.4h.5M207.4 475.5h.5M197.0 473.2h.5M202.5 473.2h.5M207.1 468.2h.5M204.0 484.1h.5M205.1 461.5h.5M207.9 456.1h.5M203.5 471.0h.5M197.7 471.8h.5M204.0 490.4h.5M206.0 484.3h.5M213.8 458.4h.5M202.5 453.5h.5M204.5 472.6h.5M200.0 476.0h.5M201.1 488.6h.5M201.2 488.3h.5M201.0 480.8h.5M201.9 473.8h.5M213.1 451.7h.5M207.8 474.3h.5M194.1 466.5h.5M210.3 478.8h.5M200.1 491.6h.5M197.5 476.1h.5M204.7 476.9h.5M204.3 465.6h.5M198.5 478.8h.5M209.6 457.4h.5M204.7 463.9h.5M190.3 462.3h.5M203.5 473.1h.5M199.4 487.0h.5M203.5 477.6h.5M204.7 477.3h.5M200.4 478.3h.5M201.0 489.8h.5M204.6 482.1h.5M198.5 463.1h.5M200.4 476.7h.5M210.7 467.3h.5M200.9 475.3h.5M201.9 491.9h.5M206.9 463.0h.5M195.6 477.2h.5M202.8 479.2h.5M204.8 470.0h.5M203.0 485.2h.5M200.9 463.8h.5M206.6 481.5h.5M200.4 468.8h.5M202.2 481.4h.5M197.3 475.3h.5M201.8 486.1h.5M200.8 461.6h.5M203.9 491.0h.5M204.0 476.3h.5M194.3 471.4h.5M201.7 470.4h.5M206.2 452.3h.5M191.3 448.7h.5M202.7 452.3h.5M203.2 461.2h.5M206.5 470.7h.5M203.6 465.7h.5M195.9 468.7h.5M204.4 461.0h.5M196.5 477.9h.5M201.8 482.7h.5M199.8 462.8h.5M202.3 480.3h.5M199.9 437.4h.5M203.0 450.8h.5M208.9 454.6h.5M205.2 451.6h.5M209.3 450.5h.5M201.2 447.9h.5M205.9 451.1h.5M201.7 450.1h.5M205.6 440.9h.5M199.6 443.1h.5M202.3 451.7h.5M203.1 446.1h.5M210.0 436.2h.5M211.9 436.3h.5M207.2 443.1h.5M206.9 441.8h.5M204.8 441.4h.5M205.9 433.9h.5M209.3 443.3h.5M200.2 445.6h.5" stroke="#000" stroke-width="0.8" stroke-opacity="0.45" fill="none"/>
<path d="M201.0 489.6h.5M210.5 472.4h.5M206.2 478.4h.5M193.8 475.6h.5M200.6 492.1h.5M209.3 468.9h.5M205.3 465.4h.5M196.2 480.1h.5M202.5 472.4h.5M197.5 476.7h.5M209.2 461.9h.5M197.3 489.4h.5M202.8 484.8h.5M201.1 472.6h.5M206.1 477.7h.5M199.8 473.4h.5M206.1 480.9h.5M204.7 486.9h.5M206.7 479.3h.5M204.0 490.0h.5M199.4 486.7h.5M199.4 481.6h.5M208.0 460.9h.5M199.0 461.9h.5M197.7 476.6h.5M203.0 479.7h.5M203.3 491.9h.5M205.6 450.9h.5M211.2 468.0h.5M198.2 485.7h.5M207.0 488.5h.5M206.3 466.5h.5M205.0 466.1h.5M200.7 473.8h.5M192.8 477.7h.5M201.2 467.4h.5M204.1 471.1h.5M210.0 464.5h.5M201.7 478.4h.5M202.1 483.5h.5M203.3 490.2h.5M206.0 457.7h.5M197.6 477.2h.5M199.6 486.0h.5M198.6 481.6h.5M201.7 451.2h.5M213.9 462.7h.5M205.2 486.3h.5M204.3 482.5h.5M206.6 491.1h.5M199.7 493.6h.5M203.8 466.1h.5M205.4 475.7h.5M200.6 484.1h.5M203.9 470.5h.5M205.2 476.5h.5M195.8 452.7h.5M194.9 473.6h.5M198.9 486.8h.5M204.2 480.4h.5M197.4 482.1h.5M204.9 478.5h.5M207.1 477.8h.5M204.6 458.0h.5M206.1 455.4h.5M202.6 484.6h.5M202.2 465.1h.5M204.5 475.2h.5M204.6 479.0h.5M195.4 472.7h.5M204.6 452.6h.5M207.1 463.4h.5M201.6 480.2h.5M196.9 478.0h.5M198.2 472.3h.5M207.9 470.5h.5M204.7 471.5h.5M210.6 465.7h.5M204.0 487.6h.5M202.6 479.2h.5M201.5 476.5h.5M200.1 465.0h.5M192.8 456.6h.5M207.7 476.7h.5M213.1 468.5h.5M207.9 475.3h.5M197.1 471.1h.5M214.7 460.7h.5M212.1 471.0h.5M201.8 487.2h.5M201.3 467.2h.5M205.8 484.3h.5M199.2 482.0h.5M211.5 462.4h.5M198.4 470.5h.5M195.5 492.5h.5M204.9 479.0h.5M204.5 469.4h.5M201.1 483.5h.5M209.1 478.3h.5M197.6 458.8h.5M200.8 473.8h.5M196.7 492.7h.5M204.9 459.2h.5M204.6 470.5h.5M197.5 484.6h.5M202.8 475.5h.5M199.9 477.9h.5M201.6 464.3h.5M203.1 457.3h.5M197.9 485.7h.5M204.3 493.8h.5M196.8 491.2h.5M204.1 459.6h.5M205.9 484.5h.5M209.4 468.7h.5M204.2 462.4h.5M201.0 465.0h.5M200.1 491.9h.5M205.3 469.0h.5M206.1 487.7h.5M201.8 482.1h.5M205.7 477.2h.5M203.0 489.1h.5M201.8 470.6h.5M201.8 480.3h.5M194.0 475.7h.5M201.9 467.8h.5M205.9 460.6h.5M203.5 468.6h.5M209.1 476.2h.5M202.6 488.4h.5M203.8 459.9h.5M202.8 471.7h.5M205.9 466.8h.5M202.2 495.6h.5M205.9 491.5h.5M205.5 477.2h.5M199.8 455.0h.5M204.4 481.3h.5M204.1 472.8h.5M205.0 489.7h.5M204.2 466.9h.5M203.0 485.3h.5M195.4 468.9h.5M200.1 484.7h.5M205.9 480.6h.5M202.1 495.6h.5M207.9 470.6h.5M203.5 473.2h.5M204.6 471.3h.5M203.8 466.7h.5M200.6 486.9h.5M201.8 468.3h.5M200.8 477.3h.5M206.9 467.3h.5M204.3 462.1h.5M202.0 459.6h.5M197.6 471.1h.5M200.4 473.1h.5M204.9 480.8h.5M190.8 478.4h.5M202.7 482.8h.5M204.6 483.4h.5M207.0 493.4h.5M204.6 483.0h.5M193.6 457.4h.5M203.1 465.7h.5M203.2 467.5h.5M213.0 457.2h.5M204.7 473.3h.5M204.1 480.7h.5M200.5 455.9h.5M203.9 459.4h.5M201.6 484.7h.5M200.8 489.7h.5M209.8 460.5h.5M190.4 452.8h.5M211.2 473.6h.5M201.8 470.1h.5M204.4 475.4h.5M205.5 465.7h.5M205.8 468.5h.5M205.0 482.3h.5M206.7 455.8h.5M194.1 476.9h.5M195.2 473.9h.5M202.6 459.3h.5M196.8 473.4h.5M203.4 489.3h.5M202.5 475.0h.5M198.5 478.4h.5M203.2 473.0h.5M199.9 487.9h.5M206.4 462.6h.5M203.0 484.2h.5M201.9 456.1h.5M202.1 474.2h.5M198.8 461.3h.5M197.2 482.8h.5M206.0 488.8h.5M202.7 459.6h.5M206.8 468.6h.5M202.2 490.3h.5M210.9 475.7h.5M198.7 478.1h.5M198.9 456.1h.5M200.0 453.5h.5M201.4 473.5h.5M208.4 450.0h.5M199.5 477.5h.5M206.0 478.8h.5M203.2 486.7h.5M203.1 474.7h.5M201.3 481.4h.5M209.7 456.5h.5M195.3 470.9h.5M200.8 484.0h.5M201.3 485.1h.5M205.7 476.6h.5M196.1 480.9h.5M203.7 496.4h.5M202.0 476.2h.5M201.9 478.5h.5M208.5 471.0h.5M203.6 492.3h.5M200.7 465.6h.5M208.1 472.4h.5M203.6 474.1h.5M196.9 491.2h.5M208.4 478.4h.5M193.3 461.6h.5M193.7 472.6h.5M207.9 475.7h.5M201.4 482.9h.5M200.4 489.1h.5M195.3 478.4h.5M208.7 480.1h.5M201.2 483.8h.5M201.7 471.8h.5M208.0 473.8h.5M212.7 474.2h.5M207.0 481.8h.5M205.9 463.6h.5M204.6 482.1h.5M205.0 472.4h.5M206.9 477.4h.5M196.7 467.4h.5M194.1 453.1h.5M207.2 457.1h.5M206.2 473.6h.5M207.9 465.2h.5M208.1 476.2h.5M203.0 486.6h.5M199.9 461.7h.5M200.5 491.4h.5M198.9 467.9h.5M205.3 473.1h.5M201.6 491.1h.5M201.5 479.5h.5M201.3 470.3h.5M200.6 474.4h.5M205.4 464.0h.5M207.0 467.2h.5M203.0 486.8h.5M191.1 453.0h.5M202.4 470.7h.5M199.1 468.8h.5M209.6 471.5h.5M212.6 472.5h.5M203.8 484.8h.5M199.6 485.4h.5M199.7 461.6h.5M196.9 474.3h.5M198.8 469.8h.5M199.3 471.6h.5M204.5 473.4h.5M203.5 473.5h.5M201.7 468.6h.5M204.8 476.0h.5M203.0 482.3h.5M209.0 464.9h.5M205.9 477.3h.5M196.4 477.3h.5M203.0 492.7h.5M203.7 461.3h.5M214.3 466.1h.5M207.4 471.8h.5M202.9 472.1h.5M201.0 475.9h.5M200.5 474.3h.5M196.3 455.3h.5M209.8 461.8h.5M202.3 460.8h.5M214.5 473.2h.5M204.6 460.4h.5M211.0 467.4h.5M205.7 480.9h.5M204.8 487.9h.5M198.2 488.3h.5M201.6 479.5h.5M206.7 458.6h.5M207.5 478.9h.5M206.8 463.7h.5M190.7 463.9h.5M215.0 459.2h.5M193.9 465.1h.5M198.4 485.6h.5M199.2 474.0h.5M198.3 477.5h.5M204.0 492.0h.5M209.7 463.8h.5M198.3 467.6h.5M203.3 494.4h.5M201.7 477.2h.5M199.8 491.8h.5M211.2 466.1h.5M200.0 459.6h.5M207.5 467.7h.5M199.4 477.7h.5M209.4 465.9h.5M207.1 467.0h.5M207.1 483.7h.5M206.3 464.2h.5M199.4 478.1h.5M202.2 477.4h.5M201.1 481.1h.5M199.7 484.7h.5M206.6 468.4h.5M206.9 475.4h.5M204.3 478.7h.5M196.0 460.4h.5M205.8 459.9h.5M209.7 467.0h.5M200.4 468.8h.5M199.1 484.0h.5M200.4 481.8h.5M202.6 487.7h.5M202.3 479.3h.5M205.9 476.7h.5M200.6 481.0h.5M204.8 456.9h.5M201.0 470.4h.5M200.8 476.5h.5M199.8 456.9h.5M201.9 482.9h.5M204.3 472.4h.5M196.1 466.1h.5M201.1 484.3h.5M201.1 465.1h.5M199.4 454.4h.5M200.3 472.6h.5M200.7 483.4h.5M198.9 463.7h.5M205.4 468.3h.5M207.4 475.1h.5M200.8 477.1h.5M198.3 469.1h.5M212.0 451.7h.5M202.2 466.6h.5M214.9 455.5h.5M210.2 474.2h.5M201.4 482.7h.5M203.6 459.8h.5M205.4 466.8h.5M198.8 488.6h.5M199.2 462.8h.5M207.4 483.6h.5M207.0 470.8h.5M203.8 466.8h.5M202.7 480.6h.5M206.2 465.0h.5M200.3 487.3h.5M205.4 491.2h.5M198.7 477.7h.5M201.7 464.8h.5M196.5 478.9h.5M210.8 462.5h.5M206.4 480.0h.5M205.0 467.0h.5M198.8 457.7h.5M197.1 458.7h.5M205.8 468.9h.5M201.9 459.9h.5M203.0 485.5h.5M208.6 462.2h.5M207.1 480.0h.5M215.0 453.6h.5M198.9 487.9h.5M203.0 479.8h.5M198.7 458.3h.5M206.1 464.2h.5M202.7 472.3h.5M200.4 468.2h.5M196.7 462.8h.5M196.6 491.0h.5M197.4 452.2h.5M205.5 473.4h.5M201.4 479.4h.5M207.9 464.7h.5M208.3 435.4h.5M202.5 453.5h.5M203.7 441.1h.5M198.9 448.0h.5M204.1 432.0h.5M206.0 442.5h.5M203.8 432.9h.5M204.4 442.1h.5M199.7 444.6h.5M202.6 431.7h.5M203.3 431.8h.5M209.0 445.3h.5M205.4 447.8h.5M205.9 451.9h.5M207.4 442.1h.5M203.5 448.4h.5M209.6 438.7h.5M205.2 438.5h.5M212.2 452.8h.5M212.3 442.6h.5" stroke="#000" stroke-width="0.8" stroke-opacity="0.45" fill="none"/>
<path d="M196.8 465 Q197.2 455.5 203.4 455.5 Q209.7 456 209.2 463 Q206.9 476 205.2 497 L198.8 497 Q197.4 478 196.8 465Z" fill="#000" filter="url(#bl)"/>
</g>
<text x="89.0" y="323.2" stroke="#000" stroke-width="0.45" font-style="italic" font-size="9.3" textLength="25" lengthAdjust="spacingAndGlyphs" >Parp1</text>
<text x="114.6" y="320.3" stroke="#000" stroke-width="0.2" font-weight="bold" font-style="italic" font-size="6.5" textLength="9" lengthAdjust="spacingAndGlyphs" >+/+</text>
<text x="176.9" y="323.7" stroke="#000" stroke-width="0.45" font-style="italic" font-size="9.3" textLength="25" lengthAdjust="spacingAndGlyphs" >Parp1</text>
<text x="202.5" y="320.8" stroke="#000" stroke-width="0.2" font-weight="bold" font-style="italic" font-size="6.5" textLength="8.3" lengthAdjust="spacingAndGlyphs" >–/–</text>
<text x="88.6" y="327.6" stroke="#444" stroke-width="0.2" font-weight="bold" fill="#444" font-size="2.6" textLength="35" lengthAdjust="spacingAndGlyphs" >SSSVE CMHRL TGFBRI1.003</text>
<text x="178" y="328.0" stroke="#444" stroke-width="0.2" font-weight="bold" fill="#444" font-size="2.6" textLength="32" lengthAdjust="spacingAndGlyphs" >SSSVE CMHRL TGFBRI1.004</text>
<text x="98" y="408.0" stroke="#444" stroke-width="0.2" font-weight="bold" fill="#444" font-size="2.6" textLength="20" lengthAdjust="spacingAndGlyphs" >CD4 FLUOR.GLAAA</text>
<text x="186" y="408.0" stroke="#444" stroke-width="0.2" font-weight="bold" fill="#444" font-size="2.6" textLength="20" lengthAdjust="spacingAndGlyphs" >CD4 FLUOR.GLAAA</text>
<text x="86" y="414.9" stroke="#444" stroke-width="0.2" font-weight="bold" fill="#444" font-size="2.6" textLength="36.5" lengthAdjust="spacingAndGlyphs" >WT BP TGFRII.003</text>
<text x="180" y="415.6" stroke="#444" stroke-width="0.2" font-weight="bold" fill="#444" font-size="2.6" textLength="26" lengthAdjust="spacingAndGlyphs" >KOB BP TGFRII.004</text>
<text x="102.6" y="502.6" stroke="#333" stroke-width="0.2" font-weight="bold" fill="#333" font-size="2.8" textLength="12" lengthAdjust="spacingAndGlyphs" >CD4 FITC</text>
<text x="190.5" y="502.6" stroke="#333" stroke-width="0.2" font-weight="bold" fill="#333" font-size="2.8" textLength="9.5" lengthAdjust="spacingAndGlyphs" >CD4 FITC</text>
<text x="113.9" y="360.2" stroke="#000" stroke-width="0.12" font-weight="bold" font-size="11" textLength="6.6" lengthAdjust="spacingAndGlyphs" >2</text>
<text x="195.8" y="361.0" stroke="#000" stroke-width="0.45" font-size="11" textLength="6.2" lengthAdjust="spacingAndGlyphs" >8</text>
<text x="120.2" y="449.8" stroke="#000" stroke-width="0.45" font-size="10" textLength="5.4" lengthAdjust="spacingAndGlyphs" >5</text>
<text x="217.7" y="449.8" stroke="#000" stroke-width="0.45" font-size="10" textLength="11.6" lengthAdjust="spacingAndGlyphs" >33</text>
<text transform="translate(58.5 332.8) rotate(-90)" font-size="7.8" fill="#111" stroke="#111" stroke-width="0.35" text-anchor="middle" font-weight="bold" textLength="10.3" lengthAdjust="spacingAndGlyphs">10<tspan font-size="5.85" dy="-2.34">4</tspan></text>
<text transform="translate(58.5 347.2) rotate(-90)" font-size="7.8" fill="#111" stroke="#111" stroke-width="0.35" text-anchor="middle" font-weight="bold" textLength="10.3" lengthAdjust="spacingAndGlyphs">10<tspan font-size="5.85" dy="-2.34">3</tspan></text>
<text transform="translate(58.5 365.3) rotate(-90)" font-size="7.8" fill="#111" stroke="#111" stroke-width="0.35" text-anchor="middle" font-weight="bold" textLength="10.3" lengthAdjust="spacingAndGlyphs">10<tspan font-size="5.85" dy="-2.34">2</tspan></text>
<text transform="translate(58.5 382.8) rotate(-90)" font-size="7.8" fill="#111" stroke="#111" stroke-width="0.35" text-anchor="middle" font-weight="bold" textLength="10.3" lengthAdjust="spacingAndGlyphs">10<tspan font-size="5.85" dy="-2.34">1</tspan></text>
<text transform="translate(58.5 399.1) rotate(-90)" font-size="7.8" fill="#111" stroke="#111" stroke-width="0.35" text-anchor="middle" font-weight="bold" textLength="10.3" lengthAdjust="spacingAndGlyphs">10<tspan font-size="5.85" dy="-2.34">0</tspan></text>
<text transform="translate(56.0 428.6) rotate(-90)" font-size="8.0" fill="#111" stroke="#111" stroke-width="0.35" text-anchor="middle" font-weight="bold" textLength="10" lengthAdjust="spacingAndGlyphs">10<tspan font-size="6.0" dy="-2.4">4</tspan></text>
<text transform="translate(56.0 443.2) rotate(-90)" font-size="8.0" fill="#111" stroke="#111" stroke-width="0.35" text-anchor="middle" font-weight="bold" textLength="10" lengthAdjust="spacingAndGlyphs">10<tspan font-size="6.0" dy="-2.4">3</tspan></text>
<text transform="translate(56.0 463.4) rotate(-90)" font-size="8.0" fill="#111" stroke="#111" stroke-width="0.35" text-anchor="middle" font-weight="bold" textLength="10" lengthAdjust="spacingAndGlyphs">10<tspan font-size="6.0" dy="-2.4">2</tspan></text>
<text transform="translate(56.0 480) rotate(-90)" font-size="8.0" fill="#111" stroke="#111" stroke-width="0.35" text-anchor="middle" font-weight="bold" textLength="10" lengthAdjust="spacingAndGlyphs">10<tspan font-size="6.0" dy="-2.4">1</tspan></text>
<text transform="translate(56.0 495.8) rotate(-90)" font-size="8.0" fill="#111" stroke="#111" stroke-width="0.35" text-anchor="middle" font-weight="bold" textLength="10" lengthAdjust="spacingAndGlyphs">10<tspan font-size="6.0" dy="-2.4">0</tspan></text>
<line x1="62.5" y1="341.9" x2="64.2" y2="341.9" stroke="#777" stroke-width="0.6"/>
<line x1="62.5" y1="360" x2="64.2" y2="360" stroke="#777" stroke-width="0.6"/>
<line x1="62.5" y1="377" x2="64.2" y2="377" stroke="#777" stroke-width="0.6"/>
<line x1="62.5" y1="394" x2="64.2" y2="394" stroke="#777" stroke-width="0.6"/>
<line x1="60.8" y1="436" x2="62.6" y2="436" stroke="#777" stroke-width="0.6"/>
<line x1="60.8" y1="457.8" x2="62.6" y2="457.8" stroke="#777" stroke-width="0.6"/>
<line x1="60.8" y1="477.5" x2="62.6" y2="477.5" stroke="#777" stroke-width="0.6"/>
<line x1="64.1" y1="403.8" x2="63.099999999999994" y2="405.6" stroke="#666" stroke-width="0.6"/>
<text x="62.3" y="406.6" stroke="#333" stroke-width="0.2" font-weight="bold" fill="#333" font-size="2.6" >10</text>
<line x1="85.2" y1="403.8" x2="84.2" y2="405.6" stroke="#666" stroke-width="0.6"/>
<text x="83.4" y="406.6" stroke="#333" stroke-width="0.2" font-weight="bold" fill="#333" font-size="2.6" >10</text>
<line x1="107.1" y1="403.8" x2="106.1" y2="405.6" stroke="#666" stroke-width="0.6"/>
<text x="105.3" y="406.6" stroke="#333" stroke-width="0.2" font-weight="bold" fill="#333" font-size="2.6" >10</text>
<line x1="128.1" y1="403.8" x2="127.1" y2="405.6" stroke="#666" stroke-width="0.6"/>
<text x="126.3" y="406.6" stroke="#333" stroke-width="0.2" font-weight="bold" fill="#333" font-size="2.6" >10</text>
<line x1="149.1" y1="403.8" x2="148.1" y2="405.6" stroke="#666" stroke-width="0.6"/>
<text x="147.29999999999998" y="406.6" stroke="#333" stroke-width="0.2" font-weight="bold" fill="#333" font-size="2.6" >10</text>
<line x1="155" y1="403.8" x2="154" y2="405.6" stroke="#666" stroke-width="0.6"/>
<text x="153.2" y="406.6" stroke="#333" stroke-width="0.2" font-weight="bold" fill="#333" font-size="2.6" >10</text>
<line x1="175.5" y1="403.8" x2="174.5" y2="405.6" stroke="#666" stroke-width="0.6"/>
<text x="173.7" y="406.6" stroke="#333" stroke-width="0.2" font-weight="bold" fill="#333" font-size="2.6" >10</text>
<line x1="196" y1="403.8" x2="195" y2="405.6" stroke="#666" stroke-width="0.6"/>
<text x="194.2" y="406.6" stroke="#333" stroke-width="0.2" font-weight="bold" fill="#333" font-size="2.6" >10</text>
<line x1="217" y1="403.8" x2="216" y2="405.6" stroke="#666" stroke-width="0.6"/>
<text x="215.2" y="406.6" stroke="#333" stroke-width="0.2" font-weight="bold" fill="#333" font-size="2.6" >10</text>
<line x1="237.5" y1="403.8" x2="236.5" y2="405.6" stroke="#666" stroke-width="0.6"/>
<text x="235.7" y="406.6" stroke="#333" stroke-width="0.2" font-weight="bold" fill="#333" font-size="2.6" >10</text>
<line x1="63.5" y1="498.8" x2="62.5" y2="500.6" stroke="#666" stroke-width="0.6"/>
<line x1="85" y1="498.8" x2="84" y2="500.6" stroke="#666" stroke-width="0.6"/>
<line x1="107.5" y1="498.8" x2="106.5" y2="500.6" stroke="#666" stroke-width="0.6"/>
<line x1="129.5" y1="498.8" x2="128.5" y2="500.6" stroke="#666" stroke-width="0.6"/>
<line x1="151" y1="498.8" x2="150" y2="500.6" stroke="#666" stroke-width="0.6"/>
<line x1="157.5" y1="496.5" x2="156.5" y2="498.3" stroke="#666" stroke-width="0.6"/>
<line x1="178" y1="496.5" x2="177" y2="498.3" stroke="#666" stroke-width="0.6"/>
<line x1="198" y1="496.5" x2="197" y2="498.3" stroke="#666" stroke-width="0.6"/>
<line x1="218" y1="496.5" x2="217" y2="498.3" stroke="#666" stroke-width="0.6"/>
<line x1="238" y1="496.5" x2="237" y2="498.3" stroke="#666" stroke-width="0.6"/>
<text x="62.0" y="503.4" stroke="#555" stroke-width="0.3" fill="#555" font-size="2.2" >10</text>
<text x="83.5" y="503.4" stroke="#555" stroke-width="0.3" fill="#555" font-size="2.2" >10</text>
<text x="106.0" y="503.4" stroke="#555" stroke-width="0.3" fill="#555" font-size="2.2" >10</text>
<text x="128.0" y="503.4" stroke="#555" stroke-width="0.3" fill="#555" font-size="2.2" >10</text>
<text x="149.5" y="503.4" stroke="#555" stroke-width="0.3" fill="#555" font-size="2.2" >10</text>
<text x="61.2" y="512.9" font-size="7.6" fill="#000" stroke="#000" stroke-width="0.4" textLength="10.4" lengthAdjust="spacingAndGlyphs">10<tspan font-size="5.2" dy="-3.0">0</tspan></text>
<text x="77" y="512.9" font-size="7.6" fill="#000" stroke="#000" stroke-width="0.4" textLength="10.4" lengthAdjust="spacingAndGlyphs">10<tspan font-size="5.2" dy="-3.0">1</tspan></text>
<text x="94" y="512.9" font-size="7.6" fill="#000" stroke="#000" stroke-width="0.4" textLength="10.4" lengthAdjust="spacingAndGlyphs">10<tspan font-size="5.2" dy="-3.0">2</tspan></text>
<text x="112" y="512.9" font-size="7.6" fill="#000" stroke="#000" stroke-width="0.4" textLength="10.4" lengthAdjust="spacingAndGlyphs">10<tspan font-size="5.2" dy="-3.0">3</tspan></text>
<text x="125.7" y="512.9" font-size="7.6" fill="#000" stroke="#000" stroke-width="0.4" textLength="10.4" lengthAdjust="spacingAndGlyphs">10<tspan font-size="5.2" dy="-3.0">4</tspan></text>
<line x1="31.3" y1="353.9" x2="31.3" y2="393.5" stroke="#000" stroke-width="1.1"/>
<path d="M29.1 354.9L31.3 345.4L33.5 354.9Z" fill="#000"/>
<line x1="30.9" y1="451.3" x2="30.9" y2="492.3" stroke="#000" stroke-width="1.1"/>
<path d="M28.7 452.3L30.9 443.8L33.1 452.3Z" fill="#000"/>
<line x1="54.4" y1="518.7" x2="96.5" y2="518.7" stroke="#000" stroke-width="1.1"/>
<path d="M95.5 516.7L104.5 518.7L95.5 520.7Z" fill="#000"/>
<text transform="translate(28.1 372.7) rotate(-90)" stroke="#000" stroke-width="0.6" text-anchor="middle" font-size="9.8" textLength="21.4" lengthAdjust="spacingAndGlyphs" >TβRI</text>
<text transform="translate(28.3 471.5) rotate(-90)" stroke="#000" stroke-width="0.6" text-anchor="middle" font-size="9.8" textLength="24.6" lengthAdjust="spacingAndGlyphs" >TβRII</text>
<text x="61.2" y="530.3" stroke="#000" stroke-width="0.6" font-size="10" textLength="19" lengthAdjust="spacingAndGlyphs" >CD4</text>
<text x="301.7" y="325.9" stroke="#000" stroke-width="0.35" font-weight="bold" font-size="13" >G</text>
<text transform="translate(314.0 410.4) rotate(-90)" stroke="#000" stroke-width="0.45" text-anchor="middle" font-size="9.5" textLength="95" lengthAdjust="spacingAndGlyphs" >Percentage  of TββRI</text>
<text transform="translate(310.3 360.3) rotate(-90)" stroke="#000" stroke-width="0.3" text-anchor="middle" font-size="6" >+</text>
<text transform="translate(326.4 407.8) rotate(-90)" stroke="#000" stroke-width="0.45" text-anchor="middle" font-size="9.8" textLength="38" lengthAdjust="spacingAndGlyphs" >cells (%)</text>
<line x1="346.5" y1="356.7" x2="346.5" y2="454.1" stroke="#000" stroke-width="1.1"/>
<line x1="344.3" y1="453.6" x2="346.5" y2="453.6" stroke="#000" stroke-width="1"/>
<text x="339.6" y="457.20000000000005" stroke="#000" stroke-width="0.45" text-anchor="end" font-size="10" textLength="5.6" lengthAdjust="spacingAndGlyphs" >0</text>
<line x1="344.3" y1="429.5" x2="346.5" y2="429.5" stroke="#000" stroke-width="1"/>
<text x="339.6" y="433.1" stroke="#000" stroke-width="0.45" text-anchor="end" font-size="10" textLength="5.6" lengthAdjust="spacingAndGlyphs" >5</text>
<line x1="344.3" y1="405.40000000000003" x2="346.5" y2="405.40000000000003" stroke="#000" stroke-width="1"/>
<text x="339.6" y="409.00000000000006" stroke="#000" stroke-width="0.45" text-anchor="end" font-size="10" textLength="11.2" lengthAdjust="spacingAndGlyphs" >10</text>
<line x1="344.3" y1="381.3" x2="346.5" y2="381.3" stroke="#000" stroke-width="1"/>
<text x="339.6" y="384.90000000000003" stroke="#000" stroke-width="0.45" text-anchor="end" font-size="10" textLength="11.2" lengthAdjust="spacingAndGlyphs" >15</text>
<line x1="344.3" y1="357.20000000000005" x2="346.5" y2="357.20000000000005" stroke="#000" stroke-width="1"/>
<text x="339.6" y="360.80000000000007" stroke="#000" stroke-width="0.45" text-anchor="end" font-size="10" textLength="11.2" lengthAdjust="spacingAndGlyphs" >20</text>
<line x1="346.5" y1="453.6" x2="464.5" y2="453.6" stroke="#000" stroke-width="1.3"/>
<rect x="361.0" y="425.7" width="12.300000000000011" height="27.900000000000034" fill="#fff" stroke="#000" stroke-width="1"/>
<line x1="367.15" y1="421" x2="367.15" y2="425.2" stroke="#000" stroke-width="1"/>
<line x1="364.65" y1="421" x2="369.65" y2="421" stroke="#000" stroke-width="1"/>
<rect x="386.5" y="387.5" width="13.199999999999989" height="66.10000000000002" fill="#000"/>
<line x1="393.1" y1="381.2" x2="393.1" y2="387.5" stroke="#000" stroke-width="1"/>
<line x1="390.6" y1="381.2" x2="395.6" y2="381.2" stroke="#000" stroke-width="1"/>
<rect x="413.0" y="444.1" width="12.300000000000011" height="9.5" fill="#fff" stroke="#000" stroke-width="1"/>
<line x1="419.15" y1="442" x2="419.15" y2="443.6" stroke="#000" stroke-width="1"/>
<line x1="416.65" y1="442" x2="421.65" y2="442" stroke="#000" stroke-width="1"/>
<rect x="438.5" y="411.9" width="12.899999999999977" height="41.700000000000045" fill="#000"/>
<line x1="444.95" y1="405.3" x2="444.95" y2="411.9" stroke="#000" stroke-width="1"/>
<line x1="442.45" y1="405.3" x2="447.45" y2="405.3" stroke="#000" stroke-width="1"/>
<line x1="370.7" y1="377.5" x2="390.8" y2="377.5" stroke="#000" stroke-width="1.3"/>
<text x="381.2" y="379.4" stroke="#000" stroke-width="0.12" font-weight="bold" text-anchor="middle" font-size="7.5" textLength="10.5" lengthAdjust="spacingAndGlyphs" >***</text>
<line x1="425" y1="400.1" x2="444.8" y2="400.1" stroke="#000" stroke-width="1.3"/>
<text x="434.4" y="401.0" stroke="#000" stroke-width="0.12" font-weight="bold" text-anchor="middle" font-size="7.5" textLength="10.5" lengthAdjust="spacingAndGlyphs" >***</text>
<line x1="359.2" y1="457.0" x2="392.0" y2="457.0" stroke="#000" stroke-width="1.6"/>
<line x1="417.5" y1="457.0" x2="450.3" y2="457.0" stroke="#000" stroke-width="1.6"/>
<text x="356.0" y="472.3" stroke="#000" stroke-width="0.45" font-size="9.8" textLength="19.0" lengthAdjust="spacingAndGlyphs" >CD4</text>
<text x="375.2" y="469.1" stroke="#000" stroke-width="0.3" font-size="6" textLength="3.0" lengthAdjust="spacingAndGlyphs" >+</text>
<text x="378.6" y="472.3" stroke="#000" stroke-width="0.45" font-size="9.8" textLength="25.5" lengthAdjust="spacingAndGlyphs" >CD25</text>
<text x="404.40000000000003" y="469.1" stroke="#000" stroke-width="0.3" font-size="6" textLength="3.0" lengthAdjust="spacingAndGlyphs" >+</text>
<text x="411.2" y="472.3" stroke="#000" stroke-width="0.45" font-size="9.8" textLength="19.0" lengthAdjust="spacingAndGlyphs" >CD4</text>
<text x="430.4" y="469.1" stroke="#000" stroke-width="0.3" font-size="6" textLength="3.0" lengthAdjust="spacingAndGlyphs" >+</text>
<text x="433.8" y="472.3" stroke="#000" stroke-width="0.45" font-size="9.8" textLength="25.5" lengthAdjust="spacingAndGlyphs" >CD25</text>
<text x="459.6" y="469.1" stroke="#000" stroke-width="0.3" font-size="6" textLength="2.4" lengthAdjust="spacingAndGlyphs" >-</text>
<rect x="422.7" y="354.3" width="7.5" height="5.800000000000011" fill="#fff" stroke="#000" stroke-width="1"/>
<rect x="422.2" y="365.4" width="8.5" height="6.300000000000011" fill="#000"/>
<text x="435.5" y="358.4" stroke="#000" stroke-width="0.45" font-style="italic" font-size="10" textLength="32.5" lengthAdjust="spacingAndGlyphs" >PARP1</text>
<text x="468.0" y="355.4" stroke="#000" stroke-width="0.2" font-weight="bold" font-style="italic" font-size="6" textLength="9" lengthAdjust="spacingAndGlyphs" >+/+</text>
<text x="436" y="371.5" stroke="#000" stroke-width="0.45" font-style="italic" font-size="10" textLength="32.2" lengthAdjust="spacingAndGlyphs" >PARP1</text>
<text x="468.3" y="368.4" stroke="#000" stroke-width="0.2" font-weight="bold" font-style="italic" font-size="6" textLength="9" lengthAdjust="spacingAndGlyphs" >–/–</text>
<text x="-0.8" y="549.5" stroke="#000" stroke-width="0.35" font-weight="bold" font-size="13" >H</text>
<text transform="translate(8.5 606.3) rotate(-90)" stroke="#000" stroke-width="0.45" text-anchor="middle" font-size="9.5" textLength="96" lengthAdjust="spacingAndGlyphs" >Percentage  of TββRII</text>
<text transform="translate(6.3 556.0) rotate(-90)" stroke="#000" stroke-width="0.3" text-anchor="middle" font-size="6" >+</text>
<text transform="translate(20.2 604.6) rotate(-90)" stroke="#000" stroke-width="0.45" text-anchor="middle" font-size="9.8" textLength="37.5" lengthAdjust="spacingAndGlyphs" >cells (%)</text>
<line x1="33" y1="566" x2="33" y2="657.5" stroke="#666" stroke-width="1"/>
<line x1="31" y1="657.0" x2="33" y2="657.0" stroke="#666" stroke-width="1"/>
<text x="28.2" y="659.0" stroke="#222" stroke-width="0.2" font-weight="bold" text-anchor="end" fill="#222" font-size="6.0" textLength="2.4" lengthAdjust="spacingAndGlyphs" >0</text>
<line x1="31" y1="638.92" x2="33" y2="638.92" stroke="#666" stroke-width="1"/>
<text x="28.2" y="640.92" stroke="#222" stroke-width="0.2" font-weight="bold" text-anchor="end" fill="#222" font-size="6.0" textLength="4.8" lengthAdjust="spacingAndGlyphs" >10</text>
<line x1="31" y1="620.84" x2="33" y2="620.84" stroke="#666" stroke-width="1"/>
<text x="28.2" y="622.84" stroke="#222" stroke-width="0.2" font-weight="bold" text-anchor="end" fill="#222" font-size="6.0" textLength="4.8" lengthAdjust="spacingAndGlyphs" >20</text>
<line x1="31" y1="602.76" x2="33" y2="602.76" stroke="#666" stroke-width="1"/>
<text x="28.2" y="604.76" stroke="#222" stroke-width="0.2" font-weight="bold" text-anchor="end" fill="#222" font-size="6.0" textLength="4.8" lengthAdjust="spacingAndGlyphs" >30</text>
<line x1="31" y1="584.6800000000001" x2="33" y2="584.6800000000001" stroke="#666" stroke-width="1"/>
<text x="28.2" y="586.6800000000001" stroke="#222" stroke-width="0.2" font-weight="bold" text-anchor="end" fill="#222" font-size="6.0" textLength="4.8" lengthAdjust="spacingAndGlyphs" >40</text>
<line x1="31" y1="566.6" x2="33" y2="566.6" stroke="#666" stroke-width="1"/>
<text x="28.2" y="568.6" stroke="#222" stroke-width="0.2" font-weight="bold" text-anchor="end" fill="#222" font-size="6.0" textLength="4.8" lengthAdjust="spacingAndGlyphs" >50</text>
<line x1="33" y1="657" x2="154" y2="657" stroke="#666" stroke-width="1"/>
<rect x="47.8" y="635.7" width="12.700000000000003" height="21.299999999999955" fill="#fff" stroke="#777" stroke-width="1"/>
<line x1="54.15" y1="629" x2="54.15" y2="635.2" stroke="#999" stroke-width="1"/>
<line x1="52.15" y1="629" x2="56.15" y2="629" stroke="#999" stroke-width="1"/>
<rect x="75.2" y="575.4" width="13.0" height="81.60000000000002" fill="#000"/>
<line x1="81.7" y1="572.4" x2="81.7" y2="575.4" stroke="#777" stroke-width="1"/>
<line x1="79.7" y1="572.4" x2="83.7" y2="572.4" stroke="#777" stroke-width="1"/>
<rect x="101.7" y="648.5" width="12.0" height="8.5" fill="#fff" stroke="#555" stroke-width="1"/>
<line x1="107.7" y1="647" x2="107.7" y2="648" stroke="#555" stroke-width="1"/>
<line x1="105.7" y1="647" x2="109.7" y2="647" stroke="#555" stroke-width="1"/>
<rect x="129.6" y="597.7" width="12.400000000000006" height="59.299999999999955" fill="#000"/>
<line x1="135.8" y1="592" x2="135.8" y2="597.7" stroke="#555" stroke-width="1"/>
<line x1="133.8" y1="592" x2="137.8" y2="592" stroke="#555" stroke-width="1"/>
<line x1="60" y1="569" x2="80" y2="569" stroke="#000" stroke-width="1.2"/>
<text x="69.4" y="569.9" stroke="#000" stroke-width="0.12" font-weight="bold" text-anchor="middle" font-size="7.5" textLength="11" lengthAdjust="spacingAndGlyphs" >***</text>
<line x1="105" y1="590.4" x2="129" y2="590.4" stroke="#000" stroke-width="1.2"/>
<text x="117.0" y="590.3" stroke="#000" stroke-width="0.12" font-weight="bold" text-anchor="middle" font-size="7.5" textLength="11" lengthAdjust="spacingAndGlyphs" >***</text>
<line x1="47.3" y1="660.4" x2="83.4" y2="660.4" stroke="#000" stroke-width="1.5"/>
<line x1="106.4" y1="660.4" x2="146.8" y2="660.4" stroke="#000" stroke-width="1.5"/>
<text x="41.3" y="673.4" stroke="#000" stroke-width="0.45" font-size="10" textLength="19.5" lengthAdjust="spacingAndGlyphs" >CD4</text>
<text x="61.0" y="670.8" stroke="#000" stroke-width="0.3" font-size="6" textLength="3.0" lengthAdjust="spacingAndGlyphs" >+</text>
<text x="64.39999999999999" y="673.4" stroke="#000" stroke-width="0.45" font-size="10" textLength="26.2" lengthAdjust="spacingAndGlyphs" >CD25</text>
<text x="90.89999999999999" y="670.8" stroke="#000" stroke-width="0.3" font-size="6" textLength="3.0" lengthAdjust="spacingAndGlyphs" >+</text>
<text x="103.2" y="674.7" stroke="#000" stroke-width="0.45" font-size="10" textLength="19.5" lengthAdjust="spacingAndGlyphs" >CD4</text>
<text x="122.9" y="672.1" stroke="#000" stroke-width="0.3" font-size="6" textLength="3.0" lengthAdjust="spacingAndGlyphs" >+</text>
<text x="126.3" y="674.7" stroke="#000" stroke-width="0.45" font-size="10" textLength="26.2" lengthAdjust="spacingAndGlyphs" >CD25</text>
<text x="152.8" y="672.1" stroke="#000" stroke-width="0.3" font-size="6" textLength="2.4" lengthAdjust="spacingAndGlyphs" >-</text>
<rect x="115.1" y="553.3" width="8.200000000000003" height="6.100000000000023" fill="#fff" stroke="#000" stroke-width="1"/>
<rect x="114.6" y="565.8" width="9.200000000000003" height="6.100000000000023" fill="#000"/>
<text x="129" y="558.3" stroke="#000" stroke-width="0.45" font-style="italic" font-size="10" textLength="32.8" lengthAdjust="spacingAndGlyphs" >PARP1</text>
<text x="162" y="555.1" stroke="#000" stroke-width="0.2" font-weight="bold" font-style="italic" font-size="6" textLength="8.8" lengthAdjust="spacingAndGlyphs" >+/+</text>
<text x="129.6" y="571.7" stroke="#000" stroke-width="0.45" font-style="italic" font-size="10" textLength="32.5" lengthAdjust="spacingAndGlyphs" >PARP1</text>
<text x="162" y="568.5" stroke="#000" stroke-width="0.2" font-weight="bold" font-style="italic" font-size="6" textLength="8.8" lengthAdjust="spacingAndGlyphs" >–/–</text>
<text x="174.6" y="549.6" stroke="#000" stroke-width="0.35" font-weight="bold" font-size="13" >I</text>
<text transform="translate(185.6 608) rotate(-90)" stroke="#000" stroke-width="0.45" text-anchor="middle" font-size="10" textLength="88" lengthAdjust="spacingAndGlyphs" >Relative Enrichment</text>
<text transform="translate(196.3 604.0) rotate(-90)" stroke="#000" stroke-width="0.45" text-anchor="middle" font-size="10" textLength="32.3" lengthAdjust="spacingAndGlyphs" >(Input)</text>
<line x1="205.6" y1="564.5" x2="205.6" y2="653.9" stroke="#666" stroke-width="1"/>
<line x1="203.6" y1="653.4" x2="205.6" y2="653.4" stroke="#666" stroke-width="1"/>
<text x="203.8" y="655.5" stroke="#222" stroke-width="0.2" font-weight="bold" text-anchor="end" fill="#222" font-size="6.3" textLength="6.6" lengthAdjust="spacingAndGlyphs" >0.0</text>
<line x1="203.6" y1="631.3" x2="205.6" y2="631.3" stroke="#666" stroke-width="1"/>
<text x="203.8" y="633.4" stroke="#222" stroke-width="0.2" font-weight="bold" text-anchor="end" fill="#222" font-size="6.3" textLength="6.6" lengthAdjust="spacingAndGlyphs" >0.5</text>
<line x1="203.6" y1="609.1999999999999" x2="205.6" y2="609.1999999999999" stroke="#666" stroke-width="1"/>
<text x="203.8" y="611.3" stroke="#222" stroke-width="0.2" font-weight="bold" text-anchor="end" fill="#222" font-size="6.3" textLength="6.6" lengthAdjust="spacingAndGlyphs" >1.0</text>
<line x1="203.6" y1="587.0999999999999" x2="205.6" y2="587.0999999999999" stroke="#666" stroke-width="1"/>
<text x="203.8" y="589.1999999999999" stroke="#222" stroke-width="0.2" font-weight="bold" text-anchor="end" fill="#222" font-size="6.3" textLength="6.6" lengthAdjust="spacingAndGlyphs" >1.5</text>
<line x1="203.6" y1="565.0" x2="205.6" y2="565.0" stroke="#666" stroke-width="1"/>
<text x="203.8" y="567.1" stroke="#222" stroke-width="0.2" font-weight="bold" text-anchor="end" fill="#222" font-size="6.3" textLength="6.6" lengthAdjust="spacingAndGlyphs" >2.0</text>
<line x1="205.6" y1="653.4" x2="309" y2="653.4" stroke="#666" stroke-width="1"/>
<rect x="217.9" y="609.9" width="12.199999999999989" height="43.5" fill="#fff" stroke="#666" stroke-width="1"/>
<line x1="218" y1="609.9" x2="230" y2="609.9" stroke="#444" stroke-width="1"/>
<rect x="237" y="627" width="13" height="26.399999999999977" fill="#000"/>
<line x1="243.5" y1="625.6" x2="243.5" y2="627" stroke="#000" stroke-width="1"/>
<line x1="241.0" y1="625.6" x2="246.0" y2="625.6" stroke="#000" stroke-width="1"/>
<rect x="270.5" y="609.9" width="12.399999999999977" height="43.5" fill="#fff" stroke="#666" stroke-width="1"/>
<line x1="270.5" y1="609.9" x2="283" y2="609.9" stroke="#444" stroke-width="1"/>
<rect x="290" y="588" width="13" height="65.39999999999998" fill="#000"/>
<line x1="296.5" y1="586" x2="296.5" y2="588" stroke="#000" stroke-width="1"/>
<line x1="294.0" y1="586" x2="299.0" y2="586" stroke="#000" stroke-width="1"/>
<text x="219.2" y="663.4" stroke="#000" stroke-width="0.12" font-weight="bold" font-style="italic" font-size="10" textLength="27.6" lengthAdjust="spacingAndGlyphs" >Tgfbr1</text>
<text x="273.6" y="663.4" stroke="#000" stroke-width="0.12" font-weight="bold" font-style="italic" font-size="10" textLength="27.6" lengthAdjust="spacingAndGlyphs" >Tgfbr2</text>
<rect x="296.9" y="553.3" width="5.800000000000011" height="4.900000000000091" fill="#fff" stroke="#444" stroke-width="1"/>
<rect x="296.4" y="565.8" width="6.800000000000011" height="5.400000000000091" fill="#000"/>
<text x="308" y="558.2" stroke="#000" stroke-width="0.45" font-size="10" textLength="15.2" lengthAdjust="spacingAndGlyphs" >IgG</text>
<text x="308" y="571.2" stroke="#000" stroke-width="0.45" font-size="10" textLength="35" lengthAdjust="spacingAndGlyphs" >PARP-1</text>
<text x="344.4" y="549.7" stroke="#000" stroke-width="0.35" font-weight="bold" font-size="13" >J</text>
<text transform="translate(352.6 603.5) rotate(-90)" stroke="#000" stroke-width="0.45" text-anchor="middle" font-size="10" textLength="87" lengthAdjust="spacingAndGlyphs" >Relative expression</text>
<text transform="translate(363.2 603) rotate(-90)" stroke="#000" stroke-width="0.45" text-anchor="middle" font-size="10" textLength="34" lengthAdjust="spacingAndGlyphs" >(HPRT)</text>
<line x1="377.5" y1="564" x2="377.5" y2="653.5" stroke="#555" stroke-width="0.9"/>
<line x1="375" y1="653.0" x2="377" y2="653.0" stroke="#777" stroke-width="1"/>
<text x="374.4" y="655.2" stroke="#222" stroke-width="0.2" font-weight="bold" text-anchor="end" fill="#222" font-size="6.6" textLength="8.0" lengthAdjust="spacingAndGlyphs" >0.0</text>
<line x1="375" y1="630.85" x2="377" y2="630.85" stroke="#777" stroke-width="1"/>
<text x="374.4" y="633.0500000000001" stroke="#222" stroke-width="0.2" font-weight="bold" text-anchor="end" fill="#222" font-size="6.6" textLength="8.0" lengthAdjust="spacingAndGlyphs" >0.5</text>
<line x1="375" y1="608.7" x2="377" y2="608.7" stroke="#777" stroke-width="1"/>
<text x="374.4" y="610.9000000000001" stroke="#222" stroke-width="0.2" font-weight="bold" text-anchor="end" fill="#222" font-size="6.6" textLength="8.0" lengthAdjust="spacingAndGlyphs" >1.0</text>
<line x1="375" y1="586.55" x2="377" y2="586.55" stroke="#777" stroke-width="1"/>
<text x="374.4" y="588.75" stroke="#222" stroke-width="0.2" font-weight="bold" text-anchor="end" fill="#222" font-size="6.6" textLength="8.0" lengthAdjust="spacingAndGlyphs" >1.5</text>
<line x1="375" y1="564.4" x2="377" y2="564.4" stroke="#777" stroke-width="1"/>
<text x="374.4" y="566.6" stroke="#222" stroke-width="0.2" font-weight="bold" text-anchor="end" fill="#222" font-size="6.6" textLength="8.0" lengthAdjust="spacingAndGlyphs" >2.0</text>
<line x1="377" y1="653" x2="497" y2="653" stroke="#888" stroke-width="1"/>
<rect x="388.5" y="608.9" width="14.600000000000023" height="44.10000000000002" fill="#fff" stroke="#888" stroke-width="1"/>
<rect x="411.4" y="575.6" width="14.600000000000023" height="77.39999999999998" fill="#000"/>
<line x1="418.7" y1="570" x2="418.7" y2="575.6" stroke="#333" stroke-width="1"/>
<line x1="415.7" y1="570" x2="421.7" y2="570" stroke="#333" stroke-width="1"/>
<rect x="449.5" y="608.9" width="14" height="44.10000000000002" fill="#fff" stroke="#888" stroke-width="1"/>
<rect x="471.6" y="605" width="14.799999999999955" height="48" fill="#000"/>
<line x1="479.0" y1="601" x2="479.0" y2="605" stroke="#333" stroke-width="1"/>
<line x1="476.0" y1="601" x2="482.0" y2="601" stroke="#333" stroke-width="1"/>
<line x1="391.6" y1="565" x2="419" y2="565" stroke="#999" stroke-width="1"/>
<text x="403.6" y="560" stroke="#000" stroke-width="0.12" font-weight="bold" text-anchor="middle" font-size="8.8" >*</text>
<text x="395.2" y="663.1" stroke="#000" stroke-width="0.12" font-weight="bold" font-style="italic" font-size="10" textLength="26.8" lengthAdjust="spacingAndGlyphs" >Tgfbr1</text>
<text x="455.4" y="664.8" stroke="#000" stroke-width="0.12" font-weight="bold" font-style="italic" font-size="10" textLength="26.8" lengthAdjust="spacingAndGlyphs" >Tgfbr2</text>
<rect x="473.5" y="547.3" width="12" height="5.100000000000023" fill="#fff" stroke="#555" stroke-width="1"/>
<rect x="473" y="558.8" width="13" height="5.600000000000023" fill="#000"/>
<text x="492.8" y="552.6" stroke="#000" stroke-width="0.45" font-size="10" textLength="27.5" lengthAdjust="spacingAndGlyphs" >-5AIQ</text>
<text x="491" y="564.6" stroke="#000" stroke-width="0.45" font-size="10" textLength="29.5" lengthAdjust="spacingAndGlyphs" >+5AIQ</text>
</svg>
</body></html>
